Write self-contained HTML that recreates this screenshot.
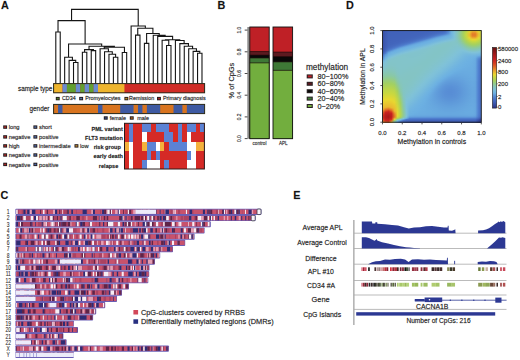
<!DOCTYPE html>
<html><head><meta charset="utf-8"><style>
html,body{margin:0;padding:0;background:#fff;width:520px;height:360px;overflow:hidden}
svg{display:block}
text{font-family:"Liberation Sans", sans-serif;stroke:#222;stroke-width:0.28px;stroke-opacity:0.55}
</style></head><body>
<svg width="520" height="360" viewBox="0 0 520 360">
<text x="0.9" y="8.9" font-size="10.8" font-weight="bold" fill="#111" >A</text>
<text x="217.4" y="9.2" font-size="10.8" font-weight="bold" fill="#111" >B</text>
<text x="346.1" y="8.9" font-size="10.8" font-weight="bold" fill="#111" >D</text>
<text x="0.4" y="199" font-size="10.8" font-weight="bold" fill="#111" >C</text>
<text x="293.2" y="199.2" font-size="10.8" font-weight="bold" fill="#111" >E</text>
<path d="M55.80 32.00L55.80 83.20M60.23 32.00L60.23 83.20M55.80 32.00L60.23 32.00M73.52 62.50L73.52 83.20M77.95 62.50L77.95 83.20M73.52 62.50L77.95 62.50M69.09 60.40L69.09 83.20M75.73 60.40L75.73 62.50M69.09 60.40L75.73 60.40M64.66 57.30L64.66 83.20M72.41 57.30L72.41 60.40M64.66 57.30L72.41 57.30M82.38 52.20L82.38 83.20M86.81 52.20L86.81 83.20M82.38 52.20L86.81 52.20M91.24 50.60L91.24 83.20M95.67 50.60L95.67 83.20M91.24 50.60L95.67 50.60M84.59 49.60L84.59 52.20M93.45 49.60L93.45 50.60M84.59 49.60L93.45 49.60M113.39 57.20L113.39 83.20M117.82 57.20L117.82 83.20M113.39 57.20L117.82 57.20M108.96 54.25L108.96 83.20M115.60 54.25L115.60 57.20M108.96 54.25L115.60 54.25M104.53 51.75L104.53 83.20M112.28 51.75L112.28 54.25M104.53 51.75L112.28 51.75M100.10 48.80L100.10 83.20M108.41 48.80L108.41 51.75M100.10 48.80L108.41 48.80M122.25 52.50L122.25 83.20M126.68 52.50L126.68 83.20M122.25 52.50L126.68 52.50M104.25 47.30L104.25 48.80M124.46 47.30L124.46 52.50M104.25 47.30L124.46 47.30M89.02 46.30L89.02 49.60M114.36 46.30L114.36 47.30M89.02 46.30L114.36 46.30M68.54 44.00L68.54 57.30M101.69 44.00L101.69 46.30M68.54 44.00L101.69 44.00M58.02 20.60L58.02 32.00M85.11 20.60L85.11 44.00M58.02 20.60L85.11 20.60M135.54 35.10L135.54 83.20M139.97 35.10L139.97 83.20M135.54 35.10L139.97 35.10M144.40 43.40L144.40 83.20M148.83 43.40L148.83 83.20M144.40 43.40L148.83 43.40M166.55 45.50L166.55 83.20M170.98 45.50L170.98 83.20M166.55 45.50L170.98 45.50M162.12 40.20L162.12 83.20M168.76 40.20L168.76 45.50M162.12 40.20L168.76 40.20M197.56 53.30L197.56 83.20M201.99 53.30L201.99 83.20M197.56 53.30L201.99 53.30M193.13 51.40L193.13 83.20M199.78 51.40L199.78 53.30M193.13 51.40L199.78 51.40M188.70 48.70L188.70 83.20M196.45 48.70L196.45 51.40M188.70 48.70L196.45 48.70M184.27 46.30L184.27 83.20M192.58 46.30L192.58 48.70M184.27 46.30L192.58 46.30M179.84 43.60L179.84 83.20M188.42 43.60L188.42 46.30M179.84 43.60L188.42 43.60M175.41 40.50L175.41 83.20M184.13 40.50L184.13 43.60M175.41 40.50L184.13 40.50M165.44 39.70L165.44 40.20M179.77 39.70L179.77 40.50M165.44 39.70L179.77 39.70M157.69 36.40L157.69 83.20M172.61 36.40L172.61 39.70M157.69 36.40L172.61 36.40M153.26 35.20L153.26 83.20M165.15 35.20L165.15 36.40M153.26 35.20L165.15 35.20M146.61 33.50L146.61 43.40M159.20 33.50L159.20 35.20M146.61 33.50L159.20 33.50M137.75 28.30L137.75 35.10M152.91 28.30L152.91 33.50M137.75 28.30L152.91 28.30M131.11 26.00L131.11 83.20M145.33 26.00L145.33 28.30M131.11 26.00L145.33 26.00M71.56 9.40L71.56 20.60M138.22 9.40L138.22 26.00M71.56 9.40L138.22 9.40" stroke="#151515" stroke-width="1.1" fill="none" stroke-linecap="square"/>
<rect x="53.6" y="83.6" width="151" height="9.2" fill="#d02c26"/>
<rect x="53.6" y="83.6" width="8.88" height="9.2" fill="#eeb52e"/>
<rect x="62.48" y="83.6" width="4.44" height="9.2" fill="#6a8cd0"/>
<rect x="66.92" y="83.6" width="8.88" height="9.2" fill="#62a030"/>
<rect x="75.81" y="83.6" width="4.44" height="9.2" fill="#6a8cd0"/>
<rect x="80.25" y="83.6" width="4.44" height="9.2" fill="#62a030"/>
<rect x="84.69" y="83.6" width="4.44" height="9.2" fill="#6a8cd0"/>
<rect x="89.13" y="83.6" width="4.44" height="9.2" fill="#62a030"/>
<rect x="93.57" y="83.6" width="4.44" height="9.2" fill="#6a8cd0"/>
<rect x="98.01" y="83.6" width="26.65" height="9.2" fill="#eeb52e"/>
<rect x="124.66" y="83.6" width="79.94" height="9.2" fill="#d02c26"/>
<rect x="53.6" y="83.6" width="151" height="9.2" fill="none" stroke="#2a2a1a" stroke-width="1"/>
<rect x="53.6" y="104.4" width="151" height="9.2" fill="#3e5aa2"/>
<rect x="53.6" y="104.4" width="4.44" height="9.2" fill="#d8741f"/>
<rect x="62.48" y="104.4" width="35.53" height="9.2" fill="#d8741f"/>
<rect x="102.45" y="104.4" width="17.76" height="9.2" fill="#d8741f"/>
<rect x="133.54" y="104.4" width="4.44" height="9.2" fill="#d8741f"/>
<rect x="142.42" y="104.4" width="4.44" height="9.2" fill="#d8741f"/>
<rect x="160.19" y="104.4" width="13.32" height="9.2" fill="#d8741f"/>
<rect x="182.39" y="104.4" width="4.44" height="9.2" fill="#d8741f"/>
<rect x="53.6" y="104.4" width="151" height="9.2" fill="none" stroke="#2a2a1a" stroke-width="1"/>
<text x="18" y="90.8" font-size="6.35" fill="#222" >sample type</text>
<text x="29.5" y="110.8" font-size="6.4" fill="#222" >gender</text>
<rect x="55.8" y="96.9" width="3.9" height="3.4" fill="#221a1c"/>
<rect x="56.7" y="97.85" width="2.1" height="1.5" fill="#52802c"/>
<text x="61.9" y="100.4" font-size="5.4" fill="#222" >CD34</text>
<rect x="79.2" y="96.9" width="3.9" height="3.4" fill="#221a1c"/>
<rect x="80.1" y="97.85" width="2.1" height="1.5" fill="#5871a4"/>
<text x="85.2" y="100.4" font-size="5.4" fill="#222" >Promyelocytes</text>
<rect x="124.4" y="96.9" width="3.9" height="3.4" fill="#221a1c"/>
<rect x="125.3" y="97.85" width="2.1" height="1.5" fill="#bb902b"/>
<text x="129.1" y="100.4" font-size="5.4" fill="#222" >Remission</text>
<rect x="157" y="96.9" width="3.9" height="3.4" fill="#221a1c"/>
<rect x="157.9" y="97.85" width="2.1" height="1.5" fill="#a42925"/>
<text x="162.9" y="100.4" font-size="5.4" fill="#222" >Primary diagnosis</text>
<rect x="103.8" y="116.3" width="3.9" height="3.4" fill="#221a1c"/>
<rect x="104.7" y="117.25" width="2.1" height="1.5" fill="#374c82"/>
<text x="109.8" y="119.9" font-size="5.4" fill="#222" >female</text>
<rect x="129.8" y="116.3" width="3.9" height="3.4" fill="#221a1c"/>
<rect x="130.7" y="117.25" width="2.1" height="1.5" fill="#aa5f1f"/>
<text x="137.3" y="119.9" font-size="5.4" fill="#222" >male</text>
<rect x="124.5" y="123.3" width="79.9" height="45.7" fill="#d52a26"/>
<rect x="128.94" y="123.3" width="4.44" height="9.14" fill="#5c82d4" shape-rendering="crispEdges"/>
<rect x="142.26" y="123.3" width="8.88" height="9.14" fill="#5c82d4" shape-rendering="crispEdges"/>
<rect x="155.57" y="123.3" width="13.32" height="9.14" fill="#5c82d4" shape-rendering="crispEdges"/>
<rect x="177.77" y="123.3" width="4.44" height="9.14" fill="#5c82d4" shape-rendering="crispEdges"/>
<rect x="186.64" y="123.3" width="8.88" height="9.14" fill="#5c82d4" shape-rendering="crispEdges"/>
<rect x="199.96" y="123.3" width="4.44" height="9.14" fill="#5c82d4" shape-rendering="crispEdges"/>
<rect x="128.94" y="132.44" width="4.44" height="9.14" fill="#5c82d4" shape-rendering="crispEdges"/>
<rect x="142.26" y="132.44" width="4.44" height="9.14" fill="#ffffff" shape-rendering="crispEdges"/>
<rect x="164.45" y="132.44" width="8.88" height="9.14" fill="#5c82d4" shape-rendering="crispEdges"/>
<rect x="177.77" y="132.44" width="4.44" height="9.14" fill="#5c82d4" shape-rendering="crispEdges"/>
<rect x="186.64" y="132.44" width="4.44" height="9.14" fill="#ffffff" shape-rendering="crispEdges"/>
<rect x="124.5" y="141.58" width="4.44" height="9.14" fill="#f4b13c" shape-rendering="crispEdges"/>
<rect x="128.94" y="141.58" width="4.44" height="9.14" fill="#ffffff" shape-rendering="crispEdges"/>
<rect x="142.26" y="141.58" width="4.44" height="9.14" fill="#f4b13c" shape-rendering="crispEdges"/>
<rect x="146.69" y="141.58" width="8.88" height="9.14" fill="#5c82d4" shape-rendering="crispEdges"/>
<rect x="155.57" y="141.58" width="4.44" height="9.14" fill="#ffffff" shape-rendering="crispEdges"/>
<rect x="160.01" y="141.58" width="4.44" height="9.14" fill="#f4b13c" shape-rendering="crispEdges"/>
<rect x="168.89" y="141.58" width="17.76" height="9.14" fill="#5c82d4" shape-rendering="crispEdges"/>
<rect x="186.64" y="141.58" width="8.88" height="9.14" fill="#ffffff" shape-rendering="crispEdges"/>
<rect x="195.52" y="141.58" width="8.88" height="9.14" fill="#f4b13c" shape-rendering="crispEdges"/>
<rect x="128.94" y="150.72" width="4.44" height="9.14" fill="#ffffff" shape-rendering="crispEdges"/>
<rect x="146.69" y="150.72" width="4.44" height="9.14" fill="#5c82d4" shape-rendering="crispEdges"/>
<rect x="155.57" y="150.72" width="4.44" height="9.14" fill="#5c82d4" shape-rendering="crispEdges"/>
<rect x="186.64" y="150.72" width="4.44" height="9.14" fill="#5c82d4" shape-rendering="crispEdges"/>
<rect x="191.08" y="150.72" width="4.44" height="9.14" fill="#ffffff" shape-rendering="crispEdges"/>
<rect x="128.94" y="159.86" width="4.44" height="9.14" fill="#ffffff" shape-rendering="crispEdges"/>
<rect x="142.26" y="159.86" width="4.44" height="9.14" fill="#5c82d4" shape-rendering="crispEdges"/>
<rect x="146.69" y="159.86" width="13.32" height="9.14" fill="#ffffff" shape-rendering="crispEdges"/>
<rect x="164.45" y="159.86" width="4.44" height="9.14" fill="#5c82d4" shape-rendering="crispEdges"/>
<rect x="186.64" y="159.86" width="8.88" height="9.14" fill="#ffffff" shape-rendering="crispEdges"/>
<rect x="124.5" y="123.3" width="79.9" height="45.7" fill="none" stroke="#2a1a1a" stroke-width="1"/>
<text x="122.8" y="130.9" font-size="5.55" text-anchor="end" font-weight="bold" fill="#222" >PML variant</text>
<text x="122.8" y="140.2" font-size="5.55" text-anchor="end" font-weight="bold" fill="#222" >FLT3 mutation</text>
<text x="120.8" y="149.3" font-size="5.55" text-anchor="end" font-weight="bold" fill="#222" >risk group</text>
<text x="122.9" y="158.4" font-size="5.55" text-anchor="end" font-weight="bold" fill="#222" >early death</text>
<text x="118.3" y="167.8" font-size="5.55" text-anchor="end" font-weight="bold" fill="#222" >relapse</text>
<rect x="3.2" y="125.4" width="3.9" height="3.4" fill="#221a1c"/>
<rect x="4.1" y="126.35" width="2.1" height="1.5" fill="#a82825"/>
<text x="8.7" y="129.2" font-size="5.75" fill="#222" >long</text>
<rect x="33.4" y="125.4" width="3.9" height="3.4" fill="#221a1c"/>
<rect x="34.3" y="126.35" width="2.1" height="1.5" fill="#4d6aa7"/>
<text x="39" y="129.2" font-size="5.75" fill="#222" >short</text>
<rect x="3.2" y="135.2" width="3.9" height="3.4" fill="#221a1c"/>
<rect x="4.1" y="136.15" width="2.1" height="1.5" fill="#a82825"/>
<text x="8.7" y="139" font-size="5.75" fill="#222" >negative</text>
<rect x="33.4" y="135.2" width="3.9" height="3.4" fill="#221a1c"/>
<rect x="34.3" y="136.15" width="2.1" height="1.5" fill="#4d6aa7"/>
<text x="39" y="139" font-size="5.75" fill="#222" >positive</text>
<rect x="3.2" y="144.2" width="3.9" height="3.4" fill="#221a1c"/>
<rect x="4.1" y="145.15" width="2.1" height="1.5" fill="#a82825"/>
<text x="8.7" y="148" font-size="5.75" fill="#222" >high</text>
<rect x="33.4" y="144.2" width="3.9" height="3.4" fill="#221a1c"/>
<rect x="34.3" y="145.15" width="2.1" height="1.5" fill="#4d6aa7"/>
<text x="39" y="148" font-size="5.75" fill="#222" >intermediate</text>
<rect x="3.2" y="153.3" width="3.9" height="3.4" fill="#221a1c"/>
<rect x="4.1" y="154.25" width="2.1" height="1.5" fill="#a82825"/>
<text x="8.7" y="157.1" font-size="5.75" fill="#222" >negative</text>
<rect x="33.4" y="153.3" width="3.9" height="3.4" fill="#221a1c"/>
<rect x="34.3" y="154.25" width="2.1" height="1.5" fill="#4d6aa7"/>
<text x="39" y="157.1" font-size="5.75" fill="#222" >positive</text>
<rect x="3.2" y="162.7" width="3.9" height="3.4" fill="#221a1c"/>
<rect x="4.1" y="163.65" width="2.1" height="1.5" fill="#a82825"/>
<text x="8.7" y="166.5" font-size="5.75" fill="#222" >negative</text>
<rect x="33.4" y="162.7" width="3.9" height="3.4" fill="#221a1c"/>
<rect x="34.3" y="163.65" width="2.1" height="1.5" fill="#4d6aa7"/>
<text x="39" y="166.5" font-size="5.75" fill="#222" >positive</text>
<rect x="74.5" y="144.2" width="3.9" height="3.4" fill="#221a1c"/>
<rect x="75.4" y="145.15" width="2.1" height="1.5" fill="#bf8d35"/>
<text x="80.1" y="148" font-size="5.75" fill="#222" >low</text>
<rect x="247.3" y="27" width="2.3" height="111.7" fill="#8c8c8c"/>
<line x1="244.7" y1="138.6" x2="247.5" y2="138.6" stroke="#333" stroke-width="0.9"/>
<text transform="translate(240.8,138.60) rotate(-90)" font-size="4.9" text-anchor="middle" fill="#444">0.0</text>
<line x1="244.7" y1="116.9" x2="247.5" y2="116.9" stroke="#333" stroke-width="0.9"/>
<text transform="translate(240.8,116.90) rotate(-90)" font-size="4.9" text-anchor="middle" fill="#444">0.2</text>
<line x1="244.7" y1="95.2" x2="247.5" y2="95.2" stroke="#333" stroke-width="0.9"/>
<text transform="translate(240.8,95.20) rotate(-90)" font-size="4.9" text-anchor="middle" fill="#444">0.4</text>
<line x1="244.7" y1="73.5" x2="247.5" y2="73.5" stroke="#333" stroke-width="0.9"/>
<text transform="translate(240.8,73.50) rotate(-90)" font-size="4.9" text-anchor="middle" fill="#444">0.6</text>
<line x1="244.7" y1="51.8" x2="247.5" y2="51.8" stroke="#333" stroke-width="0.9"/>
<text transform="translate(240.8,51.80) rotate(-90)" font-size="4.9" text-anchor="middle" fill="#444">0.8</text>
<line x1="244.7" y1="30.1" x2="247.5" y2="30.1" stroke="#333" stroke-width="0.9"/>
<text transform="translate(240.8,30.10) rotate(-90)" font-size="4.9" text-anchor="middle" fill="#444">1.0</text>
<text transform="translate(233.7,80.6) rotate(-90)" font-size="7.4" text-anchor="middle" fill="#222">% of CpGs</text>
<rect x="249.8" y="27" width="19.4" height="111.7" fill="#bf2026"/>
<rect x="249.8" y="51.57" width="19.4" height="87.13" fill="#5c1a20"/>
<rect x="249.8" y="55.15" width="19.4" height="83.55" fill="#080808"/>
<rect x="249.8" y="57.94" width="19.4" height="80.76" fill="#3e7836"/>
<rect x="249.8" y="62.86" width="19.4" height="75.84" fill="#72ae3e"/>
<line x1="249.8" y1="62.86" x2="269.2" y2="62.86" stroke="#1a0a0a" stroke-width="0.7"/>
<line x1="249.8" y1="57.94" x2="269.2" y2="57.94" stroke="#1a0a0a" stroke-width="0.7"/>
<line x1="249.8" y1="55.15" x2="269.2" y2="55.15" stroke="#1a0a0a" stroke-width="0.7"/>
<line x1="249.8" y1="51.57" x2="269.2" y2="51.57" stroke="#1a0a0a" stroke-width="0.7"/>
<rect x="249.8" y="27" width="19.4" height="111.7" fill="none" stroke="#111" stroke-width="0.9"/>
<rect x="273" y="27" width="19.6" height="111.7" fill="#bf2026"/>
<rect x="273" y="52.13" width="19.6" height="86.57" fill="#5c1a20"/>
<rect x="273" y="56.71" width="19.6" height="81.99" fill="#080808"/>
<rect x="273" y="61.85" width="19.6" height="76.85" fill="#3e7836"/>
<rect x="273" y="70.34" width="19.6" height="68.36" fill="#72ae3e"/>
<line x1="273" y1="70.34" x2="292.6" y2="70.34" stroke="#1a0a0a" stroke-width="0.7"/>
<line x1="273" y1="61.85" x2="292.6" y2="61.85" stroke="#1a0a0a" stroke-width="0.7"/>
<line x1="273" y1="56.71" x2="292.6" y2="56.71" stroke="#1a0a0a" stroke-width="0.7"/>
<line x1="273" y1="52.13" x2="292.6" y2="52.13" stroke="#1a0a0a" stroke-width="0.7"/>
<rect x="273" y="27" width="19.6" height="111.7" fill="none" stroke="#111" stroke-width="0.9"/>
<text x="259.5" y="144.6" font-size="4.7" text-anchor="middle" fill="#444" >control</text>
<text x="283.3" y="144.6" font-size="4.6" text-anchor="middle" fill="#444" >APL</text>
<text x="306" y="69.6" font-size="8.25" fill="#222" >methylation</text>
<rect x="306.7" y="74.4" width="6.1" height="4" fill="#2a2224"/>
<rect x="307.8" y="75.4" width="3.9" height="2" fill="#bf2026"/>
<text x="317.5" y="79" font-size="7.25" fill="#222" >80−100%</text>
<rect x="306.7" y="81.8" width="6.1" height="4" fill="#2a2224"/>
<rect x="307.8" y="82.8" width="3.9" height="2" fill="#5c1a20"/>
<text x="317.5" y="86.4" font-size="7.25" fill="#222" >60−80%</text>
<rect x="306.7" y="89.2" width="6.1" height="4" fill="#2a2224"/>
<rect x="307.8" y="90.2" width="3.9" height="2" fill="#080808"/>
<text x="317.5" y="93.8" font-size="7.25" fill="#222" >40−60%</text>
<rect x="306.7" y="96.6" width="6.1" height="4" fill="#2a2224"/>
<rect x="307.8" y="97.6" width="3.9" height="2" fill="#3e7836"/>
<text x="317.5" y="101.2" font-size="7.25" fill="#222" >20−40%</text>
<rect x="306.7" y="104" width="6.1" height="4" fill="#2a2224"/>
<rect x="307.8" y="105" width="3.9" height="2" fill="#72ae3e"/>
<text x="317.5" y="108.6" font-size="7.25" fill="#222" >0−20%</text>
<rect x="15.40" y="208.72" width="246.00" height="6.16" rx="0.8" fill="#6a5eb6"/>
<rect x="16.20" y="209.67" width="244.40" height="4.26" fill="#c45a78"/>
<path fill="#f6eef4" d="M16.2 209.67h1.65v4.26h-1.65zM42.7 209.67h2.05v4.26h-2.05zM62 209.67h0.85v4.26h-0.85zM107.2 209.67h1.65v4.26h-1.65zM108.8 209.67h1.05v4.26h-1.05zM110.8 209.67h1.35v4.26h-1.35zM118.6 209.67h1.65v4.26h-1.65zM127.6 209.67h1.65v4.26h-1.65zM148.5 209.67h1.05v4.26h-1.05zM164.6 209.67h0.85v4.26h-0.85zM172.7 209.67h0.85v4.26h-0.85zM175.1 209.67h0.85v4.26h-0.85zM185.7 209.67h1.35v4.26h-1.35zM218.2 209.67h1.05v4.26h-1.05zM223.9 209.67h1.35v4.26h-1.35zM234.2 209.67h0.85v4.26h-0.85zM235 209.67h1.35v4.26h-1.35zM245 209.67h1.05v4.26h-1.05z"/>
<path fill="#aa4262" d="M17.8 209.67h1.65v4.26h-1.65zM21.4 209.67h2.05v4.26h-2.05zM25.4 209.67h0.85v4.26h-0.85zM59.9 209.67h0.85v4.26h-0.85zM60.7 209.67h1.35v4.26h-1.35zM63.6 209.67h0.85v4.26h-0.85zM64.4 209.67h2.55v4.26h-2.55zM76.2 209.67h0.85v4.26h-0.85zM86.7 209.67h0.85v4.26h-0.85zM100 209.67h1.35v4.26h-1.35zM125.1 209.67h2.55v4.26h-2.55zM154.3 209.67h0.85v4.26h-0.85zM162.6 209.67h2.05v4.26h-2.05zM170.2 209.67h2.55v4.26h-2.55zM177.9 209.67h2.55v4.26h-2.55zM192 209.67h1.65v4.26h-1.65zM206.5 209.67h0.85v4.26h-0.85zM215.7 209.67h2.55v4.26h-2.55zM225.2 209.67h0.85v4.26h-0.85zM227.3 209.67h1.65v4.26h-1.65zM232.2 209.67h2.05v4.26h-2.05zM241.7 209.67h1.05v4.26h-1.05z"/>
<path fill="#c8526c" d="M19.4 209.67h2.05v4.26h-2.05zM26.2 209.67h1.05v4.26h-1.05zM35.3 209.67h2.05v4.26h-2.05zM37.3 209.67h2.05v4.26h-2.05zM39.3 209.67h0.85v4.26h-0.85zM41.1 209.67h1.65v4.26h-1.65zM44.7 209.67h2.05v4.26h-2.05zM48 209.67h2.55v4.26h-2.55zM50.5 209.67h2.55v4.26h-2.55zM57.1 209.67h2.05v4.26h-2.05zM62.8 209.67h0.85v4.26h-0.85zM68.7 209.67h1.35v4.26h-1.35zM70 209.67h1.35v4.26h-1.35zM72.9 209.67h0.85v4.26h-0.85zM73.7 209.67h2.55v4.26h-2.55zM77 209.67h1.65v4.26h-1.65zM78.6 209.67h2.05v4.26h-2.05zM80.6 209.67h2.05v4.26h-2.05zM87.5 209.67h1.05v4.26h-1.05zM88.5 209.67h2.05v4.26h-2.05zM90.5 209.67h0.85v4.26h-0.85zM94.9 209.67h0.85v4.26h-0.85zM95.7 209.67h1.05v4.26h-1.05zM96.7 209.67h1.35v4.26h-1.35zM98 209.67h2.05v4.26h-2.05zM101.3 209.67h0.85v4.26h-0.85zM112.1 209.67h2.05v4.26h-2.05zM114.1 209.67h1.05v4.26h-1.05zM120.2 209.67h2.05v4.26h-2.05zM122.2 209.67h0.85v4.26h-0.85zM123.8 209.67h1.35v4.26h-1.35zM131.2 209.67h2.05v4.26h-2.05zM135.7 209.67h1.05v4.26h-1.05zM140.7 209.67h1.35v4.26h-1.35zM143 209.67h0.85v4.26h-0.85zM143.8 209.67h1.65v4.26h-1.65zM145.4 209.67h0.85v4.26h-0.85zM147.5 209.67h1.05v4.26h-1.05zM156.4 209.67h0.85v4.26h-0.85zM157.2 209.67h2.55v4.26h-2.55zM160.5 209.67h1.35v4.26h-1.35zM161.8 209.67h0.85v4.26h-0.85zM168.9 209.67h1.35v4.26h-1.35zM175.9 209.67h2.05v4.26h-2.05zM180.4 209.67h2.05v4.26h-2.05zM182.4 209.67h0.85v4.26h-0.85zM183.2 209.67h2.55v4.26h-2.55zM187 209.67h2.55v4.26h-2.55zM193.6 209.67h2.05v4.26h-2.05zM195.6 209.67h2.05v4.26h-2.05zM197.6 209.67h2.05v4.26h-2.05zM199.6 209.67h0.85v4.26h-0.85zM200.4 209.67h2.55v4.26h-2.55zM204.9 209.67h1.65v4.26h-1.65zM212.2 209.67h1.05v4.26h-1.05zM213.2 209.67h2.55v4.26h-2.55zM219.2 209.67h1.65v4.26h-1.65zM220.8 209.67h1.35v4.26h-1.35zM239.7 209.67h2.05v4.26h-2.05zM242.7 209.67h1.05v4.26h-1.05zM243.7 209.67h1.35v4.26h-1.35zM246 209.67h2.55v4.26h-2.55zM253.1 209.67h2.55v4.26h-2.55zM255.6 209.67h1.65v4.26h-1.65zM257.2 209.67h2.55v4.26h-2.55z"/>
<path fill="#2e2c74" d="M23.4 209.67h2.05v4.26h-2.05zM27.2 209.67h2.55v4.26h-2.55zM31.7 209.67h1.65v4.26h-1.65zM33.3 209.67h2.05v4.26h-2.05zM55 209.67h0.85v4.26h-0.85zM55.8 209.67h1.35v4.26h-1.35zM67.7 209.67h1.05v4.26h-1.05zM71.3 209.67h1.65v4.26h-1.65zM82.6 209.67h2.55v4.26h-2.55zM85.1 209.67h1.65v4.26h-1.65zM92.9 209.67h2.05v4.26h-2.05zM102.1 209.67h2.05v4.26h-2.05zM117.6 209.67h1.05v4.26h-1.05zM136.7 209.67h2.05v4.26h-2.05zM142 209.67h1.05v4.26h-1.05zM149.5 209.67h1.35v4.26h-1.35zM155.1 209.67h1.35v4.26h-1.35zM159.7 209.67h0.85v4.26h-0.85zM165.4 209.67h2.55v4.26h-2.55zM167.9 209.67h1.05v4.26h-1.05zM189.5 209.67h2.55v4.26h-2.55zM202.9 209.67h2.05v4.26h-2.05zM207.3 209.67h1.05v4.26h-1.05zM209.3 209.67h1.35v4.26h-1.35zM223.1 209.67h0.85v4.26h-0.85zM230.9 209.67h1.35v4.26h-1.35zM236.3 209.67h0.85v4.26h-0.85zM238.4 209.67h1.35v4.26h-1.35zM248.5 209.67h0.85v4.26h-0.85zM249.3 209.67h2.55v4.26h-2.55z"/>
<path fill="#e4a0b4" d="M29.7 209.67h2.05v4.26h-2.05zM53 209.67h2.05v4.26h-2.05zM91.3 209.67h1.65v4.26h-1.65zM106.2 209.67h1.05v4.26h-1.05zM115.1 209.67h2.55v4.26h-2.55zM133.2 209.67h2.55v4.26h-2.55zM173.5 209.67h1.65v4.26h-1.65zM226 209.67h1.35v4.26h-1.35zM251.8 209.67h1.35v4.26h-1.35z"/>
<path fill="#5e2448" d="M40.1 209.67h1.05v4.26h-1.05zM46.7 209.67h1.35v4.26h-1.35zM59.1 209.67h0.85v4.26h-0.85zM66.9 209.67h0.85v4.26h-0.85zM104.1 209.67h0.85v4.26h-0.85zM104.9 209.67h1.35v4.26h-1.35zM109.8 209.67h1.05v4.26h-1.05zM123 209.67h0.85v4.26h-0.85zM129.2 209.67h2.05v4.26h-2.05zM138.7 209.67h2.05v4.26h-2.05zM146.2 209.67h1.35v4.26h-1.35zM150.8 209.67h2.55v4.26h-2.55zM153.3 209.67h1.05v4.26h-1.05zM208.3 209.67h1.05v4.26h-1.05zM210.6 209.67h1.65v4.26h-1.65zM222.1 209.67h1.05v4.26h-1.05zM228.9 209.67h2.05v4.26h-2.05zM237.1 209.67h1.35v4.26h-1.35zM259.7 209.67h0.95v4.26h-0.95z"/>
<rect x="135.5" y="209.67" width="20.5" height="4.26" fill="#ececfa"/>
<rect x="257.00" y="209.02" width="4.0" height="5.56" rx="1.0" fill="#f6f2fa" stroke="#3a3a4a" stroke-width="0.8"/>
<text transform="translate(8.2,214.1) scale(0.76,1)" font-size="6.5" text-anchor="middle" fill="#333" style="stroke-width:0.2px">1</text>
<rect x="15.40" y="214.94" width="240.20" height="6.16" rx="0.8" fill="#6a5eb6"/>
<rect x="16.20" y="215.89" width="238.60" height="4.26" fill="#c45a78"/>
<path fill="#c8526c" d="M16.2 215.89h0.85v4.26h-0.85zM45.1 215.89h0.85v4.26h-0.85zM48.8 215.89h1.35v4.26h-1.35zM58 215.89h0.85v4.26h-0.85zM59.6 215.89h0.85v4.26h-0.85zM70.8 215.89h2.55v4.26h-2.55zM74.3 215.89h2.05v4.26h-2.05zM79.8 215.89h2.05v4.26h-2.05zM84.3 215.89h2.05v4.26h-2.05zM87.3 215.89h2.05v4.26h-2.05zM89.3 215.89h1.65v4.26h-1.65zM90.9 215.89h2.05v4.26h-2.05zM96.9 215.89h2.05v4.26h-2.05zM102.1 215.89h1.65v4.26h-1.65zM108.2 215.89h0.85v4.26h-0.85zM109 215.89h2.05v4.26h-2.05zM111 215.89h1.35v4.26h-1.35zM112.3 215.89h0.85v4.26h-0.85zM113.1 215.89h1.05v4.26h-1.05zM114.1 215.89h2.55v4.26h-2.55zM116.6 215.89h2.55v4.26h-2.55zM123.5 215.89h2.05v4.26h-2.05zM126.5 215.89h1.65v4.26h-1.65zM132.6 215.89h2.05v4.26h-2.05zM140.1 215.89h1.05v4.26h-1.05zM146.2 215.89h1.05v4.26h-1.05zM154.7 215.89h2.55v4.26h-2.55zM158.8 215.89h0.85v4.26h-0.85zM161.6 215.89h1.35v4.26h-1.35zM169.5 215.89h0.85v4.26h-0.85zM174.3 215.89h1.05v4.26h-1.05zM175.3 215.89h1.05v4.26h-1.05zM177.3 215.89h2.55v4.26h-2.55zM179.8 215.89h0.85v4.26h-0.85zM183.1 215.89h0.85v4.26h-0.85zM191.3 215.89h1.05v4.26h-1.05zM192.3 215.89h1.65v4.26h-1.65zM197 215.89h0.85v4.26h-0.85zM208.9 215.89h1.35v4.26h-1.35zM212 215.89h1.65v4.26h-1.65zM219 215.89h1.65v4.26h-1.65zM220.6 215.89h1.05v4.26h-1.05zM221.6 215.89h1.35v4.26h-1.35zM222.9 215.89h0.85v4.26h-0.85zM225 215.89h2.05v4.26h-2.05zM228.3 215.89h2.55v4.26h-2.55zM231.8 215.89h2.05v4.26h-2.05zM236.2 215.89h2.55v4.26h-2.55zM240.3 215.89h0.85v4.26h-0.85zM243.2 215.89h2.05v4.26h-2.05zM246.2 215.89h0.85v4.26h-0.85zM247 215.89h1.35v4.26h-1.35zM254.4 215.89h0.45v4.26h-0.45z"/>
<path fill="#2e2c74" d="M17 215.89h1.35v4.26h-1.35zM18.3 215.89h2.05v4.26h-2.05zM34 215.89h2.05v4.26h-2.05zM41.8 215.89h0.85v4.26h-0.85zM60.4 215.89h1.35v4.26h-1.35zM98.9 215.89h0.85v4.26h-0.85zM121.1 215.89h1.65v4.26h-1.65zM125.5 215.89h1.05v4.26h-1.05zM149.2 215.89h1.05v4.26h-1.05zM159.6 215.89h2.05v4.26h-2.05zM162.9 215.89h2.05v4.26h-2.05zM188.8 215.89h2.55v4.26h-2.55zM210.2 215.89h0.85v4.26h-0.85zM217.4 215.89h1.65v4.26h-1.65zM230.8 215.89h1.05v4.26h-1.05zM234.6 215.89h1.65v4.26h-1.65zM241.1 215.89h0.85v4.26h-0.85zM245.2 215.89h1.05v4.26h-1.05zM253.6 215.89h0.85v4.26h-0.85z"/>
<path fill="#5e2448" d="M20.3 215.89h2.05v4.26h-2.05zM47.5 215.89h1.35v4.26h-1.35zM52.6 215.89h1.35v4.26h-1.35zM56.7 215.89h1.35v4.26h-1.35zM69.2 215.89h1.65v4.26h-1.65zM76.3 215.89h2.55v4.26h-2.55zM78.8 215.89h1.05v4.26h-1.05zM92.9 215.89h0.85v4.26h-0.85zM93.7 215.89h0.85v4.26h-0.85zM94.5 215.89h0.85v4.26h-0.85zM95.3 215.89h1.65v4.26h-1.65zM103.7 215.89h1.65v4.26h-1.65zM106.6 215.89h1.65v4.26h-1.65zM119.1 215.89h2.05v4.26h-2.05zM130.6 215.89h2.05v4.26h-2.05zM134.6 215.89h2.55v4.26h-2.55zM137.1 215.89h1.05v4.26h-1.05zM138.1 215.89h2.05v4.26h-2.05zM141.1 215.89h2.55v4.26h-2.55zM144.9 215.89h1.35v4.26h-1.35zM153.1 215.89h1.65v4.26h-1.65zM157.2 215.89h1.65v4.26h-1.65zM164.9 215.89h1.35v4.26h-1.35zM170.3 215.89h2.05v4.26h-2.05zM195.2 215.89h1.05v4.26h-1.05zM196.2 215.89h0.85v4.26h-0.85zM203.6 215.89h2.05v4.26h-2.05zM205.6 215.89h2.05v4.26h-2.05zM248.3 215.89h1.35v4.26h-1.35zM251.6 215.89h2.05v4.26h-2.05z"/>
<path fill="#aa4262" d="M22.3 215.89h1.05v4.26h-1.05zM25.8 215.89h0.85v4.26h-0.85zM26.6 215.89h2.55v4.26h-2.55zM29.1 215.89h1.65v4.26h-1.65zM33.2 215.89h0.85v4.26h-0.85zM38 215.89h1.35v4.26h-1.35zM53.9 215.89h0.85v4.26h-0.85zM54.7 215.89h2.05v4.26h-2.05zM58.8 215.89h0.85v4.26h-0.85zM61.7 215.89h1.05v4.26h-1.05zM66.7 215.89h2.55v4.26h-2.55zM73.3 215.89h1.05v4.26h-1.05zM81.8 215.89h2.55v4.26h-2.55zM100.5 215.89h1.65v4.26h-1.65zM105.3 215.89h1.35v4.26h-1.35zM128.1 215.89h2.55v4.26h-2.55zM150.2 215.89h1.35v4.26h-1.35zM168.7 215.89h0.85v4.26h-0.85zM172.3 215.89h2.05v4.26h-2.05zM180.6 215.89h2.55v4.26h-2.55zM183.9 215.89h1.65v4.26h-1.65zM185.5 215.89h1.35v4.26h-1.35zM186.8 215.89h2.05v4.26h-2.05zM193.9 215.89h1.35v4.26h-1.35zM214.9 215.89h2.55v4.26h-2.55zM233.8 215.89h0.85v4.26h-0.85zM241.9 215.89h1.35v4.26h-1.35zM249.6 215.89h2.05v4.26h-2.05z"/>
<path fill="#f6eef4" d="M23.3 215.89h2.55v4.26h-2.55zM30.7 215.89h2.55v4.26h-2.55zM36 215.89h2.05v4.26h-2.05zM50.1 215.89h2.55v4.26h-2.55zM62.7 215.89h2.05v4.26h-2.05zM64.7 215.89h2.05v4.26h-2.05zM122.7 215.89h0.85v4.26h-0.85zM143.6 215.89h1.35v4.26h-1.35zM147.2 215.89h1.05v4.26h-1.05zM148.2 215.89h1.05v4.26h-1.05zM151.5 215.89h1.65v4.26h-1.65zM166.2 215.89h2.55v4.26h-2.55zM197.8 215.89h0.85v4.26h-0.85zM198.6 215.89h2.55v4.26h-2.55zM207.6 215.89h1.35v4.26h-1.35zM211 215.89h1.05v4.26h-1.05zM213.6 215.89h1.35v4.26h-1.35z"/>
<path fill="#e4a0b4" d="M39.3 215.89h2.55v4.26h-2.55zM42.6 215.89h2.55v4.26h-2.55zM45.9 215.89h1.65v4.26h-1.65zM86.3 215.89h1.05v4.26h-1.05zM99.7 215.89h0.85v4.26h-0.85zM176.3 215.89h1.05v4.26h-1.05zM201.1 215.89h2.55v4.26h-2.55zM223.7 215.89h1.35v4.26h-1.35zM227 215.89h1.35v4.26h-1.35zM238.7 215.89h1.65v4.26h-1.65z"/>
<rect x="251.20" y="215.24" width="4.0" height="5.56" rx="1.0" fill="#f6f2fa" stroke="#3a3a4a" stroke-width="0.8"/>
<text transform="translate(8.2,220.32) scale(0.76,1)" font-size="6.5" text-anchor="middle" fill="#333" style="stroke-width:0.2px">2</text>
<rect x="15.40" y="221.16" width="195.40" height="6.16" rx="0.8" fill="#6a5eb6"/>
<rect x="16.20" y="222.11" width="193.80" height="4.26" fill="#c45a78"/>
<path fill="#2e2c74" d="M16.2 222.11h2.05v4.26h-2.05zM31.3 222.11h1.35v4.26h-1.35zM35.1 222.11h0.85v4.26h-0.85zM41.4 222.11h1.35v4.26h-1.35zM61.2 222.11h1.05v4.26h-1.05zM75.5 222.11h1.35v4.26h-1.35zM80.1 222.11h2.55v4.26h-2.55zM99.7 222.11h0.85v4.26h-0.85zM103 222.11h1.05v4.26h-1.05zM122.3 222.11h2.05v4.26h-2.05zM142.4 222.11h2.55v4.26h-2.55zM146.2 222.11h1.35v4.26h-1.35zM202.1 222.11h1.35v4.26h-1.35zM209.5 222.11h0.55v4.26h-0.55z"/>
<path fill="#aa4262" d="M18.2 222.11h0.85v4.26h-0.85zM19 222.11h1.05v4.26h-1.05zM23 222.11h0.85v4.26h-0.85zM23.8 222.11h1.65v4.26h-1.65zM25.4 222.11h2.05v4.26h-2.05zM27.4 222.11h1.35v4.26h-1.35zM28.7 222.11h1.35v4.26h-1.35zM37.9 222.11h1.05v4.26h-1.05zM38.9 222.11h2.55v4.26h-2.55zM46.8 222.11h1.05v4.26h-1.05zM56.5 222.11h1.65v4.26h-1.65zM60.4 222.11h0.85v4.26h-0.85zM66.3 222.11h1.65v4.26h-1.65zM95.4 222.11h1.35v4.26h-1.35zM104 222.11h1.35v4.26h-1.35zM113.3 222.11h1.05v4.26h-1.05zM116.8 222.11h1.05v4.26h-1.05zM124.3 222.11h1.05v4.26h-1.05zM153.6 222.11h1.35v4.26h-1.35zM154.9 222.11h1.05v4.26h-1.05zM160.7 222.11h2.55v4.26h-2.55zM199.2 222.11h1.65v4.26h-1.65z"/>
<path fill="#f6eef4" d="M20 222.11h1.05v4.26h-1.05zM46 222.11h0.85v4.26h-0.85zM51.2 222.11h2.55v4.26h-2.55zM58.1 222.11h1.05v4.26h-1.05zM76.8 222.11h2.05v4.26h-2.05zM89.6 222.11h2.55v4.26h-2.55zM107.9 222.11h1.05v4.26h-1.05zM108.9 222.11h0.85v4.26h-0.85zM109.7 222.11h1.65v4.26h-1.65zM111.3 222.11h2.05v4.26h-2.05zM117.8 222.11h2.55v4.26h-2.55zM126.6 222.11h1.65v4.26h-1.65zM130.6 222.11h1.65v4.26h-1.65zM134.6 222.11h1.05v4.26h-1.05zM144.9 222.11h1.35v4.26h-1.35zM149.5 222.11h2.55v4.26h-2.55zM155.9 222.11h2.55v4.26h-2.55zM163.2 222.11h1.65v4.26h-1.65zM171.9 222.11h1.65v4.26h-1.65zM173.5 222.11h1.35v4.26h-1.35zM179.1 222.11h2.55v4.26h-2.55zM188 222.11h0.85v4.26h-0.85zM192.1 222.11h2.55v4.26h-2.55zM200.8 222.11h1.35v4.26h-1.35zM207.5 222.11h2.05v4.26h-2.05z"/>
<path fill="#5e2448" d="M21 222.11h2.05v4.26h-2.05zM30 222.11h1.35v4.26h-1.35zM42.7 222.11h0.85v4.26h-0.85zM54.7 222.11h1.05v4.26h-1.05zM59.1 222.11h1.35v4.26h-1.35zM62.2 222.11h1.65v4.26h-1.65zM63.8 222.11h2.55v4.26h-2.55zM67.9 222.11h2.55v4.26h-2.55zM82.6 222.11h2.55v4.26h-2.55zM88.6 222.11h1.05v4.26h-1.05zM98.7 222.11h1.05v4.26h-1.05zM106.6 222.11h1.35v4.26h-1.35zM125.3 222.11h1.35v4.26h-1.35zM128.2 222.11h0.85v4.26h-0.85zM129 222.11h1.65v4.26h-1.65zM137.6 222.11h1.35v4.26h-1.35zM147.5 222.11h2.05v4.26h-2.05zM152 222.11h1.65v4.26h-1.65zM164.8 222.11h2.55v4.26h-2.55zM167.3 222.11h1.65v4.26h-1.65zM168.9 222.11h2.05v4.26h-2.05zM174.8 222.11h1.05v4.26h-1.05zM196.2 222.11h1.05v4.26h-1.05zM203.4 222.11h1.65v4.26h-1.65z"/>
<path fill="#c8526c" d="M32.6 222.11h2.55v4.26h-2.55zM35.9 222.11h2.05v4.26h-2.05zM47.8 222.11h1.65v4.26h-1.65zM49.4 222.11h1.05v4.26h-1.05zM55.7 222.11h0.85v4.26h-0.85zM71.4 222.11h2.55v4.26h-2.55zM73.9 222.11h1.65v4.26h-1.65zM78.8 222.11h1.35v4.26h-1.35zM85.1 222.11h2.55v4.26h-2.55zM87.6 222.11h1.05v4.26h-1.05zM92.1 222.11h2.55v4.26h-2.55zM94.6 222.11h0.85v4.26h-0.85zM96.7 222.11h2.05v4.26h-2.05zM100.5 222.11h2.55v4.26h-2.55zM105.3 222.11h1.35v4.26h-1.35zM114.3 222.11h2.55v4.26h-2.55zM120.3 222.11h2.05v4.26h-2.05zM132.2 222.11h1.65v4.26h-1.65zM133.8 222.11h0.85v4.26h-0.85zM135.6 222.11h2.05v4.26h-2.05zM138.9 222.11h2.55v4.26h-2.55zM141.4 222.11h1.05v4.26h-1.05zM158.4 222.11h1.05v4.26h-1.05zM159.4 222.11h1.35v4.26h-1.35zM170.9 222.11h1.05v4.26h-1.05zM175.8 222.11h2.05v4.26h-2.05zM181.6 222.11h1.65v4.26h-1.65zM183.2 222.11h2.05v4.26h-2.05zM185.2 222.11h2.05v4.26h-2.05zM187.2 222.11h0.85v4.26h-0.85zM188.8 222.11h0.85v4.26h-0.85zM189.6 222.11h2.55v4.26h-2.55zM194.6 222.11h1.65v4.26h-1.65zM197.2 222.11h2.05v4.26h-2.05zM205 222.11h2.55v4.26h-2.55z"/>
<path fill="#e4a0b4" d="M43.5 222.11h2.55v4.26h-2.55zM50.4 222.11h0.85v4.26h-0.85zM53.7 222.11h1.05v4.26h-1.05zM70.4 222.11h1.05v4.26h-1.05zM177.8 222.11h1.35v4.26h-1.35z"/>
<text transform="translate(8.2,226.54) scale(0.76,1)" font-size="6.5" text-anchor="middle" fill="#333" style="stroke-width:0.2px">3</text>
<rect x="15.40" y="227.38" width="189.20" height="6.16" rx="0.8" fill="#6a5eb6"/>
<rect x="16.20" y="228.33" width="187.60" height="4.26" fill="#c45a78"/>
<path fill="#c8526c" d="M16.2 228.33h2.55v4.26h-2.55zM26.7 228.33h1.05v4.26h-1.05zM30.3 228.33h1.35v4.26h-1.35zM35.3 228.33h2.55v4.26h-2.55zM37.8 228.33h2.55v4.26h-2.55zM41.3 228.33h1.65v4.26h-1.65zM44.5 228.33h0.85v4.26h-0.85zM45.3 228.33h1.05v4.26h-1.05zM51.3 228.33h1.65v4.26h-1.65zM76.6 228.33h1.35v4.26h-1.35zM77.9 228.33h2.05v4.26h-2.05zM83.7 228.33h0.85v4.26h-0.85zM84.5 228.33h1.05v4.26h-1.05zM86.5 228.33h0.85v4.26h-0.85zM95.1 228.33h2.05v4.26h-2.05zM98.1 228.33h2.55v4.26h-2.55zM100.6 228.33h1.65v4.26h-1.65zM104.2 228.33h1.65v4.26h-1.65zM105.8 228.33h1.35v4.26h-1.35zM107.1 228.33h1.65v4.26h-1.65zM112.5 228.33h1.35v4.26h-1.35zM113.8 228.33h1.05v4.26h-1.05zM123 228.33h1.05v4.26h-1.05zM125.6 228.33h2.55v4.26h-2.55zM128.1 228.33h2.05v4.26h-2.05zM137.9 228.33h1.35v4.26h-1.35zM140.8 228.33h1.35v4.26h-1.35zM147.5 228.33h0.85v4.26h-0.85zM148.3 228.33h2.05v4.26h-2.05zM152.8 228.33h1.05v4.26h-1.05zM153.8 228.33h1.65v4.26h-1.65zM157 228.33h0.85v4.26h-0.85zM157.8 228.33h0.85v4.26h-0.85zM159.4 228.33h0.85v4.26h-0.85zM169.5 228.33h2.55v4.26h-2.55zM175 228.33h1.35v4.26h-1.35zM176.3 228.33h1.35v4.26h-1.35zM177.6 228.33h1.65v4.26h-1.65zM179.2 228.33h1.65v4.26h-1.65zM182.9 228.33h1.05v4.26h-1.05zM185.9 228.33h2.05v4.26h-2.05zM199.2 228.33h1.05v4.26h-1.05zM202.2 228.33h1.35v4.26h-1.35zM203.5 228.33h0.35v4.26h-0.35z"/>
<path fill="#f6eef4" d="M18.7 228.33h0.85v4.26h-0.85zM19.5 228.33h0.85v4.26h-0.85zM24.3 228.33h0.85v4.26h-0.85zM40.3 228.33h1.05v4.26h-1.05zM42.9 228.33h1.65v4.26h-1.65zM58.8 228.33h1.65v4.26h-1.65zM68.9 228.33h1.05v4.26h-1.05zM69.9 228.33h1.65v4.26h-1.65zM71.5 228.33h1.65v4.26h-1.65zM85.5 228.33h1.05v4.26h-1.05zM89.3 228.33h0.85v4.26h-0.85zM119.7 228.33h0.85v4.26h-0.85zM124.8 228.33h0.85v4.26h-0.85zM145.9 228.33h1.65v4.26h-1.65zM162.8 228.33h1.05v4.26h-1.05zM183.9 228.33h2.05v4.26h-2.05zM193.9 228.33h2.55v4.26h-2.55z"/>
<path fill="#2e2c74" d="M20.3 228.33h2.05v4.26h-2.05zM28.7 228.33h1.65v4.26h-1.65zM47.3 228.33h2.05v4.26h-2.05zM60.4 228.33h1.35v4.26h-1.35zM66.1 228.33h2.05v4.26h-2.05zM68.1 228.33h0.85v4.26h-0.85zM87.3 228.33h2.05v4.26h-2.05zM110 228.33h2.55v4.26h-2.55zM114.8 228.33h1.65v4.26h-1.65zM118.9 228.33h0.85v4.26h-0.85zM120.5 228.33h2.55v4.26h-2.55zM132.6 228.33h2.05v4.26h-2.05zM134.6 228.33h1.35v4.26h-1.35zM135.9 228.33h2.05v4.26h-2.05zM139.2 228.33h1.65v4.26h-1.65zM143.4 228.33h2.55v4.26h-2.55zM150.3 228.33h2.55v4.26h-2.55zM161.8 228.33h1.05v4.26h-1.05zM172 228.33h1.05v4.26h-1.05zM180.8 228.33h1.35v4.26h-1.35zM198.2 228.33h1.05v4.26h-1.05z"/>
<path fill="#aa4262" d="M22.3 228.33h2.05v4.26h-2.05zM34.5 228.33h0.85v4.26h-0.85zM52.9 228.33h1.35v4.26h-1.35zM55.5 228.33h2.05v4.26h-2.05zM61.7 228.33h0.85v4.26h-0.85zM62.5 228.33h1.05v4.26h-1.05zM73.1 228.33h2.55v4.26h-2.55zM75.6 228.33h1.05v4.26h-1.05zM90.1 228.33h2.55v4.26h-2.55zM97.1 228.33h1.05v4.26h-1.05zM102.2 228.33h2.05v4.26h-2.05zM124 228.33h0.85v4.26h-0.85zM130.1 228.33h2.55v4.26h-2.55zM158.6 228.33h0.85v4.26h-0.85zM163.8 228.33h1.65v4.26h-1.65zM167 228.33h2.55v4.26h-2.55zM200.2 228.33h2.05v4.26h-2.05z"/>
<path fill="#e4a0b4" d="M25.1 228.33h1.65v4.26h-1.65zM27.7 228.33h1.05v4.26h-1.05zM33.2 228.33h1.35v4.26h-1.35zM63.5 228.33h1.05v4.26h-1.05zM64.5 228.33h1.65v4.26h-1.65zM79.9 228.33h2.55v4.26h-2.55zM108.7 228.33h1.35v4.26h-1.35zM116.4 228.33h2.55v4.26h-2.55zM160.2 228.33h1.65v4.26h-1.65zM190.9 228.33h1.05v4.26h-1.05zM191.9 228.33h2.05v4.26h-2.05z"/>
<path fill="#5e2448" d="M31.6 228.33h1.65v4.26h-1.65zM46.3 228.33h1.05v4.26h-1.05zM49.3 228.33h2.05v4.26h-2.05zM54.2 228.33h1.35v4.26h-1.35zM57.5 228.33h1.35v4.26h-1.35zM82.4 228.33h1.35v4.26h-1.35zM92.6 228.33h2.55v4.26h-2.55zM142.1 228.33h1.35v4.26h-1.35zM155.4 228.33h1.65v4.26h-1.65zM165.4 228.33h1.65v4.26h-1.65zM173 228.33h2.05v4.26h-2.05zM182.1 228.33h0.85v4.26h-0.85zM187.9 228.33h2.05v4.26h-2.05zM189.9 228.33h1.05v4.26h-1.05zM196.4 228.33h1.05v4.26h-1.05zM197.4 228.33h0.85v4.26h-0.85z"/>
<text transform="translate(8.2,232.76) scale(0.76,1)" font-size="6.5" text-anchor="middle" fill="#333" style="stroke-width:0.2px">4</text>
<rect x="15.40" y="233.60" width="179.20" height="6.16" rx="0.8" fill="#6a5eb6"/>
<rect x="16.20" y="234.55" width="177.60" height="4.26" fill="#c45a78"/>
<path fill="#aa4262" d="M16.2 234.55h0.85v4.26h-0.85zM31.5 234.55h2.05v4.26h-2.05zM49 234.55h1.65v4.26h-1.65zM58 234.55h1.05v4.26h-1.05zM69.1 234.55h2.55v4.26h-2.55zM76 234.55h2.05v4.26h-2.05zM81.6 234.55h2.55v4.26h-2.55zM101.2 234.55h2.55v4.26h-2.55zM103.7 234.55h2.05v4.26h-2.05zM106.7 234.55h2.55v4.26h-2.55zM117.2 234.55h0.85v4.26h-0.85zM149.6 234.55h1.65v4.26h-1.65zM159 234.55h1.35v4.26h-1.35zM169.4 234.55h0.85v4.26h-0.85zM175 234.55h1.35v4.26h-1.35zM184.5 234.55h2.05v4.26h-2.05z"/>
<path fill="#c8526c" d="M17 234.55h2.55v4.26h-2.55zM21.5 234.55h2.05v4.26h-2.05zM23.5 234.55h1.35v4.26h-1.35zM29.4 234.55h0.85v4.26h-0.85zM30.2 234.55h1.35v4.26h-1.35zM33.5 234.55h1.05v4.26h-1.05zM36.5 234.55h1.65v4.26h-1.65zM39.1 234.55h2.55v4.26h-2.55zM48.2 234.55h0.85v4.26h-0.85zM52.4 234.55h1.05v4.26h-1.05zM53.4 234.55h1.05v4.26h-1.05zM60.6 234.55h1.65v4.26h-1.65zM71.6 234.55h1.65v4.26h-1.65zM74 234.55h2.05v4.26h-2.05zM78 234.55h0.85v4.26h-0.85zM78.8 234.55h0.85v4.26h-0.85zM86.7 234.55h0.85v4.26h-0.85zM87.5 234.55h1.65v4.26h-1.65zM94.3 234.55h2.05v4.26h-2.05zM105.7 234.55h1.05v4.26h-1.05zM110.8 234.55h1.05v4.26h-1.05zM113.8 234.55h1.65v4.26h-1.65zM116.4 234.55h0.85v4.26h-0.85zM119.6 234.55h1.65v4.26h-1.65zM123.7 234.55h0.85v4.26h-0.85zM126.1 234.55h1.35v4.26h-1.35zM130 234.55h1.05v4.26h-1.05zM133.5 234.55h1.05v4.26h-1.05zM135.8 234.55h0.85v4.26h-0.85zM140.1 234.55h1.05v4.26h-1.05zM151.2 234.55h1.05v4.26h-1.05zM152.2 234.55h1.35v4.26h-1.35zM153.5 234.55h2.55v4.26h-2.55zM165.6 234.55h1.35v4.26h-1.35zM166.9 234.55h2.55v4.26h-2.55zM170.2 234.55h2.05v4.26h-2.05zM172.2 234.55h0.85v4.26h-0.85zM173 234.55h2.05v4.26h-2.05zM176.3 234.55h2.05v4.26h-2.05zM179.6 234.55h1.05v4.26h-1.05zM181.9 234.55h0.85v4.26h-0.85zM186.5 234.55h1.65v4.26h-1.65z"/>
<path fill="#5e2448" d="M19.5 234.55h2.05v4.26h-2.05zM27.3 234.55h1.35v4.26h-1.35zM44.1 234.55h1.65v4.26h-1.65zM50.6 234.55h1.05v4.26h-1.05zM51.6 234.55h0.85v4.26h-0.85zM59 234.55h1.65v4.26h-1.65zM66.2 234.55h1.35v4.26h-1.35zM110 234.55h0.85v4.26h-0.85zM111.8 234.55h2.05v4.26h-2.05zM121.2 234.55h2.55v4.26h-2.55zM139.1 234.55h1.05v4.26h-1.05zM160.3 234.55h2.55v4.26h-2.55zM162.8 234.55h0.85v4.26h-0.85zM183.7 234.55h0.85v4.26h-0.85zM188.1 234.55h0.85v4.26h-0.85zM192.7 234.55h0.85v4.26h-0.85z"/>
<path fill="#e4a0b4" d="M24.8 234.55h2.55v4.26h-2.55zM28.6 234.55h0.85v4.26h-0.85zM54.4 234.55h2.05v4.26h-2.05zM89.1 234.55h1.65v4.26h-1.65zM96.3 234.55h1.65v4.26h-1.65zM97.9 234.55h0.85v4.26h-0.85zM98.7 234.55h2.55v4.26h-2.55zM127.4 234.55h1.05v4.26h-1.05zM136.6 234.55h2.55v4.26h-2.55zM143.2 234.55h1.35v4.26h-1.35zM163.6 234.55h1.05v4.26h-1.05zM178.3 234.55h1.35v4.26h-1.35zM182.7 234.55h1.05v4.26h-1.05z"/>
<path fill="#f6eef4" d="M34.5 234.55h2.05v4.26h-2.05zM41.6 234.55h2.55v4.26h-2.55zM45.7 234.55h2.55v4.26h-2.55zM62.2 234.55h2.05v4.26h-2.05zM67.5 234.55h1.65v4.26h-1.65zM73.2 234.55h0.85v4.26h-0.85zM79.6 234.55h2.05v4.26h-2.05zM85.4 234.55h1.35v4.26h-1.35zM92.3 234.55h2.05v4.26h-2.05zM109.2 234.55h0.85v4.26h-0.85zM118 234.55h1.65v4.26h-1.65zM124.5 234.55h1.65v4.26h-1.65zM128.4 234.55h1.65v4.26h-1.65zM131 234.55h2.55v4.26h-2.55zM134.5 234.55h1.35v4.26h-1.35zM144.5 234.55h1.35v4.26h-1.35zM145.8 234.55h2.55v4.26h-2.55zM188.9 234.55h2.55v4.26h-2.55zM193.5 234.55h0.35v4.26h-0.35z"/>
<path fill="#2e2c74" d="M38.1 234.55h1.05v4.26h-1.05zM56.4 234.55h0.85v4.26h-0.85zM57.2 234.55h0.85v4.26h-0.85zM64.2 234.55h2.05v4.26h-2.05zM84.1 234.55h1.35v4.26h-1.35zM90.7 234.55h1.65v4.26h-1.65zM115.4 234.55h1.05v4.26h-1.05zM141.1 234.55h0.85v4.26h-0.85zM141.9 234.55h1.35v4.26h-1.35zM148.3 234.55h1.35v4.26h-1.35zM156 234.55h1.05v4.26h-1.05zM157 234.55h2.05v4.26h-2.05zM164.6 234.55h1.05v4.26h-1.05zM180.6 234.55h1.35v4.26h-1.35zM191.4 234.55h1.35v4.26h-1.35z"/>
<text transform="translate(8.2,238.98) scale(0.76,1)" font-size="6.5" text-anchor="middle" fill="#333" style="stroke-width:0.2px">5</text>
<rect x="15.40" y="239.82" width="169.80" height="6.16" rx="0.8" fill="#6a5eb6"/>
<rect x="16.20" y="240.77" width="168.20" height="4.26" fill="#c45a78"/>
<path fill="#2e2c74" d="M16.2 240.77h2.55v4.26h-2.55zM18.7 240.77h2.05v4.26h-2.05zM26.9 240.77h1.35v4.26h-1.35zM59 240.77h1.35v4.26h-1.35zM65.2 240.77h1.65v4.26h-1.65zM66.8 240.77h2.05v4.26h-2.05zM71.2 240.77h1.05v4.26h-1.05zM75 240.77h1.05v4.26h-1.05zM76 240.77h2.05v4.26h-2.05zM85 240.77h0.85v4.26h-0.85zM85.8 240.77h2.55v4.26h-2.55zM129.4 240.77h0.85v4.26h-0.85zM133.5 240.77h1.05v4.26h-1.05zM136.5 240.77h2.55v4.26h-2.55zM142.4 240.77h1.05v4.26h-1.05zM148.7 240.77h2.05v4.26h-2.05zM163.6 240.77h1.35v4.26h-1.35zM168.4 240.77h2.05v4.26h-2.05zM177.3 240.77h0.85v4.26h-0.85z"/>
<path fill="#c8526c" d="M20.7 240.77h2.05v4.26h-2.05zM22.7 240.77h1.05v4.26h-1.05zM23.7 240.77h1.65v4.26h-1.65zM28.2 240.77h2.55v4.26h-2.55zM34.3 240.77h1.35v4.26h-1.35zM38.4 240.77h1.05v4.26h-1.05zM39.4 240.77h2.05v4.26h-2.05zM46.3 240.77h0.85v4.26h-0.85zM50.1 240.77h2.55v4.26h-2.55zM52.6 240.77h1.05v4.26h-1.05zM53.6 240.77h1.65v4.26h-1.65zM60.3 240.77h1.65v4.26h-1.65zM61.9 240.77h2.05v4.26h-2.05zM63.9 240.77h1.35v4.26h-1.35zM68.8 240.77h0.85v4.26h-0.85zM72.2 240.77h0.85v4.26h-0.85zM78 240.77h0.85v4.26h-0.85zM80.4 240.77h1.05v4.26h-1.05zM81.4 240.77h2.05v4.26h-2.05zM90.8 240.77h1.35v4.26h-1.35zM98 240.77h2.05v4.26h-2.05zM103.5 240.77h2.55v4.26h-2.55zM114.1 240.77h0.85v4.26h-0.85zM114.9 240.77h1.35v4.26h-1.35zM118.2 240.77h1.65v4.26h-1.65zM123.7 240.77h2.55v4.26h-2.55zM126.2 240.77h1.65v4.26h-1.65zM131.5 240.77h2.05v4.26h-2.05zM139 240.77h1.35v4.26h-1.35zM140.3 240.77h0.85v4.26h-0.85zM141.1 240.77h1.35v4.26h-1.35zM143.4 240.77h0.85v4.26h-0.85zM145.5 240.77h1.65v4.26h-1.65zM147.1 240.77h1.65v4.26h-1.65zM153 240.77h1.05v4.26h-1.05zM154 240.77h2.05v4.26h-2.05zM156 240.77h1.05v4.26h-1.05zM158.6 240.77h2.55v4.26h-2.55zM170.4 240.77h1.65v4.26h-1.65zM174 240.77h1.05v4.26h-1.05zM175 240.77h1.35v4.26h-1.35zM176.3 240.77h1.05v4.26h-1.05zM179.7 240.77h2.55v4.26h-2.55zM182.2 240.77h2.25v4.26h-2.25z"/>
<path fill="#5e2448" d="M25.3 240.77h1.65v4.26h-1.65zM30.7 240.77h1.65v4.26h-1.65zM32.3 240.77h2.05v4.26h-2.05zM37.6 240.77h0.85v4.26h-0.85zM47.1 240.77h1.05v4.26h-1.05zM48.1 240.77h2.05v4.26h-2.05zM56.5 240.77h2.55v4.26h-2.55zM88.3 240.77h2.55v4.26h-2.55zM119.8 240.77h1.05v4.26h-1.05zM152 240.77h1.05v4.26h-1.05zM161.1 240.77h2.55v4.26h-2.55zM178.1 240.77h1.65v4.26h-1.65z"/>
<path fill="#e4a0b4" d="M35.6 240.77h2.05v4.26h-2.05zM73 240.77h2.05v4.26h-2.05zM83.4 240.77h1.65v4.26h-1.65zM96.7 240.77h1.35v4.26h-1.35zM101 240.77h2.55v4.26h-2.55zM108.5 240.77h2.05v4.26h-2.05zM111.5 240.77h1.65v4.26h-1.65zM122.1 240.77h1.65v4.26h-1.65zM130.2 240.77h1.35v4.26h-1.35z"/>
<path fill="#f6eef4" d="M41.4 240.77h1.65v4.26h-1.65zM45 240.77h1.35v4.26h-1.35zM55.2 240.77h1.35v4.26h-1.35zM78.8 240.77h1.65v4.26h-1.65zM92.1 240.77h2.05v4.26h-2.05zM106 240.77h2.55v4.26h-2.55zM116.2 240.77h2.05v4.26h-2.05zM144.2 240.77h1.35v4.26h-1.35zM167.4 240.77h1.05v4.26h-1.05zM172 240.77h2.05v4.26h-2.05z"/>
<path fill="#aa4262" d="M43 240.77h2.05v4.26h-2.05zM69.6 240.77h1.65v4.26h-1.65zM94.1 240.77h1.65v4.26h-1.65zM95.7 240.77h1.05v4.26h-1.05zM100 240.77h1.05v4.26h-1.05zM110.5 240.77h1.05v4.26h-1.05zM113.1 240.77h1.05v4.26h-1.05zM120.8 240.77h1.35v4.26h-1.35zM127.8 240.77h1.65v4.26h-1.65zM134.5 240.77h2.05v4.26h-2.05zM150.7 240.77h1.35v4.26h-1.35zM157 240.77h1.65v4.26h-1.65zM164.9 240.77h2.55v4.26h-2.55z"/>
<text transform="translate(8.2,245.2) scale(0.76,1)" font-size="6.5" text-anchor="middle" fill="#333" style="stroke-width:0.2px">6</text>
<rect x="15.40" y="246.04" width="157.60" height="6.16" rx="0.8" fill="#6a5eb6"/>
<rect x="16.20" y="246.99" width="156.00" height="4.26" fill="#c45a78"/>
<path fill="#5e2448" d="M16.2 246.99h1.05v4.26h-1.05zM27.1 246.99h1.35v4.26h-1.35zM37.2 246.99h1.65v4.26h-1.65zM52.6 246.99h1.35v4.26h-1.35zM56.2 246.99h1.65v4.26h-1.65zM61.6 246.99h0.85v4.26h-0.85zM62.4 246.99h2.05v4.26h-2.05zM79.2 246.99h1.05v4.26h-1.05zM100 246.99h2.55v4.26h-2.55zM118.6 246.99h1.65v4.26h-1.65zM122.7 246.99h1.05v4.26h-1.05zM126.1 246.99h1.65v4.26h-1.65zM136.3 246.99h1.05v4.26h-1.05zM138.9 246.99h1.05v4.26h-1.05z"/>
<path fill="#2e2c74" d="M17.2 246.99h1.35v4.26h-1.35zM34.8 246.99h0.85v4.26h-0.85zM41.3 246.99h1.35v4.26h-1.35zM55.2 246.99h1.05v4.26h-1.05zM72.5 246.99h1.05v4.26h-1.05zM77.9 246.99h1.35v4.26h-1.35zM94.5 246.99h1.05v4.26h-1.05zM106.1 246.99h2.55v4.26h-2.55zM113.7 246.99h2.05v4.26h-2.05zM130.2 246.99h2.55v4.26h-2.55zM132.7 246.99h1.35v4.26h-1.35zM137.3 246.99h1.65v4.26h-1.65zM142.2 246.99h2.05v4.26h-2.05zM144.2 246.99h1.05v4.26h-1.05zM150.8 246.99h2.55v4.26h-2.55zM159.2 246.99h1.35v4.26h-1.35zM167 246.99h1.65v4.26h-1.65zM168.6 246.99h1.65v4.26h-1.65z"/>
<path fill="#c8526c" d="M18.5 246.99h1.35v4.26h-1.35zM19.8 246.99h2.55v4.26h-2.55zM22.3 246.99h1.65v4.26h-1.65zM23.9 246.99h1.65v4.26h-1.65zM28.4 246.99h1.35v4.26h-1.35zM29.7 246.99h1.65v4.26h-1.65zM31.3 246.99h1.05v4.26h-1.05zM32.3 246.99h2.55v4.26h-2.55zM45 246.99h1.35v4.26h-1.35zM50.5 246.99h0.85v4.26h-0.85zM51.3 246.99h1.35v4.26h-1.35zM57.8 246.99h1.35v4.26h-1.35zM66.4 246.99h1.35v4.26h-1.35zM70.9 246.99h1.65v4.26h-1.65zM73.5 246.99h1.35v4.26h-1.35zM76.1 246.99h0.85v4.26h-0.85zM76.9 246.99h1.05v4.26h-1.05zM82.2 246.99h0.85v4.26h-0.85zM84.6 246.99h2.05v4.26h-2.05zM91.1 246.99h1.35v4.26h-1.35zM95.5 246.99h2.55v4.26h-2.55zM99 246.99h1.05v4.26h-1.05zM102.5 246.99h2.05v4.26h-2.05zM104.5 246.99h1.65v4.26h-1.65zM108.6 246.99h1.65v4.26h-1.65zM111.2 246.99h2.55v4.26h-2.55zM117.3 246.99h1.35v4.26h-1.35zM125.3 246.99h0.85v4.26h-0.85zM134 246.99h1.35v4.26h-1.35zM141.2 246.99h1.05v4.26h-1.05zM148.5 246.99h1.05v4.26h-1.05zM154.9 246.99h1.05v4.26h-1.05zM158.4 246.99h0.85v4.26h-0.85zM162.1 246.99h1.65v4.26h-1.65zM163.7 246.99h0.85v4.26h-0.85zM164.5 246.99h2.55v4.26h-2.55zM172.2 246.99h0.05v4.26h-0.05z"/>
<path fill="#e4a0b4" d="M25.5 246.99h1.65v4.26h-1.65zM59.1 246.99h2.55v4.26h-2.55zM69.3 246.99h1.65v4.26h-1.65zM80.2 246.99h2.05v4.26h-2.05zM88.6 246.99h2.55v4.26h-2.55zM115.7 246.99h0.85v4.26h-0.85zM146 246.99h2.55v4.26h-2.55zM153.3 246.99h1.65v4.26h-1.65zM155.9 246.99h2.55v4.26h-2.55z"/>
<path fill="#f6eef4" d="M35.6 246.99h1.65v4.26h-1.65zM38.8 246.99h2.55v4.26h-2.55zM42.6 246.99h0.85v4.26h-0.85zM44.2 246.99h0.85v4.26h-0.85zM46.3 246.99h1.65v4.26h-1.65zM49.2 246.99h1.35v4.26h-1.35zM53.9 246.99h1.35v4.26h-1.35zM67.7 246.99h1.65v4.26h-1.65zM83 246.99h1.65v4.26h-1.65zM86.6 246.99h2.05v4.26h-2.05zM92.4 246.99h0.85v4.26h-0.85zM93.2 246.99h1.35v4.26h-1.35zM98 246.99h1.05v4.26h-1.05zM116.5 246.99h0.85v4.26h-0.85zM123.7 246.99h1.65v4.26h-1.65zM135.3 246.99h1.05v4.26h-1.05zM139.9 246.99h1.35v4.26h-1.35zM161.3 246.99h0.85v4.26h-0.85z"/>
<path fill="#aa4262" d="M43.4 246.99h0.85v4.26h-0.85zM47.9 246.99h1.35v4.26h-1.35zM64.4 246.99h2.05v4.26h-2.05zM74.8 246.99h1.35v4.26h-1.35zM110.2 246.99h1.05v4.26h-1.05zM120.2 246.99h2.55v4.26h-2.55zM127.7 246.99h2.55v4.26h-2.55zM145.2 246.99h0.85v4.26h-0.85zM149.5 246.99h1.35v4.26h-1.35zM160.5 246.99h0.85v4.26h-0.85zM170.2 246.99h2.05v4.26h-2.05z"/>
<text transform="translate(8.2,251.42) scale(0.76,1)" font-size="6.5" text-anchor="middle" fill="#333" style="stroke-width:0.2px">7</text>
<rect x="15.40" y="252.26" width="144.80" height="6.16" rx="0.8" fill="#6a5eb6"/>
<rect x="16.20" y="253.21" width="143.20" height="4.26" fill="#c45a78"/>
<path fill="#f6eef4" d="M16.2 253.21h1.35v4.26h-1.35zM19.3 253.21h1.35v4.26h-1.35zM22.2 253.21h1.35v4.26h-1.35zM67.6 253.21h1.35v4.26h-1.35zM82.9 253.21h1.35v4.26h-1.35zM109.7 253.21h2.55v4.26h-2.55zM115.1 253.21h1.35v4.26h-1.35zM125.5 253.21h1.65v4.26h-1.65zM131.6 253.21h0.85v4.26h-0.85zM136.5 253.21h1.65v4.26h-1.65zM158.5 253.21h0.95v4.26h-0.95z"/>
<path fill="#aa4262" d="M17.5 253.21h1.05v4.26h-1.05zM28.4 253.21h1.05v4.26h-1.05zM36.4 253.21h1.65v4.26h-1.65zM39.6 253.21h2.05v4.26h-2.05zM72.2 253.21h1.65v4.26h-1.65zM73.8 253.21h2.55v4.26h-2.55zM80.3 253.21h1.35v4.26h-1.35zM98.5 253.21h1.05v4.26h-1.05zM99.5 253.21h1.05v4.26h-1.05zM100.5 253.21h0.85v4.26h-0.85zM101.3 253.21h0.85v4.26h-0.85zM107.4 253.21h1.35v4.26h-1.35zM127.1 253.21h2.55v4.26h-2.55zM143.7 253.21h1.65v4.26h-1.65zM153.9 253.21h2.05v4.26h-2.05z"/>
<path fill="#5e2448" d="M18.5 253.21h0.85v4.26h-0.85zM23.5 253.21h1.35v4.26h-1.35zM29.4 253.21h1.35v4.26h-1.35zM48.4 253.21h1.65v4.26h-1.65zM65.1 253.21h2.55v4.26h-2.55zM81.6 253.21h1.35v4.26h-1.35zM84.2 253.21h1.35v4.26h-1.35zM93.7 253.21h1.05v4.26h-1.05zM108.7 253.21h1.05v4.26h-1.05zM116.4 253.21h1.35v4.26h-1.35zM123.5 253.21h2.05v4.26h-2.05zM140.1 253.21h2.05v4.26h-2.05zM142.1 253.21h0.85v4.26h-0.85zM142.9 253.21h0.85v4.26h-0.85zM148.1 253.21h1.05v4.26h-1.05zM150.4 253.21h2.55v4.26h-2.55z"/>
<path fill="#c8526c" d="M20.6 253.21h1.65v4.26h-1.65zM24.8 253.21h1.05v4.26h-1.05zM25.8 253.21h1.65v4.26h-1.65zM27.4 253.21h1.05v4.26h-1.05zM30.7 253.21h1.05v4.26h-1.05zM33 253.21h0.85v4.26h-0.85zM33.8 253.21h1.65v4.26h-1.65zM38 253.21h1.65v4.26h-1.65zM41.6 253.21h0.85v4.26h-0.85zM44.4 253.21h2.05v4.26h-2.05zM50 253.21h2.55v4.26h-2.55zM53.3 253.21h2.05v4.26h-2.05zM55.3 253.21h0.85v4.26h-0.85zM56.9 253.21h1.35v4.26h-1.35zM58.2 253.21h1.65v4.26h-1.65zM59.8 253.21h1.05v4.26h-1.05zM60.8 253.21h1.35v4.26h-1.35zM62.1 253.21h2.05v4.26h-2.05zM76.3 253.21h2.05v4.26h-2.05zM78.3 253.21h2.05v4.26h-2.05zM85.5 253.21h1.65v4.26h-1.65zM87.1 253.21h1.35v4.26h-1.35zM88.4 253.21h2.55v4.26h-2.55zM90.9 253.21h0.85v4.26h-0.85zM92.7 253.21h1.05v4.26h-1.05zM94.7 253.21h2.55v4.26h-2.55zM97.2 253.21h1.35v4.26h-1.35zM103.4 253.21h1.05v4.26h-1.05zM104.4 253.21h1.05v4.26h-1.05zM105.4 253.21h2.05v4.26h-2.05zM112.2 253.21h1.35v4.26h-1.35zM117.7 253.21h0.85v4.26h-0.85zM121 253.21h2.55v4.26h-2.55zM138.1 253.21h2.05v4.26h-2.05zM145.3 253.21h2.05v4.26h-2.05zM156.9 253.21h1.65v4.26h-1.65z"/>
<path fill="#2e2c74" d="M31.7 253.21h1.35v4.26h-1.35zM42.4 253.21h2.05v4.26h-2.05zM56.1 253.21h0.85v4.26h-0.85zM64.1 253.21h1.05v4.26h-1.05zM68.9 253.21h2.55v4.26h-2.55zM91.7 253.21h1.05v4.26h-1.05zM118.5 253.21h2.55v4.26h-2.55zM132.4 253.21h2.55v4.26h-2.55zM134.9 253.21h1.65v4.26h-1.65zM152.9 253.21h1.05v4.26h-1.05zM155.9 253.21h1.05v4.26h-1.05z"/>
<path fill="#e4a0b4" d="M35.4 253.21h1.05v4.26h-1.05zM46.4 253.21h1.05v4.26h-1.05zM47.4 253.21h1.05v4.26h-1.05zM52.5 253.21h0.85v4.26h-0.85zM71.4 253.21h0.85v4.26h-0.85zM102.1 253.21h1.35v4.26h-1.35zM113.5 253.21h1.65v4.26h-1.65zM129.6 253.21h2.05v4.26h-2.05zM147.3 253.21h0.85v4.26h-0.85zM149.1 253.21h1.35v4.26h-1.35z"/>
<text transform="translate(8.2,257.64) scale(0.76,1)" font-size="6.5" text-anchor="middle" fill="#333" style="stroke-width:0.2px">8</text>
<rect x="15.40" y="258.48" width="139.60" height="6.16" rx="0.8" fill="#6a5eb6"/>
<rect x="16.20" y="259.43" width="138.00" height="4.26" fill="#c45a78"/>
<path fill="#2e2c74" d="M16.2 259.43h2.55v4.26h-2.55zM21.8 259.43h0.85v4.26h-0.85zM35.5 259.43h0.85v4.26h-0.85zM57.3 259.43h2.05v4.26h-2.05zM60.9 259.43h1.35v4.26h-1.35zM78.3 259.43h0.85v4.26h-0.85zM79.1 259.43h2.55v4.26h-2.55zM81.6 259.43h1.35v4.26h-1.35zM97.8 259.43h0.85v4.26h-0.85zM107.4 259.43h1.65v4.26h-1.65zM127.8 259.43h0.85v4.26h-0.85zM128.6 259.43h2.55v4.26h-2.55zM131.1 259.43h0.85v4.26h-0.85zM136.2 259.43h2.55v4.26h-2.55zM141.9 259.43h1.05v4.26h-1.05zM146.2 259.43h1.65v4.26h-1.65z"/>
<path fill="#f6eef4" d="M18.7 259.43h1.05v4.26h-1.05zM33.1 259.43h1.65v4.26h-1.65zM34.7 259.43h0.85v4.26h-0.85zM38.3 259.43h0.85v4.26h-0.85zM39.1 259.43h1.05v4.26h-1.05zM41.9 259.43h1.05v4.26h-1.05zM86.4 259.43h1.35v4.26h-1.35zM116.4 259.43h2.05v4.26h-2.05z"/>
<path fill="#5e2448" d="M19.7 259.43h0.85v4.26h-0.85zM22.6 259.43h1.35v4.26h-1.35zM45.7 259.43h2.55v4.26h-2.55zM64.7 259.43h2.55v4.26h-2.55zM75 259.43h2.05v4.26h-2.05zM89.3 259.43h1.05v4.26h-1.05zM93.6 259.43h1.65v4.26h-1.65zM152.3 259.43h1.05v4.26h-1.05zM153.3 259.43h0.95v4.26h-0.95z"/>
<path fill="#c8526c" d="M20.5 259.43h1.35v4.26h-1.35zM25.2 259.43h2.05v4.26h-2.05zM27.2 259.43h1.65v4.26h-1.65zM30.1 259.43h1.05v4.26h-1.05zM40.1 259.43h1.05v4.26h-1.05zM48.2 259.43h1.65v4.26h-1.65zM49.8 259.43h2.55v4.26h-2.55zM52.3 259.43h2.55v4.26h-2.55zM67.2 259.43h2.55v4.26h-2.55zM69.7 259.43h1.05v4.26h-1.05zM72.7 259.43h1.05v4.26h-1.05zM77 259.43h1.35v4.26h-1.35zM82.9 259.43h1.05v4.26h-1.05zM83.9 259.43h2.55v4.26h-2.55zM87.7 259.43h1.65v4.26h-1.65zM90.3 259.43h0.85v4.26h-0.85zM95.2 259.43h1.35v4.26h-1.35zM98.6 259.43h1.65v4.26h-1.65zM106.1 259.43h1.35v4.26h-1.35zM109 259.43h1.35v4.26h-1.35zM110.3 259.43h2.55v4.26h-2.55zM112.8 259.43h2.05v4.26h-2.05zM119.7 259.43h1.35v4.26h-1.35zM121 259.43h2.05v4.26h-2.05zM123 259.43h2.55v4.26h-2.55zM125.5 259.43h1.05v4.26h-1.05zM126.5 259.43h1.35v4.26h-1.35zM132.9 259.43h1.35v4.26h-1.35zM134.2 259.43h2.05v4.26h-2.05zM142.9 259.43h2.55v4.26h-2.55zM145.4 259.43h0.85v4.26h-0.85z"/>
<path fill="#aa4262" d="M23.9 259.43h1.35v4.26h-1.35zM31.1 259.43h2.05v4.26h-2.05zM42.9 259.43h0.85v4.26h-0.85zM43.7 259.43h2.05v4.26h-2.05zM59.3 259.43h1.65v4.26h-1.65zM70.7 259.43h2.05v4.26h-2.05zM91.1 259.43h2.55v4.26h-2.55zM100.2 259.43h1.65v4.26h-1.65zM101.8 259.43h2.55v4.26h-2.55zM104.3 259.43h1.05v4.26h-1.05zM105.3 259.43h0.85v4.26h-0.85zM114.8 259.43h1.65v4.26h-1.65zM118.4 259.43h1.35v4.26h-1.35zM131.9 259.43h1.05v4.26h-1.05zM140.3 259.43h1.65v4.26h-1.65z"/>
<path fill="#e4a0b4" d="M28.8 259.43h1.35v4.26h-1.35zM36.3 259.43h2.05v4.26h-2.05zM41.1 259.43h0.85v4.26h-0.85zM54.8 259.43h2.55v4.26h-2.55zM62.2 259.43h2.55v4.26h-2.55zM73.7 259.43h1.35v4.26h-1.35zM96.5 259.43h1.35v4.26h-1.35zM138.7 259.43h0.85v4.26h-0.85zM139.5 259.43h0.85v4.26h-0.85zM147.8 259.43h2.55v4.26h-2.55zM150.3 259.43h2.05v4.26h-2.05z"/>
<rect x="60" y="259.43" width="21" height="4.26" fill="#ececfa"/>
<text transform="translate(8.2,263.86) scale(0.76,1)" font-size="6.5" text-anchor="middle" fill="#333" style="stroke-width:0.2px">9</text>
<rect x="15.40" y="264.70" width="134.10" height="6.16" rx="0.8" fill="#6a5eb6"/>
<rect x="16.20" y="265.65" width="132.50" height="4.26" fill="#c45a78"/>
<path fill="#2e2c74" d="M16.2 265.65h0.85v4.26h-0.85zM17.8 265.65h2.55v4.26h-2.55zM38.9 265.65h1.05v4.26h-1.05zM60.9 265.65h0.85v4.26h-0.85zM67.9 265.65h2.05v4.26h-2.05zM77.1 265.65h1.05v4.26h-1.05zM109.4 265.65h0.85v4.26h-0.85zM119.6 265.65h2.05v4.26h-2.05zM125.7 265.65h1.65v4.26h-1.65zM134 265.65h1.35v4.26h-1.35zM140.7 265.65h2.55v4.26h-2.55z"/>
<path fill="#c8526c" d="M17 265.65h0.85v4.26h-0.85zM28.6 265.65h1.05v4.26h-1.05zM30.9 265.65h0.85v4.26h-0.85zM35.3 265.65h0.85v4.26h-0.85zM41.9 265.65h1.35v4.26h-1.35zM43.2 265.65h1.05v4.26h-1.05zM47.8 265.65h1.65v4.26h-1.65zM50.2 265.65h2.05v4.26h-2.05zM59.9 265.65h1.05v4.26h-1.05zM66.3 265.65h1.65v4.26h-1.65zM70.7 265.65h1.35v4.26h-1.35zM82.9 265.65h1.35v4.26h-1.35zM84.2 265.65h2.05v4.26h-2.05zM86.2 265.65h1.35v4.26h-1.35zM91.6 265.65h1.65v4.26h-1.65zM94.5 265.65h0.85v4.26h-0.85zM98.5 265.65h2.55v4.26h-2.55zM101 265.65h1.35v4.26h-1.35zM115.3 265.65h1.35v4.26h-1.35zM116.6 265.65h2.05v4.26h-2.05zM121.6 265.65h1.35v4.26h-1.35zM122.9 265.65h0.85v4.26h-0.85zM123.7 265.65h2.05v4.26h-2.05zM129.9 265.65h0.85v4.26h-0.85zM131.7 265.65h1.35v4.26h-1.35zM136.1 265.65h1.65v4.26h-1.65zM137.7 265.65h2.05v4.26h-2.05z"/>
<path fill="#f6eef4" d="M20.3 265.65h2.55v4.26h-2.55zM22.8 265.65h2.55v4.26h-2.55zM49.4 265.65h0.85v4.26h-0.85zM58.3 265.65h1.65v4.26h-1.65zM75.8 265.65h1.35v4.26h-1.35zM93.2 265.65h1.35v4.26h-1.35zM96.9 265.65h1.65v4.26h-1.65zM130.7 265.65h1.05v4.26h-1.05zM133 265.65h1.05v4.26h-1.05zM146.2 265.65h0.85v4.26h-0.85z"/>
<path fill="#aa4262" d="M25.3 265.65h2.55v4.26h-2.55zM27.8 265.65h0.85v4.26h-0.85zM44.2 265.65h1.65v4.26h-1.65zM61.7 265.65h2.55v4.26h-2.55zM65.5 265.65h0.85v4.26h-0.85zM69.9 265.65h0.85v4.26h-0.85zM82.1 265.65h0.85v4.26h-0.85zM87.5 265.65h1.65v4.26h-1.65zM89.1 265.65h2.55v4.26h-2.55zM102.3 265.65h1.35v4.26h-1.35zM106.6 265.65h0.85v4.26h-0.85zM112.8 265.65h2.55v4.26h-2.55zM127.3 265.65h1.35v4.26h-1.35zM147 265.65h1.65v4.26h-1.65z"/>
<path fill="#e4a0b4" d="M29.6 265.65h1.35v4.26h-1.35zM33.3 265.65h2.05v4.26h-2.05zM55.8 265.65h2.55v4.26h-2.55zM73.3 265.65h2.55v4.26h-2.55zM78.1 265.65h2.05v4.26h-2.05zM80.1 265.65h2.05v4.26h-2.05zM107.4 265.65h2.05v4.26h-2.05zM110.2 265.65h1.35v4.26h-1.35zM111.5 265.65h1.35v4.26h-1.35zM135.3 265.65h0.85v4.26h-0.85zM139.7 265.65h1.05v4.26h-1.05zM143.2 265.65h2.05v4.26h-2.05z"/>
<path fill="#5e2448" d="M31.7 265.65h1.65v4.26h-1.65zM36.1 265.65h2.05v4.26h-2.05zM38.1 265.65h0.85v4.26h-0.85zM39.9 265.65h2.05v4.26h-2.05zM45.8 265.65h1.05v4.26h-1.05zM46.8 265.65h1.05v4.26h-1.05zM52.2 265.65h2.05v4.26h-2.05zM54.2 265.65h1.65v4.26h-1.65zM64.2 265.65h1.35v4.26h-1.35zM72 265.65h1.35v4.26h-1.35zM95.3 265.65h1.65v4.26h-1.65zM103.6 265.65h1.05v4.26h-1.05zM104.6 265.65h2.05v4.26h-2.05zM118.6 265.65h1.05v4.26h-1.05zM128.6 265.65h1.35v4.26h-1.35zM145.2 265.65h1.05v4.26h-1.05zM148.6 265.65h0.15v4.26h-0.15z"/>
<text transform="translate(8.2,270.08) scale(0.76,1)" font-size="6.5" text-anchor="middle" fill="#333" style="stroke-width:0.2px">10</text>
<rect x="15.40" y="270.92" width="133.80" height="6.16" rx="0.8" fill="#6a5eb6"/>
<rect x="16.20" y="271.87" width="132.20" height="4.26" fill="#c45a78"/>
<path fill="#c8526c" d="M16.2 271.87h0.85v4.26h-0.85zM27.8 271.87h2.55v4.26h-2.55zM34.1 271.87h1.05v4.26h-1.05zM36.4 271.87h0.85v4.26h-0.85zM39.3 271.87h1.65v4.26h-1.65zM46.6 271.87h1.65v4.26h-1.65zM50.7 271.87h2.05v4.26h-2.05zM52.7 271.87h0.85v4.26h-0.85zM59.7 271.87h1.65v4.26h-1.65zM61.3 271.87h2.05v4.26h-2.05zM65.8 271.87h1.35v4.26h-1.35zM67.1 271.87h1.65v4.26h-1.65zM68.7 271.87h1.35v4.26h-1.35zM74.2 271.87h2.55v4.26h-2.55zM76.7 271.87h2.05v4.26h-2.05zM81.7 271.87h1.65v4.26h-1.65zM91.2 271.87h1.65v4.26h-1.65zM94.1 271.87h0.85v4.26h-0.85zM94.9 271.87h1.05v4.26h-1.05zM99.4 271.87h0.85v4.26h-0.85zM102.5 271.87h1.35v4.26h-1.35zM110.8 271.87h0.85v4.26h-0.85zM111.6 271.87h0.85v4.26h-0.85zM113.7 271.87h1.35v4.26h-1.35zM115 271.87h1.05v4.26h-1.05zM116 271.87h0.85v4.26h-0.85zM118.1 271.87h2.05v4.26h-2.05zM120.1 271.87h1.65v4.26h-1.65zM123.7 271.87h2.05v4.26h-2.05zM125.7 271.87h2.55v4.26h-2.55zM132.7 271.87h1.35v4.26h-1.35zM136.9 271.87h2.05v4.26h-2.05zM146.3 271.87h1.05v4.26h-1.05zM147.3 271.87h1.15v4.26h-1.15z"/>
<path fill="#aa4262" d="M17 271.87h0.85v4.26h-0.85zM17.8 271.87h1.05v4.26h-1.05zM20.4 271.87h0.85v4.26h-0.85zM37.2 271.87h1.35v4.26h-1.35zM43.4 271.87h1.65v4.26h-1.65zM72.9 271.87h1.35v4.26h-1.35zM79.7 271.87h2.05v4.26h-2.05z"/>
<path fill="#2e2c74" d="M18.8 271.87h1.65v4.26h-1.65zM21.2 271.87h2.55v4.26h-2.55zM24.5 271.87h1.35v4.26h-1.35zM25.8 271.87h2.05v4.26h-2.05zM30.3 271.87h1.35v4.26h-1.35zM53.5 271.87h1.05v4.26h-1.05zM56.1 271.87h2.05v4.26h-2.05zM83.3 271.87h1.05v4.26h-1.05zM84.3 271.87h0.85v4.26h-0.85zM101.2 271.87h1.35v4.26h-1.35zM112.4 271.87h1.35v4.26h-1.35zM116.8 271.87h1.35v4.26h-1.35zM128.2 271.87h2.55v4.26h-2.55zM130.7 271.87h2.05v4.26h-2.05zM135.6 271.87h1.35v4.26h-1.35zM138.9 271.87h1.65v4.26h-1.65zM140.5 271.87h1.35v4.26h-1.35zM144.3 271.87h2.05v4.26h-2.05z"/>
<path fill="#e4a0b4" d="M23.7 271.87h0.85v4.26h-0.85zM40.9 271.87h2.55v4.26h-2.55zM63.3 271.87h2.55v4.26h-2.55zM71.6 271.87h1.35v4.26h-1.35zM78.7 271.87h1.05v4.26h-1.05zM87.1 271.87h0.85v4.26h-0.85zM108.3 271.87h2.55v4.26h-2.55zM134 271.87h1.65v4.26h-1.65z"/>
<path fill="#5e2448" d="M31.6 271.87h2.55v4.26h-2.55zM35.1 271.87h1.35v4.26h-1.35zM45 271.87h1.65v4.26h-1.65zM54.5 271.87h1.65v4.26h-1.65zM58.1 271.87h1.65v4.26h-1.65zM70 271.87h1.65v4.26h-1.65zM87.9 271.87h1.35v4.26h-1.35zM89.2 271.87h2.05v4.26h-2.05zM96.9 271.87h2.55v4.26h-2.55zM100.2 271.87h1.05v4.26h-1.05zM141.8 271.87h2.55v4.26h-2.55z"/>
<path fill="#f6eef4" d="M38.5 271.87h0.85v4.26h-0.85zM48.2 271.87h2.55v4.26h-2.55zM85.1 271.87h2.05v4.26h-2.05zM92.8 271.87h1.35v4.26h-1.35zM95.9 271.87h1.05v4.26h-1.05zM103.8 271.87h2.55v4.26h-2.55zM106.3 271.87h2.05v4.26h-2.05zM121.7 271.87h2.05v4.26h-2.05z"/>
<text transform="translate(8.2,276.3) scale(0.76,1)" font-size="6.5" text-anchor="middle" fill="#333" style="stroke-width:0.2px">11</text>
<rect x="15.40" y="277.14" width="132.90" height="6.16" rx="0.8" fill="#6a5eb6"/>
<rect x="16.20" y="278.09" width="131.30" height="4.26" fill="#c45a78"/>
<path fill="#2e2c74" d="M16.2 278.09h2.55v4.26h-2.55zM23.9 278.09h2.55v4.26h-2.55zM44.1 278.09h0.85v4.26h-0.85zM49 278.09h1.05v4.26h-1.05zM68.2 278.09h2.05v4.26h-2.05zM94.4 278.09h2.55v4.26h-2.55zM106.5 278.09h0.85v4.26h-0.85zM109.3 278.09h2.55v4.26h-2.55zM118.3 278.09h1.65v4.26h-1.65zM137.3 278.09h1.05v4.26h-1.05zM144.3 278.09h1.35v4.26h-1.35z"/>
<path fill="#f6eef4" d="M18.7 278.09h1.35v4.26h-1.35zM51 278.09h1.05v4.26h-1.05zM62.6 278.09h1.35v4.26h-1.35zM64.7 278.09h1.05v4.26h-1.05zM70.2 278.09h2.55v4.26h-2.55zM138.3 278.09h1.05v4.26h-1.05zM139.3 278.09h2.55v4.26h-2.55z"/>
<path fill="#e4a0b4" d="M20 278.09h0.85v4.26h-0.85zM29.4 278.09h2.55v4.26h-2.55zM39 278.09h1.65v4.26h-1.65zM50 278.09h1.05v4.26h-1.05zM52.8 278.09h2.05v4.26h-2.05zM73.5 278.09h1.05v4.26h-1.05zM115.9 278.09h0.85v4.26h-0.85zM116.7 278.09h1.65v4.26h-1.65zM130.1 278.09h1.65v4.26h-1.65zM146.9 278.09h0.65v4.26h-0.65z"/>
<path fill="#c8526c" d="M20.8 278.09h0.85v4.26h-0.85zM21.6 278.09h1.35v4.26h-1.35zM22.9 278.09h1.05v4.26h-1.05zM26.4 278.09h1.05v4.26h-1.05zM27.4 278.09h2.05v4.26h-2.05zM35.5 278.09h1.05v4.26h-1.05zM36.5 278.09h2.55v4.26h-2.55zM40.6 278.09h2.55v4.26h-2.55zM45.7 278.09h2.05v4.26h-2.05zM47.7 278.09h1.35v4.26h-1.35zM56.8 278.09h2.05v4.26h-2.05zM58.8 278.09h1.05v4.26h-1.05zM59.8 278.09h2.05v4.26h-2.05zM61.8 278.09h0.85v4.26h-0.85zM75.5 278.09h1.35v4.26h-1.35zM76.8 278.09h1.65v4.26h-1.65zM78.4 278.09h1.05v4.26h-1.05zM81.4 278.09h2.55v4.26h-2.55zM83.9 278.09h2.55v4.26h-2.55zM86.4 278.09h2.55v4.26h-2.55zM88.9 278.09h1.65v4.26h-1.65zM90.5 278.09h1.05v4.26h-1.05zM93.1 278.09h1.35v4.26h-1.35zM98.2 278.09h2.05v4.26h-2.05zM100.2 278.09h0.85v4.26h-0.85zM101 278.09h1.05v4.26h-1.05zM102 278.09h2.05v4.26h-2.05zM104 278.09h2.55v4.26h-2.55zM107.3 278.09h2.05v4.26h-2.05zM114.6 278.09h1.35v4.26h-1.35zM119.9 278.09h1.05v4.26h-1.05zM123.2 278.09h2.55v4.26h-2.55zM125.7 278.09h0.85v4.26h-0.85zM128.1 278.09h1.05v4.26h-1.05zM129.1 278.09h1.05v4.26h-1.05zM131.7 278.09h1.35v4.26h-1.35zM133 278.09h1.05v4.26h-1.05zM134 278.09h2.55v4.26h-2.55zM136.5 278.09h0.85v4.26h-0.85zM145.6 278.09h1.35v4.26h-1.35z"/>
<path fill="#5e2448" d="M31.9 278.09h2.05v4.26h-2.05zM33.9 278.09h1.65v4.26h-1.65zM43.1 278.09h1.05v4.26h-1.05zM44.9 278.09h0.85v4.26h-0.85zM52 278.09h0.85v4.26h-0.85zM54.8 278.09h2.05v4.26h-2.05zM65.7 278.09h2.55v4.26h-2.55zM96.9 278.09h1.35v4.26h-1.35zM121.9 278.09h1.35v4.26h-1.35z"/>
<path fill="#aa4262" d="M63.9 278.09h0.85v4.26h-0.85zM72.7 278.09h0.85v4.26h-0.85zM74.5 278.09h1.05v4.26h-1.05zM79.4 278.09h2.05v4.26h-2.05zM91.5 278.09h1.65v4.26h-1.65zM111.8 278.09h1.05v4.26h-1.05zM112.8 278.09h0.85v4.26h-0.85zM113.6 278.09h1.05v4.26h-1.05zM120.9 278.09h1.05v4.26h-1.05zM126.5 278.09h0.85v4.26h-0.85zM127.3 278.09h0.85v4.26h-0.85zM141.8 278.09h2.55v4.26h-2.55z"/>
<text transform="translate(8.2,282.52) scale(0.76,1)" font-size="6.5" text-anchor="middle" fill="#333" style="stroke-width:0.2px">12</text>
<rect x="15.40" y="283.36" width="113.60" height="6.16" rx="0.8" fill="#6a5eb6"/>
<rect x="16.20" y="284.31" width="112.00" height="4.26" fill="#c45a78"/>
<path fill="#c8526c" d="M16.2 284.31h2.55v4.26h-2.55zM18.7 284.31h0.85v4.26h-0.85zM19.5 284.31h1.35v4.26h-1.35zM20.8 284.31h0.85v4.26h-0.85zM25.6 284.31h2.05v4.26h-2.05zM27.6 284.31h0.85v4.26h-0.85zM28.4 284.31h1.05v4.26h-1.05zM43.6 284.31h1.05v4.26h-1.05zM49 284.31h0.85v4.26h-0.85zM49.8 284.31h0.85v4.26h-0.85zM53.1 284.31h0.85v4.26h-0.85zM57.9 284.31h1.05v4.26h-1.05zM58.9 284.31h1.05v4.26h-1.05zM59.9 284.31h0.85v4.26h-0.85zM67.2 284.31h1.05v4.26h-1.05zM75.1 284.31h1.65v4.26h-1.65zM78.7 284.31h2.55v4.26h-2.55zM84.5 284.31h2.55v4.26h-2.55zM90 284.31h1.35v4.26h-1.35zM92.1 284.31h0.85v4.26h-0.85zM92.9 284.31h2.05v4.26h-2.05zM99.4 284.31h2.55v4.26h-2.55zM107.6 284.31h0.85v4.26h-0.85zM110.8 284.31h0.85v4.26h-0.85zM111.6 284.31h1.65v4.26h-1.65zM117.1 284.31h1.35v4.26h-1.35zM120.9 284.31h1.65v4.26h-1.65zM124.9 284.31h1.05v4.26h-1.05z"/>
<path fill="#5e2448" d="M21.6 284.31h2.05v4.26h-2.05zM30.7 284.31h2.55v4.26h-2.55zM34.2 284.31h2.55v4.26h-2.55zM55.5 284.31h1.65v4.26h-1.65zM60.7 284.31h2.05v4.26h-2.05zM68.2 284.31h2.05v4.26h-2.05zM81.2 284.31h2.05v4.26h-2.05zM87 284.31h2.05v4.26h-2.05zM103.5 284.31h1.65v4.26h-1.65zM105.1 284.31h2.55v4.26h-2.55zM114.5 284.31h1.05v4.26h-1.05zM118.4 284.31h2.55v4.26h-2.55zM125.9 284.31h2.35v4.26h-2.35z"/>
<path fill="#aa4262" d="M23.6 284.31h2.05v4.26h-2.05zM36.7 284.31h1.35v4.26h-1.35zM38 284.31h2.05v4.26h-2.05zM42 284.31h1.65v4.26h-1.65zM46.2 284.31h0.85v4.26h-0.85zM47 284.31h2.05v4.26h-2.05zM57.1 284.31h0.85v4.26h-0.85zM62.7 284.31h2.55v4.26h-2.55zM70.2 284.31h1.65v4.26h-1.65zM71.8 284.31h2.05v4.26h-2.05zM101.9 284.31h1.65v4.26h-1.65z"/>
<path fill="#e4a0b4" d="M29.4 284.31h1.35v4.26h-1.35zM33.2 284.31h1.05v4.26h-1.05zM40 284.31h2.05v4.26h-2.05zM44.6 284.31h1.65v4.26h-1.65zM73.8 284.31h1.35v4.26h-1.35zM94.9 284.31h2.55v4.26h-2.55zM122.5 284.31h0.85v4.26h-0.85z"/>
<path fill="#f6eef4" d="M50.6 284.31h2.55v4.26h-2.55zM53.9 284.31h1.65v4.26h-1.65zM76.7 284.31h2.05v4.26h-2.05zM113.2 284.31h1.35v4.26h-1.35zM115.5 284.31h1.65v4.26h-1.65zM123.3 284.31h1.65v4.26h-1.65z"/>
<path fill="#2e2c74" d="M65.2 284.31h2.05v4.26h-2.05zM83.2 284.31h1.35v4.26h-1.35zM89 284.31h1.05v4.26h-1.05zM91.3 284.31h0.85v4.26h-0.85zM97.4 284.31h2.05v4.26h-2.05zM108.4 284.31h1.65v4.26h-1.65zM110 284.31h0.85v4.26h-0.85z"/>
<rect x="15.6" y="284.31" width="19.4" height="4.26" fill="#ececfa"/>
<text transform="translate(8.2,288.74) scale(0.76,1)" font-size="6.5" text-anchor="middle" fill="#333" style="stroke-width:0.2px">13</text>
<rect x="15.40" y="289.58" width="106.60" height="6.16" rx="0.8" fill="#6a5eb6"/>
<rect x="16.20" y="290.53" width="105.00" height="4.26" fill="#c45a78"/>
<path fill="#e4a0b4" d="M16.2 290.53h1.35v4.26h-1.35zM34 290.53h0.85v4.26h-0.85zM39.8 290.53h1.65v4.26h-1.65zM46.4 290.53h1.35v4.26h-1.35zM50.3 290.53h1.35v4.26h-1.35zM115.6 290.53h1.65v4.26h-1.65z"/>
<path fill="#c8526c" d="M17.5 290.53h2.55v4.26h-2.55zM24.1 290.53h2.55v4.26h-2.55zM30.4 290.53h1.05v4.26h-1.05zM31.4 290.53h1.65v4.26h-1.65zM33 290.53h1.05v4.26h-1.05zM34.8 290.53h2.55v4.26h-2.55zM43.9 290.53h2.55v4.26h-2.55zM47.7 290.53h1.65v4.26h-1.65zM60.9 290.53h1.65v4.26h-1.65zM62.5 290.53h2.55v4.26h-2.55zM67.4 290.53h1.05v4.26h-1.05zM70.4 290.53h2.55v4.26h-2.55zM72.9 290.53h1.65v4.26h-1.65zM79.1 290.53h0.85v4.26h-0.85zM85.6 290.53h1.35v4.26h-1.35zM87.9 290.53h1.65v4.26h-1.65zM90.3 290.53h2.05v4.26h-2.05zM94.8 290.53h1.35v4.26h-1.35zM98.1 290.53h1.65v4.26h-1.65zM99.7 290.53h0.85v4.26h-0.85zM100.5 290.53h1.35v4.26h-1.35zM106.3 290.53h0.85v4.26h-0.85zM117.2 290.53h2.05v4.26h-2.05z"/>
<path fill="#f6eef4" d="M20 290.53h1.65v4.26h-1.65zM21.6 290.53h2.55v4.26h-2.55zM29.1 290.53h1.35v4.26h-1.35zM41.4 290.53h2.55v4.26h-2.55zM65 290.53h0.85v4.26h-0.85zM65.8 290.53h1.65v4.26h-1.65zM79.9 290.53h0.85v4.26h-0.85zM89.5 290.53h0.85v4.26h-0.85zM110.3 290.53h2.05v4.26h-2.05zM112.3 290.53h2.05v4.26h-2.05z"/>
<path fill="#2e2c74" d="M26.6 290.53h2.55v4.26h-2.55zM51.6 290.53h2.05v4.26h-2.05zM53.6 290.53h2.55v4.26h-2.55zM56.9 290.53h1.65v4.26h-1.65zM59.3 290.53h1.65v4.26h-1.65zM68.4 290.53h2.05v4.26h-2.05zM74.5 290.53h1.35v4.26h-1.35zM75.8 290.53h0.85v4.26h-0.85zM76.6 290.53h2.55v4.26h-2.55zM84 290.53h1.65v4.26h-1.65zM105.3 290.53h1.05v4.26h-1.05zM108.7 290.53h1.65v4.26h-1.65zM119.2 290.53h1.05v4.26h-1.05z"/>
<path fill="#5e2448" d="M37.3 290.53h2.55v4.26h-2.55zM49.3 290.53h1.05v4.26h-1.05zM58.5 290.53h0.85v4.26h-0.85zM80.7 290.53h1.35v4.26h-1.35zM82 290.53h2.05v4.26h-2.05zM86.9 290.53h1.05v4.26h-1.05zM92.3 290.53h2.55v4.26h-2.55zM101.8 290.53h2.55v4.26h-2.55zM114.3 290.53h1.35v4.26h-1.35zM120.2 290.53h0.85v4.26h-0.85zM121 290.53h0.25v4.26h-0.25z"/>
<path fill="#aa4262" d="M56.1 290.53h0.85v4.26h-0.85zM96.1 290.53h2.05v4.26h-2.05zM104.3 290.53h1.05v4.26h-1.05zM107.1 290.53h1.65v4.26h-1.65z"/>
<rect x="15.6" y="290.53" width="19.4" height="4.26" fill="#ececfa"/>
<text transform="translate(8.2,294.96) scale(0.76,1)" font-size="6.5" text-anchor="middle" fill="#333" style="stroke-width:0.2px">14</text>
<rect x="15.40" y="295.80" width="101.60" height="6.16" rx="0.8" fill="#6a5eb6"/>
<rect x="16.20" y="296.75" width="100.00" height="4.26" fill="#c45a78"/>
<path fill="#2e2c74" d="M16.2 296.75h1.35v4.26h-1.35zM17.5 296.75h2.05v4.26h-2.05zM42.3 296.75h0.85v4.26h-0.85zM62.8 296.75h1.65v4.26h-1.65zM65.4 296.75h0.85v4.26h-0.85zM74.5 296.75h2.05v4.26h-2.05zM76.5 296.75h1.65v4.26h-1.65zM80.6 296.75h1.65v4.26h-1.65zM86.3 296.75h0.85v4.26h-0.85zM97 296.75h2.05v4.26h-2.05zM112.8 296.75h1.05v4.26h-1.05z"/>
<path fill="#c8526c" d="M19.5 296.75h1.35v4.26h-1.35zM20.8 296.75h2.55v4.26h-2.55zM25.7 296.75h1.65v4.26h-1.65zM29.4 296.75h0.85v4.26h-0.85zM35.3 296.75h2.55v4.26h-2.55zM37.8 296.75h2.55v4.26h-2.55zM43.1 296.75h1.05v4.26h-1.05zM56.5 296.75h2.55v4.26h-2.55zM59 296.75h1.35v4.26h-1.35zM64.4 296.75h1.05v4.26h-1.05zM66.2 296.75h1.65v4.26h-1.65zM87.1 296.75h1.35v4.26h-1.35zM94.5 296.75h2.55v4.26h-2.55zM101 296.75h2.55v4.26h-2.55zM106 296.75h1.65v4.26h-1.65zM107.6 296.75h1.65v4.26h-1.65zM111.2 296.75h1.65v4.26h-1.65zM113.8 296.75h1.65v4.26h-1.65zM115.4 296.75h0.85v4.26h-0.85z"/>
<path fill="#aa4262" d="M23.3 296.75h0.85v4.26h-0.85zM40.3 296.75h2.05v4.26h-2.05zM44.1 296.75h2.05v4.26h-2.05zM46.1 296.75h0.85v4.26h-0.85zM46.9 296.75h2.55v4.26h-2.55zM67.8 296.75h2.55v4.26h-2.55zM70.3 296.75h1.65v4.26h-1.65zM92.9 296.75h1.65v4.26h-1.65zM103.5 296.75h2.55v4.26h-2.55zM109.2 296.75h2.05v4.26h-2.05z"/>
<path fill="#e4a0b4" d="M24.1 296.75h1.65v4.26h-1.65zM32.7 296.75h1.05v4.26h-1.05zM51 296.75h1.05v4.26h-1.05zM88.4 296.75h2.05v4.26h-2.05zM90.4 296.75h2.55v4.26h-2.55z"/>
<path fill="#f6eef4" d="M27.3 296.75h1.35v4.26h-1.35zM54.5 296.75h2.05v4.26h-2.05zM72.9 296.75h1.65v4.26h-1.65zM78.1 296.75h2.55v4.26h-2.55zM82.2 296.75h2.55v4.26h-2.55zM84.7 296.75h1.65v4.26h-1.65z"/>
<path fill="#5e2448" d="M28.6 296.75h0.85v4.26h-0.85zM30.2 296.75h2.55v4.26h-2.55zM33.7 296.75h1.65v4.26h-1.65zM49.4 296.75h1.65v4.26h-1.65zM52 296.75h2.55v4.26h-2.55zM60.3 296.75h2.55v4.26h-2.55zM71.9 296.75h1.05v4.26h-1.05zM99 296.75h2.05v4.26h-2.05z"/>
<rect x="15.6" y="296.75" width="20" height="4.26" fill="#ececfa"/>
<text transform="translate(8.2,301.18) scale(0.76,1)" font-size="6.5" text-anchor="middle" fill="#333" style="stroke-width:0.2px">15</text>
<rect x="15.40" y="302.02" width="89.80" height="6.16" rx="0.8" fill="#6a5eb6"/>
<rect x="16.20" y="302.97" width="88.20" height="4.26" fill="#c45a78"/>
<path fill="#f6eef4" d="M16.2 302.97h1.05v4.26h-1.05zM42.9 302.97h1.35v4.26h-1.35zM64.3 302.97h2.55v4.26h-2.55zM74.3 302.97h1.35v4.26h-1.35zM77.9 302.97h1.35v4.26h-1.35zM79.2 302.97h1.05v4.26h-1.05zM82.7 302.97h1.65v4.26h-1.65zM95.2 302.97h1.05v4.26h-1.05zM102.8 302.97h1.35v4.26h-1.35z"/>
<path fill="#c8526c" d="M17.2 302.97h1.65v4.26h-1.65zM29.9 302.97h2.05v4.26h-2.05zM34.4 302.97h0.85v4.26h-0.85zM35.2 302.97h2.05v4.26h-2.05zM37.2 302.97h1.65v4.26h-1.65zM50.2 302.97h2.05v4.26h-2.05zM52.2 302.97h1.35v4.26h-1.35zM53.5 302.97h0.85v4.26h-0.85zM57.6 302.97h1.35v4.26h-1.35zM66.8 302.97h2.05v4.26h-2.05zM68.8 302.97h1.05v4.26h-1.05zM71.4 302.97h1.35v4.26h-1.35zM80.2 302.97h2.55v4.26h-2.55zM84.3 302.97h2.05v4.26h-2.05zM93.6 302.97h1.65v4.26h-1.65zM98.7 302.97h1.65v4.26h-1.65zM100.3 302.97h2.55v4.26h-2.55z"/>
<path fill="#2e2c74" d="M18.8 302.97h2.55v4.26h-2.55zM21.3 302.97h1.35v4.26h-1.35zM24.6 302.97h1.35v4.26h-1.35zM28.9 302.97h1.05v4.26h-1.05zM38.8 302.97h2.55v4.26h-2.55zM41.3 302.97h1.65v4.26h-1.65zM44.2 302.97h1.65v4.26h-1.65zM55.6 302.97h1.05v4.26h-1.05zM61.7 302.97h1.65v4.26h-1.65zM63.3 302.97h1.05v4.26h-1.05zM69.8 302.97h0.85v4.26h-0.85zM70.6 302.97h0.85v4.26h-0.85zM72.7 302.97h0.85v4.26h-0.85zM73.5 302.97h0.85v4.26h-0.85zM76.6 302.97h1.35v4.26h-1.35zM91.3 302.97h1.05v4.26h-1.05zM92.3 302.97h1.35v4.26h-1.35zM96.2 302.97h2.55v4.26h-2.55z"/>
<path fill="#aa4262" d="M22.6 302.97h2.05v4.26h-2.05zM25.9 302.97h2.05v4.26h-2.05zM46.6 302.97h1.65v4.26h-1.65zM56.6 302.97h1.05v4.26h-1.05zM104.1 302.97h0.35v4.26h-0.35z"/>
<path fill="#e4a0b4" d="M27.9 302.97h1.05v4.26h-1.05zM48.2 302.97h2.05v4.26h-2.05zM86.3 302.97h2.05v4.26h-2.05z"/>
<path fill="#5e2448" d="M31.9 302.97h2.55v4.26h-2.55zM45.8 302.97h0.85v4.26h-0.85zM54.3 302.97h1.35v4.26h-1.35zM58.9 302.97h2.05v4.26h-2.05zM60.9 302.97h0.85v4.26h-0.85zM75.6 302.97h1.05v4.26h-1.05zM88.3 302.97h1.05v4.26h-1.05zM89.3 302.97h2.05v4.26h-2.05z"/>
<rect x="49.6" y="302.97" width="6.8" height="4.26" fill="#ececfa"/>
<text transform="translate(8.2,307.4) scale(0.76,1)" font-size="6.5" text-anchor="middle" fill="#333" style="stroke-width:0.2px">16</text>
<rect x="15.40" y="308.24" width="80.80" height="6.16" rx="0.8" fill="#6a5eb6"/>
<rect x="16.20" y="309.19" width="79.20" height="4.26" fill="#c45a78"/>
<path fill="#c8526c" d="M16.2 309.19h0.85v4.26h-0.85zM24.5 309.19h2.05v4.26h-2.05zM26.5 309.19h1.35v4.26h-1.35zM30.7 309.19h1.65v4.26h-1.65zM35.6 309.19h2.05v4.26h-2.05zM37.6 309.19h2.55v4.26h-2.55zM40.1 309.19h2.55v4.26h-2.55zM45.2 309.19h1.35v4.26h-1.35zM46.5 309.19h0.85v4.26h-0.85zM47.3 309.19h1.35v4.26h-1.35zM48.6 309.19h0.85v4.26h-0.85zM50.7 309.19h1.05v4.26h-1.05zM51.7 309.19h0.85v4.26h-0.85zM53.3 309.19h2.05v4.26h-2.05zM60.9 309.19h2.05v4.26h-2.05zM67.8 309.19h1.05v4.26h-1.05zM68.8 309.19h1.35v4.26h-1.35zM78.8 309.19h1.65v4.26h-1.65zM84.4 309.19h1.05v4.26h-1.05zM90.5 309.19h2.05v4.26h-2.05zM93.3 309.19h0.85v4.26h-0.85z"/>
<path fill="#2e2c74" d="M17 309.19h2.55v4.26h-2.55zM19.5 309.19h2.55v4.26h-2.55zM27.8 309.19h1.35v4.26h-1.35zM42.6 309.19h1.65v4.26h-1.65zM59.3 309.19h1.65v4.26h-1.65zM70.1 309.19h0.85v4.26h-0.85zM74.3 309.19h2.05v4.26h-2.05zM95.1 309.19h0.35v4.26h-0.35z"/>
<path fill="#5e2448" d="M22 309.19h2.55v4.26h-2.55zM29.1 309.19h1.65v4.26h-1.65zM33.1 309.19h2.55v4.26h-2.55zM44.2 309.19h1.05v4.26h-1.05zM65.8 309.19h2.05v4.26h-2.05zM70.9 309.19h0.85v4.26h-0.85zM71.7 309.19h1.35v4.26h-1.35zM80.4 309.19h2.05v4.26h-2.05zM85.4 309.19h1.05v4.26h-1.05zM86.4 309.19h1.35v4.26h-1.35zM87.7 309.19h2.05v4.26h-2.05zM92.5 309.19h0.85v4.26h-0.85z"/>
<path fill="#aa4262" d="M32.3 309.19h0.85v4.26h-0.85zM49.4 309.19h1.35v4.26h-1.35zM52.5 309.19h0.85v4.26h-0.85zM62.9 309.19h1.65v4.26h-1.65zM64.5 309.19h1.35v4.26h-1.35zM76.3 309.19h2.55v4.26h-2.55z"/>
<path fill="#f6eef4" d="M55.3 309.19h2.05v4.26h-2.05zM57.3 309.19h2.05v4.26h-2.05zM73 309.19h1.35v4.26h-1.35zM89.7 309.19h0.85v4.26h-0.85zM94.1 309.19h1.05v4.26h-1.05z"/>
<path fill="#e4a0b4" d="M82.4 309.19h2.05v4.26h-2.05z"/>
<text transform="translate(8.2,313.62) scale(0.76,1)" font-size="6.5" text-anchor="middle" fill="#333" style="stroke-width:0.2px">17</text>
<rect x="15.40" y="314.46" width="77.70" height="6.16" rx="0.8" fill="#6a5eb6"/>
<rect x="16.20" y="315.41" width="76.10" height="4.26" fill="#c45a78"/>
<path fill="#aa4262" d="M16.2 315.41h0.85v4.26h-0.85zM22.6 315.41h0.85v4.26h-0.85zM63.6 315.41h1.35v4.26h-1.35z"/>
<path fill="#5e2448" d="M17 315.41h1.65v4.26h-1.65zM18.6 315.41h2.05v4.26h-2.05zM25.4 315.41h2.55v4.26h-2.55zM29.2 315.41h2.55v4.26h-2.55zM38.3 315.41h2.05v4.26h-2.05zM69.9 315.41h1.65v4.26h-1.65zM90 315.41h1.65v4.26h-1.65zM91.6 315.41h0.75v4.26h-0.75z"/>
<path fill="#2e2c74" d="M20.6 315.41h2.05v4.26h-2.05zM23.4 315.41h1.05v4.26h-1.05zM47.3 315.41h0.85v4.26h-0.85zM50.6 315.41h1.05v4.26h-1.05zM54.1 315.41h1.65v4.26h-1.65zM67.4 315.41h2.55v4.26h-2.55zM73.6 315.41h1.05v4.26h-1.05zM79.2 315.41h2.55v4.26h-2.55zM81.7 315.41h2.55v4.26h-2.55zM84.2 315.41h2.55v4.26h-2.55z"/>
<path fill="#e4a0b4" d="M24.4 315.41h1.05v4.26h-1.05zM27.9 315.41h1.35v4.26h-1.35zM32.5 315.41h2.55v4.26h-2.55zM62 315.41h0.85v4.26h-0.85zM77.9 315.41h1.35v4.26h-1.35z"/>
<path fill="#c8526c" d="M31.7 315.41h0.85v4.26h-0.85zM35 315.41h2.05v4.26h-2.05zM37 315.41h1.35v4.26h-1.35zM40.3 315.41h2.55v4.26h-2.55zM43.8 315.41h2.55v4.26h-2.55zM46.3 315.41h1.05v4.26h-1.05zM48.1 315.41h2.55v4.26h-2.55zM51.6 315.41h2.55v4.26h-2.55zM57 315.41h2.55v4.26h-2.55zM59.5 315.41h2.55v4.26h-2.55zM64.9 315.41h2.55v4.26h-2.55zM71.5 315.41h0.85v4.26h-0.85zM72.3 315.41h1.35v4.26h-1.35zM74.6 315.41h0.85v4.26h-0.85zM75.4 315.41h2.55v4.26h-2.55zM86.7 315.41h2.55v4.26h-2.55zM89.2 315.41h0.85v4.26h-0.85z"/>
<path fill="#f6eef4" d="M42.8 315.41h1.05v4.26h-1.05zM55.7 315.41h1.35v4.26h-1.35zM62.8 315.41h0.85v4.26h-0.85z"/>
<text transform="translate(8.2,319.84) scale(0.76,1)" font-size="6.5" text-anchor="middle" fill="#333" style="stroke-width:0.2px">18</text>
<rect x="15.40" y="320.68" width="58.60" height="6.16" rx="0.8" fill="#6a5eb6"/>
<rect x="16.20" y="321.63" width="57.00" height="4.26" fill="#c45a78"/>
<path fill="#c8526c" d="M16.2 321.63h0.85v4.26h-0.85zM19.6 321.63h1.65v4.26h-1.65zM23.2 321.63h2.05v4.26h-2.05zM25.2 321.63h2.05v4.26h-2.05zM31.7 321.63h1.65v4.26h-1.65zM33.3 321.63h2.55v4.26h-2.55zM37.8 321.63h0.85v4.26h-0.85zM41.8 321.63h2.55v4.26h-2.55zM45.6 321.63h0.85v4.26h-0.85zM46.4 321.63h0.85v4.26h-0.85zM48.2 321.63h0.85v4.26h-0.85zM56.1 321.63h1.05v4.26h-1.05zM58.1 321.63h1.65v4.26h-1.65zM62.2 321.63h0.85v4.26h-0.85zM65 321.63h1.65v4.26h-1.65zM69.4 321.63h1.65v4.26h-1.65zM71 321.63h2.05v4.26h-2.05z"/>
<path fill="#e4a0b4" d="M17 321.63h1.35v4.26h-1.35zM53.3 321.63h2.05v4.26h-2.05zM73 321.63h0.25v4.26h-0.25z"/>
<path fill="#5e2448" d="M18.3 321.63h1.35v4.26h-1.35zM29.7 321.63h2.05v4.26h-2.05zM40.2 321.63h1.65v4.26h-1.65zM47.2 321.63h1.05v4.26h-1.05zM55.3 321.63h0.85v4.26h-0.85zM59.7 321.63h2.55v4.26h-2.55z"/>
<path fill="#2e2c74" d="M21.2 321.63h2.05v4.26h-2.05zM27.2 321.63h2.55v4.26h-2.55zM44.3 321.63h1.35v4.26h-1.35zM51.5 321.63h0.85v4.26h-0.85zM63 321.63h2.05v4.26h-2.05zM66.6 321.63h2.05v4.26h-2.05z"/>
<path fill="#f6eef4" d="M35.8 321.63h2.05v4.26h-2.05zM52.3 321.63h1.05v4.26h-1.05z"/>
<path fill="#aa4262" d="M38.6 321.63h1.65v4.26h-1.65zM49 321.63h2.55v4.26h-2.55zM57.1 321.63h1.05v4.26h-1.05zM68.6 321.63h0.85v4.26h-0.85z"/>
<text transform="translate(8.2,326.06) scale(0.76,1)" font-size="6.5" text-anchor="middle" fill="#333" style="stroke-width:0.2px">19</text>
<rect x="15.40" y="326.90" width="62.60" height="6.16" rx="0.8" fill="#6a5eb6"/>
<rect x="16.20" y="327.85" width="61.00" height="4.26" fill="#c45a78"/>
<path fill="#f6eef4" d="M16.2 327.85h1.65v4.26h-1.65zM17.8 327.85h2.05v4.26h-2.05zM23.6 327.85h1.65v4.26h-1.65zM26.5 327.85h0.85v4.26h-0.85zM32.7 327.85h1.65v4.26h-1.65zM41.7 327.85h2.05v4.26h-2.05zM43.7 327.85h2.05v4.26h-2.05z"/>
<path fill="#5e2448" d="M19.8 327.85h1.35v4.26h-1.35zM35.6 327.85h0.85v4.26h-0.85zM50.6 327.85h1.65v4.26h-1.65zM55.5 327.85h2.55v4.26h-2.55zM63.1 327.85h1.35v4.26h-1.35zM67.7 327.85h2.05v4.26h-2.05z"/>
<path fill="#c8526c" d="M21.1 327.85h2.55v4.26h-2.55zM27.3 327.85h0.85v4.26h-0.85zM28.1 327.85h1.35v4.26h-1.35zM30.2 327.85h2.55v4.26h-2.55zM48.6 327.85h2.05v4.26h-2.05zM52.2 327.85h0.85v4.26h-0.85zM53 327.85h2.55v4.26h-2.55zM58 327.85h1.05v4.26h-1.05zM62.3 327.85h0.85v4.26h-0.85zM64.4 327.85h2.05v4.26h-2.05zM66.4 327.85h1.35v4.26h-1.35zM69.7 327.85h2.55v4.26h-2.55zM73 327.85h2.55v4.26h-2.55z"/>
<path fill="#e4a0b4" d="M25.2 327.85h1.35v4.26h-1.35zM45.7 327.85h1.35v4.26h-1.35z"/>
<path fill="#2e2c74" d="M29.4 327.85h0.85v4.26h-0.85zM34.3 327.85h1.35v4.26h-1.35zM36.4 327.85h0.85v4.26h-0.85zM39.7 327.85h2.05v4.26h-2.05zM47 327.85h1.65v4.26h-1.65zM72.2 327.85h0.85v4.26h-0.85zM76.8 327.85h0.45v4.26h-0.45z"/>
<path fill="#aa4262" d="M37.2 327.85h2.55v4.26h-2.55zM59 327.85h2.05v4.26h-2.05zM61 327.85h1.35v4.26h-1.35zM75.5 327.85h1.35v4.26h-1.35z"/>
<text transform="translate(8.2,332.28) scale(0.76,1)" font-size="6.5" text-anchor="middle" fill="#333" style="stroke-width:0.2px">20</text>
<rect x="15.40" y="333.12" width="48.00" height="6.16" rx="0.8" fill="#6a5eb6"/>
<rect x="16.20" y="334.07" width="46.40" height="4.26" fill="#c45a78"/>
<path fill="#aa4262" d="M16.2 334.07h0.85v4.26h-0.85zM22.2 334.07h2.05v4.26h-2.05zM34.6 334.07h0.85v4.26h-0.85zM43.2 334.07h1.05v4.26h-1.05zM45.5 334.07h2.05v4.26h-2.05zM49.6 334.07h0.85v4.26h-0.85zM59.3 334.07h2.55v4.26h-2.55z"/>
<path fill="#f6eef4" d="M17 334.07h1.05v4.26h-1.05zM51.2 334.07h1.05v4.26h-1.05zM54.2 334.07h2.55v4.26h-2.55z"/>
<path fill="#2e2c74" d="M18 334.07h1.05v4.26h-1.05zM24.2 334.07h1.35v4.26h-1.35zM44.2 334.07h1.35v4.26h-1.35zM48.8 334.07h0.85v4.26h-0.85zM58 334.07h1.35v4.26h-1.35z"/>
<path fill="#e4a0b4" d="M19 334.07h1.65v4.26h-1.65zM29.1 334.07h2.55v4.26h-2.55zM42.4 334.07h0.85v4.26h-0.85zM47.5 334.07h1.35v4.26h-1.35zM56.7 334.07h1.35v4.26h-1.35z"/>
<path fill="#c8526c" d="M20.6 334.07h1.65v4.26h-1.65zM27.1 334.07h2.05v4.26h-2.05zM31.6 334.07h1.05v4.26h-1.05zM32.6 334.07h2.05v4.26h-2.05zM37.4 334.07h2.55v4.26h-2.55zM39.9 334.07h2.55v4.26h-2.55zM50.4 334.07h0.85v4.26h-0.85zM53.2 334.07h1.05v4.26h-1.05z"/>
<path fill="#5e2448" d="M25.5 334.07h1.65v4.26h-1.65zM35.4 334.07h1.05v4.26h-1.05zM36.4 334.07h1.05v4.26h-1.05zM52.2 334.07h1.05v4.26h-1.05zM61.8 334.07h0.85v4.26h-0.85z"/>
<rect x="15.6" y="334.07" width="9.7" height="4.26" fill="#ececfa"/>
<text transform="translate(8.2,338.5) scale(0.76,1)" font-size="6.5" text-anchor="middle" fill="#333" style="stroke-width:0.2px">21</text>
<rect x="15.40" y="339.34" width="51.20" height="6.16" rx="0.8" fill="#6a5eb6"/>
<rect x="16.20" y="340.29" width="49.60" height="4.26" fill="#c45a78"/>
<path fill="#c8526c" d="M16.2 340.29h2.05v4.26h-2.05zM19 340.29h1.35v4.26h-1.35zM21.6 340.29h1.65v4.26h-1.65zM26.1 340.29h2.05v4.26h-2.05zM28.1 340.29h1.35v4.26h-1.35zM29.4 340.29h1.05v4.26h-1.05zM31.7 340.29h2.55v4.26h-2.55zM43.1 340.29h1.35v4.26h-1.35zM44.4 340.29h0.85v4.26h-0.85zM49.3 340.29h1.65v4.26h-1.65zM50.9 340.29h1.65v4.26h-1.65zM58.2 340.29h1.65v4.26h-1.65zM59.8 340.29h1.05v4.26h-1.05zM65.3 340.29h0.55v4.26h-0.55z"/>
<path fill="#2e2c74" d="M18.2 340.29h0.85v4.26h-0.85zM20.3 340.29h1.35v4.26h-1.35zM30.4 340.29h1.35v4.26h-1.35zM41.5 340.29h1.65v4.26h-1.65zM52.5 340.29h1.05v4.26h-1.05zM53.5 340.29h1.65v4.26h-1.65zM56.4 340.29h1.05v4.26h-1.05zM60.8 340.29h2.55v4.26h-2.55zM63.3 340.29h2.05v4.26h-2.05z"/>
<path fill="#aa4262" d="M23.2 340.29h1.65v4.26h-1.65zM24.8 340.29h1.35v4.26h-1.35zM39 340.29h2.55v4.26h-2.55zM55.1 340.29h1.35v4.26h-1.35z"/>
<path fill="#5e2448" d="M34.2 340.29h1.65v4.26h-1.65zM45.2 340.29h1.65v4.26h-1.65z"/>
<path fill="#f6eef4" d="M35.8 340.29h1.65v4.26h-1.65zM57.4 340.29h0.85v4.26h-0.85z"/>
<path fill="#e4a0b4" d="M37.4 340.29h1.65v4.26h-1.65zM46.8 340.29h2.55v4.26h-2.55z"/>
<rect x="15.6" y="340.29" width="15.4" height="4.26" fill="#ececfa"/>
<text transform="translate(8.2,344.72) scale(0.76,1)" font-size="6.5" text-anchor="middle" fill="#333" style="stroke-width:0.2px">22</text>
<rect x="15.40" y="345.56" width="153.50" height="6.16" rx="0.8" fill="#6a5eb6"/>
<rect x="16.20" y="346.51" width="151.90" height="4.26" fill="#c45a78"/>
<path fill="#5e2448" d="M16.2 346.51h1.05v4.26h-1.05zM33 346.51h1.65v4.26h-1.65zM39.3 346.51h2.05v4.26h-2.05zM46.3 346.51h1.05v4.26h-1.05zM53.4 346.51h0.85v4.26h-0.85zM55.2 346.51h1.65v4.26h-1.65zM56.8 346.51h2.55v4.26h-2.55zM61.3 346.51h2.05v4.26h-2.05zM64.3 346.51h2.05v4.26h-2.05zM89.8 346.51h1.35v4.26h-1.35zM96.6 346.51h0.85v4.26h-0.85zM105.6 346.51h2.55v4.26h-2.55zM108.1 346.51h1.35v4.26h-1.35zM111 346.51h2.55v4.26h-2.55zM114.3 346.51h1.65v4.26h-1.65zM121.5 346.51h2.55v4.26h-2.55zM131.5 346.51h1.65v4.26h-1.65zM142.2 346.51h1.05v4.26h-1.05zM147.3 346.51h2.55v4.26h-2.55zM155.7 346.51h2.05v4.26h-2.05zM162.8 346.51h0.85v4.26h-0.85zM167.5 346.51h0.65v4.26h-0.65z"/>
<path fill="#c8526c" d="M17.2 346.51h0.85v4.26h-0.85zM18 346.51h0.85v4.26h-0.85zM19.8 346.51h0.85v4.26h-0.85zM23.7 346.51h2.05v4.26h-2.05zM25.7 346.51h1.65v4.26h-1.65zM27.3 346.51h1.65v4.26h-1.65zM34.6 346.51h1.35v4.26h-1.35zM38.3 346.51h1.05v4.26h-1.05zM43.3 346.51h1.05v4.26h-1.05zM44.3 346.51h2.05v4.26h-2.05zM54.2 346.51h1.05v4.26h-1.05zM60.3 346.51h1.05v4.26h-1.05zM63.3 346.51h1.05v4.26h-1.05zM83.9 346.51h2.55v4.26h-2.55zM86.4 346.51h1.65v4.26h-1.65zM91.1 346.51h2.55v4.26h-2.55zM97.4 346.51h1.65v4.26h-1.65zM99 346.51h0.85v4.26h-0.85zM102.7 346.51h1.35v4.26h-1.35zM104 346.51h1.65v4.26h-1.65zM109.4 346.51h0.85v4.26h-0.85zM110.2 346.51h0.85v4.26h-0.85zM113.5 346.51h0.85v4.26h-0.85zM115.9 346.51h1.35v4.26h-1.35zM119.2 346.51h1.35v4.26h-1.35zM120.5 346.51h1.05v4.26h-1.05zM124 346.51h1.05v4.26h-1.05zM125 346.51h2.55v4.26h-2.55zM129.5 346.51h2.05v4.26h-2.05zM134.4 346.51h2.05v4.26h-2.05zM139.3 346.51h1.65v4.26h-1.65zM149.8 346.51h1.65v4.26h-1.65zM153.4 346.51h1.35v4.26h-1.35zM160.2 346.51h1.35v4.26h-1.35zM163.6 346.51h1.65v4.26h-1.65zM165.2 346.51h1.05v4.26h-1.05z"/>
<path fill="#aa4262" d="M18.8 346.51h1.05v4.26h-1.05zM21.4 346.51h1.35v4.26h-1.35zM52.4 346.51h1.05v4.26h-1.05zM59.3 346.51h1.05v4.26h-1.05zM70.3 346.51h1.65v4.26h-1.65zM76.8 346.51h1.35v4.26h-1.35zM82.6 346.51h1.35v4.26h-1.35zM117.2 346.51h2.05v4.26h-2.05zM154.7 346.51h1.05v4.26h-1.05z"/>
<path fill="#e4a0b4" d="M20.6 346.51h0.85v4.26h-0.85zM28.9 346.51h2.55v4.26h-2.55zM31.4 346.51h1.65v4.26h-1.65zM49.9 346.51h2.55v4.26h-2.55zM66.3 346.51h2.05v4.26h-2.05zM71.9 346.51h2.55v4.26h-2.55zM88 346.51h0.85v4.26h-0.85zM88.8 346.51h1.05v4.26h-1.05zM93.6 346.51h1.05v4.26h-1.05zM99.8 346.51h1.65v4.26h-1.65zM101.4 346.51h1.35v4.26h-1.35zM133.1 346.51h1.35v4.26h-1.35zM136.4 346.51h1.35v4.26h-1.35zM152.4 346.51h1.05v4.26h-1.05z"/>
<path fill="#f6eef4" d="M22.7 346.51h1.05v4.26h-1.05zM35.9 346.51h1.65v4.26h-1.65zM37.5 346.51h0.85v4.26h-0.85zM41.3 346.51h2.05v4.26h-2.05zM78.1 346.51h2.05v4.26h-2.05zM94.6 346.51h2.05v4.26h-2.05zM143.2 346.51h1.65v4.26h-1.65zM161.5 346.51h1.35v4.26h-1.35z"/>
<path fill="#2e2c74" d="M47.3 346.51h1.35v4.26h-1.35zM48.6 346.51h1.35v4.26h-1.35zM68.3 346.51h2.05v4.26h-2.05zM74.4 346.51h1.65v4.26h-1.65zM76 346.51h0.85v4.26h-0.85zM80.1 346.51h2.55v4.26h-2.55zM127.5 346.51h2.05v4.26h-2.05zM137.7 346.51h1.65v4.26h-1.65zM140.9 346.51h1.35v4.26h-1.35zM144.8 346.51h2.55v4.26h-2.55zM151.4 346.51h1.05v4.26h-1.05zM157.7 346.51h2.55v4.26h-2.55zM166.2 346.51h1.35v4.26h-1.35z"/>
<text transform="translate(8.2,350.94) scale(0.76,1)" font-size="6.5" text-anchor="middle" fill="#333" style="stroke-width:0.2px">X</text>
<rect x="15.40" y="351.78" width="58.40" height="6.16" rx="0.8" fill="#6a5eb6"/>
<rect x="16.20" y="352.73" width="56.80" height="4.26" fill="#c45a78"/>
<path fill="#c8526c" d="M16.2 352.73h2.55v4.26h-2.55zM21 352.73h0.85v4.26h-0.85zM24.3 352.73h2.05v4.26h-2.05zM34.3 352.73h1.65v4.26h-1.65zM38.5 352.73h1.35v4.26h-1.35zM43.2 352.73h1.35v4.26h-1.35zM49.6 352.73h1.65v4.26h-1.65zM59 352.73h1.05v4.26h-1.05zM65 352.73h0.85v4.26h-0.85zM70.9 352.73h1.05v4.26h-1.05zM71.9 352.73h1.15v4.26h-1.15z"/>
<path fill="#5e2448" d="M18.7 352.73h1.35v4.26h-1.35zM26.3 352.73h1.05v4.26h-1.05zM27.3 352.73h2.05v4.26h-2.05zM31.1 352.73h1.65v4.26h-1.65zM45.8 352.73h2.55v4.26h-2.55zM60 352.73h1.65v4.26h-1.65zM61.6 352.73h0.85v4.26h-0.85zM68.1 352.73h0.85v4.26h-0.85z"/>
<path fill="#aa4262" d="M20 352.73h1.05v4.26h-1.05zM21.8 352.73h2.55v4.26h-2.55zM48.3 352.73h1.35v4.26h-1.35zM65.8 352.73h1.05v4.26h-1.05zM68.9 352.73h2.05v4.26h-2.05z"/>
<path fill="#e4a0b4" d="M29.3 352.73h0.85v4.26h-0.85zM35.9 352.73h1.65v4.26h-1.65z"/>
<path fill="#f6eef4" d="M30.1 352.73h1.05v4.26h-1.05zM32.7 352.73h1.65v4.26h-1.65zM39.8 352.73h1.05v4.26h-1.05zM40.8 352.73h0.85v4.26h-0.85zM41.6 352.73h1.65v4.26h-1.65zM51.2 352.73h1.35v4.26h-1.35zM54.5 352.73h2.55v4.26h-2.55zM64 352.73h1.05v4.26h-1.05z"/>
<path fill="#2e2c74" d="M37.5 352.73h1.05v4.26h-1.05zM44.5 352.73h1.35v4.26h-1.35zM52.5 352.73h2.05v4.26h-2.05zM57 352.73h2.05v4.26h-2.05zM62.4 352.73h1.65v4.26h-1.65zM66.8 352.73h1.35v4.26h-1.35z"/>
<rect x="15.6" y="352.73" width="58.2" height="4.26" fill="#ececfa"/>
<rect x="19" y="352.73" width="0.8" height="4.26" fill="#9a9ad8"/>
<rect x="23.5" y="352.73" width="0.8" height="4.26" fill="#9a9ad8"/>
<rect x="26" y="352.73" width="0.8" height="4.26" fill="#9a9ad8"/>
<rect x="29.5" y="352.73" width="0.8" height="4.26" fill="#9a9ad8"/>
<rect x="33" y="352.73" width="0.8" height="4.26" fill="#9a9ad8"/>
<rect x="36.2" y="352.73" width="0.8" height="4.26" fill="#9a9ad8"/>
<text transform="translate(8.2,357.16) scale(0.76,1)" font-size="6.5" text-anchor="middle" fill="#333" style="stroke-width:0.2px">Y</text>
<rect x="133.4" y="310" width="4.7" height="4.5" fill="#d2485a"/>
<rect x="133.4" y="319.3" width="4.7" height="4.5" fill="#283080"/>
<text x="140.9" y="315.2" font-size="7.42" fill="#222" >CpG-clusters covered by RRBS</text>
<text x="140.9" y="324.3" font-size="7.42" fill="#222" >Differentially methylated regions (DMRs)</text>
<defs>
<linearGradient id="d0"><stop offset="0.0%" stop-color="#384ea5"/><stop offset="3.0%" stop-color="#3d5ab2"/><stop offset="6.1%" stop-color="#4162b9"/><stop offset="9.1%" stop-color="#4162ba"/><stop offset="12.1%" stop-color="#4162ba"/><stop offset="15.2%" stop-color="#4162ba"/><stop offset="18.2%" stop-color="#4162ba"/><stop offset="21.2%" stop-color="#4162ba"/><stop offset="24.2%" stop-color="#4162ba"/><stop offset="27.3%" stop-color="#4163ba"/><stop offset="30.3%" stop-color="#4163ba"/><stop offset="33.3%" stop-color="#4163ba"/><stop offset="36.4%" stop-color="#4163ba"/><stop offset="39.4%" stop-color="#4263ba"/><stop offset="42.4%" stop-color="#4263bb"/><stop offset="45.5%" stop-color="#4264bb"/><stop offset="48.5%" stop-color="#4264bb"/><stop offset="51.5%" stop-color="#4265bc"/><stop offset="54.5%" stop-color="#4366bc"/><stop offset="57.6%" stop-color="#4367bd"/><stop offset="60.6%" stop-color="#4468be"/><stop offset="63.6%" stop-color="#476fc3"/><stop offset="66.7%" stop-color="#5385d2"/><stop offset="69.7%" stop-color="#6cb0e2"/><stop offset="72.7%" stop-color="#7cbeda"/><stop offset="75.8%" stop-color="#85c5c0"/><stop offset="78.8%" stop-color="#8ec99a"/><stop offset="81.8%" stop-color="#a0cf68"/><stop offset="84.8%" stop-color="#b9d54d"/><stop offset="87.9%" stop-color="#d9d838"/><stop offset="90.9%" stop-color="#e9c430"/><stop offset="93.9%" stop-color="#e9c330"/><stop offset="97.0%" stop-color="#dbd837"/><stop offset="100.0%" stop-color="#bad54c"/></linearGradient>
<linearGradient id="d1"><stop offset="0.0%" stop-color="#384ea5"/><stop offset="3.0%" stop-color="#3d5ab2"/><stop offset="6.1%" stop-color="#4162b9"/><stop offset="9.1%" stop-color="#4162ba"/><stop offset="12.1%" stop-color="#4162ba"/><stop offset="15.2%" stop-color="#4162ba"/><stop offset="18.2%" stop-color="#4162ba"/><stop offset="21.2%" stop-color="#4162ba"/><stop offset="24.2%" stop-color="#4163ba"/><stop offset="27.3%" stop-color="#4163ba"/><stop offset="30.3%" stop-color="#4163ba"/><stop offset="33.3%" stop-color="#4163ba"/><stop offset="36.4%" stop-color="#4263ba"/><stop offset="39.4%" stop-color="#4263bb"/><stop offset="42.4%" stop-color="#4264bb"/><stop offset="45.5%" stop-color="#4264bb"/><stop offset="48.5%" stop-color="#4265bc"/><stop offset="51.5%" stop-color="#4366bc"/><stop offset="54.5%" stop-color="#4367bd"/><stop offset="57.6%" stop-color="#4468be"/><stop offset="60.6%" stop-color="#456ac0"/><stop offset="63.6%" stop-color="#4871c5"/><stop offset="66.7%" stop-color="#5588d3"/><stop offset="69.7%" stop-color="#6db1e1"/><stop offset="72.7%" stop-color="#7dbfda"/><stop offset="75.8%" stop-color="#85c5bd"/><stop offset="78.8%" stop-color="#8fca95"/><stop offset="81.8%" stop-color="#a2d062"/><stop offset="84.8%" stop-color="#bed649"/><stop offset="87.9%" stop-color="#e4d832"/><stop offset="90.9%" stop-color="#eaaf30"/><stop offset="93.9%" stop-color="#eaad30"/><stop offset="97.0%" stop-color="#e7d830"/><stop offset="100.0%" stop-color="#bfd648"/></linearGradient>
<linearGradient id="d2"><stop offset="0.0%" stop-color="#384ea5"/><stop offset="3.0%" stop-color="#3d5ab2"/><stop offset="6.1%" stop-color="#4162b9"/><stop offset="9.1%" stop-color="#4162ba"/><stop offset="12.1%" stop-color="#4162ba"/><stop offset="15.2%" stop-color="#4162ba"/><stop offset="18.2%" stop-color="#4162ba"/><stop offset="21.2%" stop-color="#4163ba"/><stop offset="24.2%" stop-color="#4163ba"/><stop offset="27.3%" stop-color="#4163ba"/><stop offset="30.3%" stop-color="#4163ba"/><stop offset="33.3%" stop-color="#4263ba"/><stop offset="36.4%" stop-color="#4263bb"/><stop offset="39.4%" stop-color="#4264bb"/><stop offset="42.4%" stop-color="#4264bb"/><stop offset="45.5%" stop-color="#4265bc"/><stop offset="48.5%" stop-color="#4366bc"/><stop offset="51.5%" stop-color="#4467bd"/><stop offset="54.5%" stop-color="#4469bf"/><stop offset="57.6%" stop-color="#466bc0"/><stop offset="60.6%" stop-color="#476ec3"/><stop offset="63.6%" stop-color="#4a75c8"/><stop offset="66.7%" stop-color="#578cd4"/><stop offset="69.7%" stop-color="#6eb2e1"/><stop offset="72.7%" stop-color="#7ec0d9"/><stop offset="75.8%" stop-color="#86c5bb"/><stop offset="78.8%" stop-color="#91ca91"/><stop offset="81.8%" stop-color="#a5d160"/><stop offset="84.8%" stop-color="#c2d745"/><stop offset="87.9%" stop-color="#e8ce30"/><stop offset="90.9%" stop-color="#e6952c"/><stop offset="93.9%" stop-color="#e6932c"/><stop offset="97.0%" stop-color="#e9cb30"/><stop offset="100.0%" stop-color="#c4d744"/></linearGradient>
<linearGradient id="d3"><stop offset="0.0%" stop-color="#384ea5"/><stop offset="3.0%" stop-color="#3d5ab2"/><stop offset="6.1%" stop-color="#4162b9"/><stop offset="9.1%" stop-color="#4162ba"/><stop offset="12.1%" stop-color="#4162ba"/><stop offset="15.2%" stop-color="#4162ba"/><stop offset="18.2%" stop-color="#4163ba"/><stop offset="21.2%" stop-color="#4163ba"/><stop offset="24.2%" stop-color="#4163ba"/><stop offset="27.3%" stop-color="#4263ba"/><stop offset="30.3%" stop-color="#4263ba"/><stop offset="33.3%" stop-color="#4264bb"/><stop offset="36.4%" stop-color="#4264bb"/><stop offset="39.4%" stop-color="#4264bb"/><stop offset="42.4%" stop-color="#4365bc"/><stop offset="45.5%" stop-color="#4366bc"/><stop offset="48.5%" stop-color="#4467bd"/><stop offset="51.5%" stop-color="#4569bf"/><stop offset="54.5%" stop-color="#466cc1"/><stop offset="57.6%" stop-color="#4870c4"/><stop offset="60.6%" stop-color="#4a75c8"/><stop offset="63.6%" stop-color="#4e7ccd"/><stop offset="66.7%" stop-color="#5a92d7"/><stop offset="69.7%" stop-color="#6fb3e1"/><stop offset="72.7%" stop-color="#7ec0d9"/><stop offset="75.8%" stop-color="#86c6b9"/><stop offset="78.8%" stop-color="#92cb8e"/><stop offset="81.8%" stop-color="#a6d15e"/><stop offset="84.8%" stop-color="#c5d743"/><stop offset="87.9%" stop-color="#e9c530"/><stop offset="90.9%" stop-color="#e4842a"/><stop offset="93.9%" stop-color="#e4832a"/><stop offset="97.0%" stop-color="#e9c130"/><stop offset="100.0%" stop-color="#c7d841"/></linearGradient>
<linearGradient id="d4"><stop offset="0.0%" stop-color="#384ea5"/><stop offset="3.0%" stop-color="#3d5ab2"/><stop offset="6.1%" stop-color="#4162b9"/><stop offset="9.1%" stop-color="#4162ba"/><stop offset="12.1%" stop-color="#4162ba"/><stop offset="15.2%" stop-color="#4163ba"/><stop offset="18.2%" stop-color="#4163ba"/><stop offset="21.2%" stop-color="#4163ba"/><stop offset="24.2%" stop-color="#4263ba"/><stop offset="27.3%" stop-color="#4263ba"/><stop offset="30.3%" stop-color="#4264bb"/><stop offset="33.3%" stop-color="#4264bb"/><stop offset="36.4%" stop-color="#4264bb"/><stop offset="39.4%" stop-color="#4365bc"/><stop offset="42.4%" stop-color="#4366bd"/><stop offset="45.5%" stop-color="#4468be"/><stop offset="48.5%" stop-color="#456abf"/><stop offset="51.5%" stop-color="#476dc2"/><stop offset="54.5%" stop-color="#4972c5"/><stop offset="57.6%" stop-color="#4c78ca"/><stop offset="60.6%" stop-color="#4f7ecf"/><stop offset="63.6%" stop-color="#578bd4"/><stop offset="66.7%" stop-color="#629fdb"/><stop offset="69.7%" stop-color="#70b4e0"/><stop offset="72.7%" stop-color="#7ec1d9"/><stop offset="75.8%" stop-color="#86c6b9"/><stop offset="78.8%" stop-color="#92cb8d"/><stop offset="81.8%" stop-color="#a7d15e"/><stop offset="84.8%" stop-color="#c6d842"/><stop offset="87.9%" stop-color="#e9c130"/><stop offset="90.9%" stop-color="#e37d29"/><stop offset="93.9%" stop-color="#e27b28"/><stop offset="97.0%" stop-color="#e9bd30"/><stop offset="100.0%" stop-color="#c8d840"/></linearGradient>
<linearGradient id="d5"><stop offset="0.0%" stop-color="#384ea5"/><stop offset="3.0%" stop-color="#3d5ab2"/><stop offset="6.1%" stop-color="#4162b9"/><stop offset="9.1%" stop-color="#4162ba"/><stop offset="12.1%" stop-color="#4163ba"/><stop offset="15.2%" stop-color="#4163ba"/><stop offset="18.2%" stop-color="#4163ba"/><stop offset="21.2%" stop-color="#4263ba"/><stop offset="24.2%" stop-color="#4263ba"/><stop offset="27.3%" stop-color="#4264bb"/><stop offset="30.3%" stop-color="#4264bb"/><stop offset="33.3%" stop-color="#4265bb"/><stop offset="36.4%" stop-color="#4365bc"/><stop offset="39.4%" stop-color="#4366bd"/><stop offset="42.4%" stop-color="#4468be"/><stop offset="45.5%" stop-color="#456ac0"/><stop offset="48.5%" stop-color="#476ec2"/><stop offset="51.5%" stop-color="#4973c6"/><stop offset="54.5%" stop-color="#4d7acc"/><stop offset="57.6%" stop-color="#5284d1"/><stop offset="60.6%" stop-color="#5b92d7"/><stop offset="63.6%" stop-color="#62a0dc"/><stop offset="66.7%" stop-color="#69abe0"/><stop offset="69.7%" stop-color="#71b5df"/><stop offset="72.7%" stop-color="#7ec1d9"/><stop offset="75.8%" stop-color="#86c6b9"/><stop offset="78.8%" stop-color="#92cb8e"/><stop offset="81.8%" stop-color="#a7d15e"/><stop offset="84.8%" stop-color="#c6d842"/><stop offset="87.9%" stop-color="#e9c230"/><stop offset="90.9%" stop-color="#e38029"/><stop offset="93.9%" stop-color="#e37e29"/><stop offset="97.0%" stop-color="#e9bf30"/><stop offset="100.0%" stop-color="#c7d840"/></linearGradient>
<linearGradient id="d6"><stop offset="0.0%" stop-color="#384ea5"/><stop offset="3.0%" stop-color="#3d5ab2"/><stop offset="6.1%" stop-color="#4162b9"/><stop offset="9.1%" stop-color="#4163ba"/><stop offset="12.1%" stop-color="#4163ba"/><stop offset="15.2%" stop-color="#4163ba"/><stop offset="18.2%" stop-color="#4263ba"/><stop offset="21.2%" stop-color="#4263bb"/><stop offset="24.2%" stop-color="#4264bb"/><stop offset="27.3%" stop-color="#4264bb"/><stop offset="30.3%" stop-color="#4265bc"/><stop offset="33.3%" stop-color="#4365bc"/><stop offset="36.4%" stop-color="#4367bd"/><stop offset="39.4%" stop-color="#4468be"/><stop offset="42.4%" stop-color="#456bc0"/><stop offset="45.5%" stop-color="#476ec3"/><stop offset="48.5%" stop-color="#4a74c7"/><stop offset="51.5%" stop-color="#4e7ccd"/><stop offset="54.5%" stop-color="#5589d3"/><stop offset="57.6%" stop-color="#5f99d9"/><stop offset="60.6%" stop-color="#65a4de"/><stop offset="63.6%" stop-color="#6aade1"/><stop offset="66.7%" stop-color="#6db1e1"/><stop offset="69.7%" stop-color="#73b6df"/><stop offset="72.7%" stop-color="#7ec1d9"/><stop offset="75.8%" stop-color="#86c5ba"/><stop offset="78.8%" stop-color="#91ca90"/><stop offset="81.8%" stop-color="#a5d15f"/><stop offset="84.8%" stop-color="#c4d744"/><stop offset="87.9%" stop-color="#e9c930"/><stop offset="90.9%" stop-color="#e58b2b"/><stop offset="93.9%" stop-color="#e4892a"/><stop offset="97.0%" stop-color="#e9c630"/><stop offset="100.0%" stop-color="#c5d742"/></linearGradient>
<linearGradient id="d7"><stop offset="0.0%" stop-color="#384fa5"/><stop offset="3.0%" stop-color="#3e5bb2"/><stop offset="6.1%" stop-color="#4162b9"/><stop offset="9.1%" stop-color="#4163ba"/><stop offset="12.1%" stop-color="#4163ba"/><stop offset="15.2%" stop-color="#4263ba"/><stop offset="18.2%" stop-color="#4263bb"/><stop offset="21.2%" stop-color="#4264bb"/><stop offset="24.2%" stop-color="#4264bb"/><stop offset="27.3%" stop-color="#4265bc"/><stop offset="30.3%" stop-color="#4366bc"/><stop offset="33.3%" stop-color="#4367bd"/><stop offset="36.4%" stop-color="#4469be"/><stop offset="39.4%" stop-color="#466bc0"/><stop offset="42.4%" stop-color="#486fc3"/><stop offset="45.5%" stop-color="#4b75c8"/><stop offset="48.5%" stop-color="#4e7dce"/><stop offset="51.5%" stop-color="#578cd5"/><stop offset="54.5%" stop-color="#619ddb"/><stop offset="57.6%" stop-color="#67a8df"/><stop offset="60.6%" stop-color="#6bafe2"/><stop offset="63.6%" stop-color="#6eb2e1"/><stop offset="66.7%" stop-color="#70b4e0"/><stop offset="69.7%" stop-color="#74b8de"/><stop offset="72.7%" stop-color="#7ec1d9"/><stop offset="75.8%" stop-color="#86c5bb"/><stop offset="78.8%" stop-color="#90ca93"/><stop offset="81.8%" stop-color="#a3d061"/><stop offset="84.8%" stop-color="#c0d647"/><stop offset="87.9%" stop-color="#e8d530"/><stop offset="90.9%" stop-color="#e8a32e"/><stop offset="93.9%" stop-color="#e8a22e"/><stop offset="97.0%" stop-color="#e8d230"/><stop offset="100.0%" stop-color="#c2d746"/></linearGradient>
<linearGradient id="d8"><stop offset="0.0%" stop-color="#384fa5"/><stop offset="3.0%" stop-color="#3e5bb2"/><stop offset="6.1%" stop-color="#4162ba"/><stop offset="9.1%" stop-color="#4163ba"/><stop offset="12.1%" stop-color="#4263ba"/><stop offset="15.2%" stop-color="#4263bb"/><stop offset="18.2%" stop-color="#4264bb"/><stop offset="21.2%" stop-color="#4264bb"/><stop offset="24.2%" stop-color="#4265bc"/><stop offset="27.3%" stop-color="#4366bc"/><stop offset="30.3%" stop-color="#4467bd"/><stop offset="33.3%" stop-color="#4469bf"/><stop offset="36.4%" stop-color="#466cc1"/><stop offset="39.4%" stop-color="#4870c4"/><stop offset="42.4%" stop-color="#4b76c9"/><stop offset="45.5%" stop-color="#4f7ecf"/><stop offset="48.5%" stop-color="#598fd6"/><stop offset="51.5%" stop-color="#629fdc"/><stop offset="54.5%" stop-color="#68aae0"/><stop offset="57.6%" stop-color="#6cb0e2"/><stop offset="60.6%" stop-color="#6eb2e1"/><stop offset="63.6%" stop-color="#71b4e0"/><stop offset="66.7%" stop-color="#74b7de"/><stop offset="69.7%" stop-color="#78bbdc"/><stop offset="72.7%" stop-color="#7fc2d8"/><stop offset="75.8%" stop-color="#85c5bd"/><stop offset="78.8%" stop-color="#8ec998"/><stop offset="81.8%" stop-color="#a1d065"/><stop offset="84.8%" stop-color="#bbd54c"/><stop offset="87.9%" stop-color="#ddd836"/><stop offset="90.9%" stop-color="#e9bc30"/><stop offset="93.9%" stop-color="#e9bb30"/><stop offset="97.0%" stop-color="#dfd835"/><stop offset="100.0%" stop-color="#bcd64a"/></linearGradient>
<linearGradient id="d9"><stop offset="0.0%" stop-color="#384fa5"/><stop offset="3.0%" stop-color="#3e5bb2"/><stop offset="6.1%" stop-color="#4162ba"/><stop offset="9.1%" stop-color="#4263ba"/><stop offset="12.1%" stop-color="#4263bb"/><stop offset="15.2%" stop-color="#4264bb"/><stop offset="18.2%" stop-color="#4264bb"/><stop offset="21.2%" stop-color="#4365bc"/><stop offset="24.2%" stop-color="#4366bc"/><stop offset="27.3%" stop-color="#4467be"/><stop offset="30.3%" stop-color="#4569bf"/><stop offset="33.3%" stop-color="#466dc1"/><stop offset="36.4%" stop-color="#4971c5"/><stop offset="39.4%" stop-color="#4c78ca"/><stop offset="42.4%" stop-color="#5080d0"/><stop offset="45.5%" stop-color="#5b92d7"/><stop offset="48.5%" stop-color="#63a1dc"/><stop offset="51.5%" stop-color="#69abe0"/><stop offset="54.5%" stop-color="#6db1e2"/><stop offset="57.6%" stop-color="#6fb3e0"/><stop offset="60.6%" stop-color="#72b5df"/><stop offset="63.6%" stop-color="#75b8dd"/><stop offset="66.7%" stop-color="#79bcdb"/><stop offset="69.7%" stop-color="#7dbfd9"/><stop offset="72.7%" stop-color="#81c3d4"/><stop offset="75.8%" stop-color="#85c5be"/><stop offset="78.8%" stop-color="#8cc99d"/><stop offset="81.8%" stop-color="#9ecf6d"/><stop offset="84.8%" stop-color="#b5d451"/><stop offset="87.9%" stop-color="#d0d83c"/><stop offset="90.9%" stop-color="#e8d430"/><stop offset="93.9%" stop-color="#e8d330"/><stop offset="97.0%" stop-color="#d2d83b"/><stop offset="100.0%" stop-color="#b6d450"/></linearGradient>
<linearGradient id="d10"><stop offset="0.0%" stop-color="#384fa5"/><stop offset="3.0%" stop-color="#3e5bb2"/><stop offset="6.1%" stop-color="#4162ba"/><stop offset="9.1%" stop-color="#4263ba"/><stop offset="12.1%" stop-color="#4264bb"/><stop offset="15.2%" stop-color="#4264bb"/><stop offset="18.2%" stop-color="#4365bc"/><stop offset="21.2%" stop-color="#4366bd"/><stop offset="24.2%" stop-color="#4468be"/><stop offset="27.3%" stop-color="#456abf"/><stop offset="30.3%" stop-color="#476dc2"/><stop offset="33.3%" stop-color="#4972c6"/><stop offset="36.4%" stop-color="#4d79cb"/><stop offset="39.4%" stop-color="#5283d1"/><stop offset="42.4%" stop-color="#5c95d8"/><stop offset="45.5%" stop-color="#64a3dd"/><stop offset="48.5%" stop-color="#69ace0"/><stop offset="51.5%" stop-color="#6db1e2"/><stop offset="54.5%" stop-color="#70b3e0"/><stop offset="57.6%" stop-color="#73b6de"/><stop offset="60.6%" stop-color="#77badd"/><stop offset="63.6%" stop-color="#7bbddb"/><stop offset="66.7%" stop-color="#7ec1d9"/><stop offset="69.7%" stop-color="#81c2d5"/><stop offset="72.7%" stop-color="#82c3ce"/><stop offset="75.8%" stop-color="#85c5bf"/><stop offset="78.8%" stop-color="#8ac8a4"/><stop offset="81.8%" stop-color="#9bce76"/><stop offset="84.8%" stop-color="#aed257"/><stop offset="87.9%" stop-color="#c5d743"/><stop offset="90.9%" stop-color="#d8d838"/><stop offset="93.9%" stop-color="#d8d838"/><stop offset="97.0%" stop-color="#c5d742"/><stop offset="100.0%" stop-color="#afd356"/></linearGradient>
<linearGradient id="d11"><stop offset="0.0%" stop-color="#384fa5"/><stop offset="3.0%" stop-color="#3e5bb3"/><stop offset="6.1%" stop-color="#4163ba"/><stop offset="9.1%" stop-color="#4264bb"/><stop offset="12.1%" stop-color="#4264bb"/><stop offset="15.2%" stop-color="#4365bc"/><stop offset="18.2%" stop-color="#4366bd"/><stop offset="21.2%" stop-color="#4468be"/><stop offset="24.2%" stop-color="#456ac0"/><stop offset="27.3%" stop-color="#476ec2"/><stop offset="30.3%" stop-color="#4a73c6"/><stop offset="33.3%" stop-color="#4d7acc"/><stop offset="36.4%" stop-color="#5486d2"/><stop offset="39.4%" stop-color="#5e98d9"/><stop offset="42.4%" stop-color="#65a5de"/><stop offset="45.5%" stop-color="#6aade1"/><stop offset="48.5%" stop-color="#6db1e2"/><stop offset="51.5%" stop-color="#70b3e0"/><stop offset="54.5%" stop-color="#74b7de"/><stop offset="57.6%" stop-color="#78bbdc"/><stop offset="60.6%" stop-color="#7cbfda"/><stop offset="63.6%" stop-color="#80c2d8"/><stop offset="66.7%" stop-color="#81c3d2"/><stop offset="69.7%" stop-color="#82c3cd"/><stop offset="72.7%" stop-color="#83c4ca"/><stop offset="75.8%" stop-color="#84c5c1"/><stop offset="78.8%" stop-color="#89c7a9"/><stop offset="81.8%" stop-color="#97cc80"/><stop offset="84.8%" stop-color="#a7d15d"/><stop offset="87.9%" stop-color="#bbd54c"/><stop offset="90.9%" stop-color="#c7d841"/><stop offset="93.9%" stop-color="#c8d840"/><stop offset="97.0%" stop-color="#bcd54b"/><stop offset="100.0%" stop-color="#a8d15c"/></linearGradient>
<linearGradient id="d12"><stop offset="0.0%" stop-color="#384fa5"/><stop offset="3.0%" stop-color="#3e5bb3"/><stop offset="6.1%" stop-color="#4263ba"/><stop offset="9.1%" stop-color="#4264bb"/><stop offset="12.1%" stop-color="#4365bc"/><stop offset="15.2%" stop-color="#4366bd"/><stop offset="18.2%" stop-color="#4468be"/><stop offset="21.2%" stop-color="#456bc0"/><stop offset="24.2%" stop-color="#476fc3"/><stop offset="27.3%" stop-color="#4a74c7"/><stop offset="30.3%" stop-color="#4e7ccd"/><stop offset="33.3%" stop-color="#568ad4"/><stop offset="36.4%" stop-color="#609bda"/><stop offset="39.4%" stop-color="#66a7de"/><stop offset="42.4%" stop-color="#6baee1"/><stop offset="45.5%" stop-color="#6db1e1"/><stop offset="48.5%" stop-color="#70b4e0"/><stop offset="51.5%" stop-color="#74b8de"/><stop offset="54.5%" stop-color="#79bcdb"/><stop offset="57.6%" stop-color="#7ec0d9"/><stop offset="60.6%" stop-color="#80c2d5"/><stop offset="63.6%" stop-color="#82c3cf"/><stop offset="66.7%" stop-color="#82c3cb"/><stop offset="69.7%" stop-color="#83c4c9"/><stop offset="72.7%" stop-color="#83c4c9"/><stop offset="75.8%" stop-color="#84c4c3"/><stop offset="78.8%" stop-color="#88c7af"/><stop offset="81.8%" stop-color="#93cb8c"/><stop offset="84.8%" stop-color="#a1d065"/><stop offset="87.9%" stop-color="#b0d355"/><stop offset="90.9%" stop-color="#bcd54b"/><stop offset="93.9%" stop-color="#bcd54b"/><stop offset="97.0%" stop-color="#b1d354"/><stop offset="100.0%" stop-color="#a1d063"/></linearGradient>
<linearGradient id="d13"><stop offset="0.0%" stop-color="#384fa5"/><stop offset="3.0%" stop-color="#3e5bb3"/><stop offset="6.1%" stop-color="#4264bb"/><stop offset="9.1%" stop-color="#4265bc"/><stop offset="12.1%" stop-color="#4366bd"/><stop offset="15.2%" stop-color="#4468be"/><stop offset="18.2%" stop-color="#466bc1"/><stop offset="21.2%" stop-color="#4870c4"/><stop offset="24.2%" stop-color="#4b76c8"/><stop offset="27.3%" stop-color="#4f7ece"/><stop offset="30.3%" stop-color="#588dd5"/><stop offset="33.3%" stop-color="#619edb"/><stop offset="36.4%" stop-color="#68a8df"/><stop offset="39.4%" stop-color="#6bafe2"/><stop offset="42.4%" stop-color="#6eb1e1"/><stop offset="45.5%" stop-color="#71b4e0"/><stop offset="48.5%" stop-color="#75b8de"/><stop offset="51.5%" stop-color="#7abddb"/><stop offset="54.5%" stop-color="#7fc1d9"/><stop offset="57.6%" stop-color="#81c3d3"/><stop offset="60.6%" stop-color="#82c3ce"/><stop offset="63.6%" stop-color="#83c4ca"/><stop offset="66.7%" stop-color="#83c4c8"/><stop offset="69.7%" stop-color="#83c4c8"/><stop offset="72.7%" stop-color="#83c4c9"/><stop offset="75.8%" stop-color="#83c4c6"/><stop offset="78.8%" stop-color="#87c6b5"/><stop offset="81.8%" stop-color="#8ec998"/><stop offset="84.8%" stop-color="#9cce74"/><stop offset="87.9%" stop-color="#a7d15d"/><stop offset="90.9%" stop-color="#b0d356"/><stop offset="93.9%" stop-color="#b0d355"/><stop offset="97.0%" stop-color="#a8d15d"/><stop offset="100.0%" stop-color="#9cce72"/></linearGradient>
<linearGradient id="d14"><stop offset="0.0%" stop-color="#384fa6"/><stop offset="3.0%" stop-color="#3e5cb3"/><stop offset="6.1%" stop-color="#4264bb"/><stop offset="9.1%" stop-color="#4366bc"/><stop offset="12.1%" stop-color="#4468be"/><stop offset="15.2%" stop-color="#466bc1"/><stop offset="18.2%" stop-color="#4871c4"/><stop offset="21.2%" stop-color="#4b77c9"/><stop offset="24.2%" stop-color="#507fcf"/><stop offset="27.3%" stop-color="#5a91d6"/><stop offset="30.3%" stop-color="#63a0dc"/><stop offset="33.3%" stop-color="#69aae0"/><stop offset="36.4%" stop-color="#6cb0e2"/><stop offset="39.4%" stop-color="#6eb2e1"/><stop offset="42.4%" stop-color="#71b5df"/><stop offset="45.5%" stop-color="#76b9dd"/><stop offset="48.5%" stop-color="#7abddb"/><stop offset="51.5%" stop-color="#7fc1d9"/><stop offset="54.5%" stop-color="#81c3d2"/><stop offset="57.6%" stop-color="#82c3cd"/><stop offset="60.6%" stop-color="#83c4c9"/><stop offset="63.6%" stop-color="#83c4c8"/><stop offset="66.7%" stop-color="#83c4c7"/><stop offset="69.7%" stop-color="#83c4c8"/><stop offset="72.7%" stop-color="#83c4c9"/><stop offset="75.8%" stop-color="#83c4c8"/><stop offset="78.8%" stop-color="#85c5bc"/><stop offset="81.8%" stop-color="#8ac8a5"/><stop offset="84.8%" stop-color="#96cc83"/><stop offset="87.9%" stop-color="#a0cf69"/><stop offset="90.9%" stop-color="#a6d15e"/><stop offset="93.9%" stop-color="#a6d15e"/><stop offset="97.0%" stop-color="#a0cf68"/><stop offset="100.0%" stop-color="#97cc82"/></linearGradient>
<linearGradient id="d15"><stop offset="0.0%" stop-color="#384fa6"/><stop offset="3.0%" stop-color="#3e5cb4"/><stop offset="6.1%" stop-color="#4365bc"/><stop offset="9.1%" stop-color="#4468be"/><stop offset="12.1%" stop-color="#456bc0"/><stop offset="15.2%" stop-color="#4870c4"/><stop offset="18.2%" stop-color="#4c78ca"/><stop offset="21.2%" stop-color="#5182d1"/><stop offset="24.2%" stop-color="#5c94d8"/><stop offset="27.3%" stop-color="#64a3dd"/><stop offset="30.3%" stop-color="#6aace0"/><stop offset="33.3%" stop-color="#6db0e2"/><stop offset="36.4%" stop-color="#6fb2e1"/><stop offset="39.4%" stop-color="#72b5df"/><stop offset="42.4%" stop-color="#76b9dd"/><stop offset="45.5%" stop-color="#7bbddb"/><stop offset="48.5%" stop-color="#7fc1d8"/><stop offset="51.5%" stop-color="#81c3d2"/><stop offset="54.5%" stop-color="#82c3cd"/><stop offset="57.6%" stop-color="#83c4c9"/><stop offset="60.6%" stop-color="#83c4c8"/><stop offset="63.6%" stop-color="#83c4c7"/><stop offset="66.7%" stop-color="#83c4c7"/><stop offset="69.7%" stop-color="#83c4c8"/><stop offset="72.7%" stop-color="#83c4ca"/><stop offset="75.8%" stop-color="#83c4cb"/><stop offset="78.8%" stop-color="#84c5c2"/><stop offset="81.8%" stop-color="#88c7ae"/><stop offset="84.8%" stop-color="#90ca93"/><stop offset="87.9%" stop-color="#99cd7a"/><stop offset="90.9%" stop-color="#9ecf6d"/><stop offset="93.9%" stop-color="#9ecf6d"/><stop offset="97.0%" stop-color="#99cd7a"/><stop offset="100.0%" stop-color="#91ca92"/></linearGradient>
<linearGradient id="d16"><stop offset="0.0%" stop-color="#3950a6"/><stop offset="3.0%" stop-color="#3f5db5"/><stop offset="6.1%" stop-color="#4367bd"/><stop offset="9.1%" stop-color="#456ac0"/><stop offset="12.1%" stop-color="#486fc4"/><stop offset="15.2%" stop-color="#4c78ca"/><stop offset="18.2%" stop-color="#5385d2"/><stop offset="21.2%" stop-color="#5e97d9"/><stop offset="24.2%" stop-color="#66a5de"/><stop offset="27.3%" stop-color="#6baee1"/><stop offset="30.3%" stop-color="#6db1e1"/><stop offset="33.3%" stop-color="#6fb3e0"/><stop offset="36.4%" stop-color="#73b6df"/><stop offset="39.4%" stop-color="#77badc"/><stop offset="42.4%" stop-color="#7cbeda"/><stop offset="45.5%" stop-color="#7fc1d8"/><stop offset="48.5%" stop-color="#81c3d2"/><stop offset="51.5%" stop-color="#82c3cd"/><stop offset="54.5%" stop-color="#83c4ca"/><stop offset="57.6%" stop-color="#83c4c8"/><stop offset="60.6%" stop-color="#83c4c7"/><stop offset="63.6%" stop-color="#83c4c7"/><stop offset="66.7%" stop-color="#83c4c7"/><stop offset="69.7%" stop-color="#83c4c9"/><stop offset="72.7%" stop-color="#82c3cb"/><stop offset="75.8%" stop-color="#82c3cd"/><stop offset="78.8%" stop-color="#83c4c7"/><stop offset="81.8%" stop-color="#86c6b7"/><stop offset="84.8%" stop-color="#8ac8a3"/><stop offset="87.9%" stop-color="#93cb8c"/><stop offset="90.9%" stop-color="#97cc80"/><stop offset="93.9%" stop-color="#97cc80"/><stop offset="97.0%" stop-color="#93cb8c"/><stop offset="100.0%" stop-color="#8bc8a2"/></linearGradient>
<linearGradient id="d17"><stop offset="0.0%" stop-color="#3950a7"/><stop offset="3.0%" stop-color="#3f5eb6"/><stop offset="6.1%" stop-color="#4569bf"/><stop offset="9.1%" stop-color="#476ec3"/><stop offset="12.1%" stop-color="#4b77c9"/><stop offset="15.2%" stop-color="#5384d2"/><stop offset="18.2%" stop-color="#609bda"/><stop offset="21.2%" stop-color="#67a8df"/><stop offset="24.2%" stop-color="#6cafe2"/><stop offset="27.3%" stop-color="#6eb2e1"/><stop offset="30.3%" stop-color="#70b4e0"/><stop offset="33.3%" stop-color="#74b7de"/><stop offset="36.4%" stop-color="#78bbdc"/><stop offset="39.4%" stop-color="#7cbfda"/><stop offset="42.4%" stop-color="#80c2d8"/><stop offset="45.5%" stop-color="#81c3d2"/><stop offset="48.5%" stop-color="#82c3ce"/><stop offset="51.5%" stop-color="#83c4cb"/><stop offset="54.5%" stop-color="#83c4c8"/><stop offset="57.6%" stop-color="#83c4c7"/><stop offset="60.6%" stop-color="#83c4c6"/><stop offset="63.6%" stop-color="#83c4c7"/><stop offset="66.7%" stop-color="#83c4c8"/><stop offset="69.7%" stop-color="#83c4ca"/><stop offset="72.7%" stop-color="#82c3cc"/><stop offset="75.8%" stop-color="#82c3cf"/><stop offset="78.8%" stop-color="#82c3cc"/><stop offset="81.8%" stop-color="#85c5c0"/><stop offset="84.8%" stop-color="#88c7ae"/><stop offset="87.9%" stop-color="#8cc99e"/><stop offset="90.9%" stop-color="#90ca93"/><stop offset="93.9%" stop-color="#90ca93"/><stop offset="97.0%" stop-color="#8cc99e"/><stop offset="100.0%" stop-color="#88c7ae"/></linearGradient>
<linearGradient id="d18"><stop offset="0.0%" stop-color="#3951a7"/><stop offset="3.0%" stop-color="#4060b8"/><stop offset="6.1%" stop-color="#476dc2"/><stop offset="9.1%" stop-color="#4b75c8"/><stop offset="12.1%" stop-color="#5181d0"/><stop offset="15.2%" stop-color="#5f9ada"/><stop offset="18.2%" stop-color="#68aae0"/><stop offset="21.2%" stop-color="#6cb0e2"/><stop offset="24.2%" stop-color="#6eb2e1"/><stop offset="27.3%" stop-color="#71b4e0"/><stop offset="30.3%" stop-color="#75b8de"/><stop offset="33.3%" stop-color="#79bcdc"/><stop offset="36.4%" stop-color="#7dbfda"/><stop offset="39.4%" stop-color="#80c2d8"/><stop offset="42.4%" stop-color="#81c3d2"/><stop offset="45.5%" stop-color="#82c3ce"/><stop offset="48.5%" stop-color="#82c3cb"/><stop offset="51.5%" stop-color="#83c4c9"/><stop offset="54.5%" stop-color="#83c4c8"/><stop offset="57.6%" stop-color="#83c4c7"/><stop offset="60.6%" stop-color="#83c4c6"/><stop offset="63.6%" stop-color="#83c4c7"/><stop offset="66.7%" stop-color="#83c4c9"/><stop offset="69.7%" stop-color="#83c4cb"/><stop offset="72.7%" stop-color="#82c3cd"/><stop offset="75.8%" stop-color="#81c3d0"/><stop offset="78.8%" stop-color="#81c3d1"/><stop offset="81.8%" stop-color="#83c4c8"/><stop offset="84.8%" stop-color="#86c6b9"/><stop offset="87.9%" stop-color="#88c7ad"/><stop offset="90.9%" stop-color="#8ac8a5"/><stop offset="93.9%" stop-color="#8ac8a5"/><stop offset="97.0%" stop-color="#88c7ac"/><stop offset="100.0%" stop-color="#86c6b9"/></linearGradient>
<linearGradient id="d19"><stop offset="0.0%" stop-color="#3952a8"/><stop offset="3.0%" stop-color="#4162ba"/><stop offset="6.1%" stop-color="#4a73c7"/><stop offset="9.1%" stop-color="#4f7fcf"/><stop offset="12.1%" stop-color="#5d97d9"/><stop offset="15.2%" stop-color="#68a9e0"/><stop offset="18.2%" stop-color="#6db1e2"/><stop offset="21.2%" stop-color="#6fb3e1"/><stop offset="24.2%" stop-color="#72b5df"/><stop offset="27.3%" stop-color="#76b9dd"/><stop offset="30.3%" stop-color="#7abcdb"/><stop offset="33.3%" stop-color="#7ec0d9"/><stop offset="36.4%" stop-color="#80c2d6"/><stop offset="39.4%" stop-color="#81c3d1"/><stop offset="42.4%" stop-color="#82c3ce"/><stop offset="45.5%" stop-color="#82c3cc"/><stop offset="48.5%" stop-color="#83c4ca"/><stop offset="51.5%" stop-color="#83c4c9"/><stop offset="54.5%" stop-color="#83c4c7"/><stop offset="57.6%" stop-color="#83c4c6"/><stop offset="60.6%" stop-color="#83c4c7"/><stop offset="63.6%" stop-color="#83c4c8"/><stop offset="66.7%" stop-color="#83c4c9"/><stop offset="69.7%" stop-color="#82c3cc"/><stop offset="72.7%" stop-color="#82c3cf"/><stop offset="75.8%" stop-color="#81c3d2"/><stop offset="78.8%" stop-color="#81c2d5"/><stop offset="81.8%" stop-color="#81c3d0"/><stop offset="84.8%" stop-color="#84c4c4"/><stop offset="87.9%" stop-color="#86c6b9"/><stop offset="90.9%" stop-color="#87c6b2"/><stop offset="93.9%" stop-color="#87c6b2"/><stop offset="97.0%" stop-color="#86c6b9"/><stop offset="100.0%" stop-color="#84c4c5"/></linearGradient>
<linearGradient id="d20"><stop offset="0.0%" stop-color="#3a53aa"/><stop offset="3.0%" stop-color="#4366bd"/><stop offset="6.1%" stop-color="#4e7dcd"/><stop offset="9.1%" stop-color="#5b93d7"/><stop offset="12.1%" stop-color="#67a8df"/><stop offset="15.2%" stop-color="#6db1e2"/><stop offset="18.2%" stop-color="#70b3e0"/><stop offset="21.2%" stop-color="#73b6df"/><stop offset="24.2%" stop-color="#77badd"/><stop offset="27.3%" stop-color="#7bbddb"/><stop offset="30.3%" stop-color="#7fc1d9"/><stop offset="33.3%" stop-color="#81c2d5"/><stop offset="36.4%" stop-color="#81c3d1"/><stop offset="39.4%" stop-color="#82c3ce"/><stop offset="42.4%" stop-color="#82c3cc"/><stop offset="45.5%" stop-color="#83c4cb"/><stop offset="48.5%" stop-color="#83c4c9"/><stop offset="51.5%" stop-color="#83c4c8"/><stop offset="54.5%" stop-color="#83c4c7"/><stop offset="57.6%" stop-color="#83c4c6"/><stop offset="60.6%" stop-color="#83c4c7"/><stop offset="63.6%" stop-color="#83c4c8"/><stop offset="66.7%" stop-color="#83c4ca"/><stop offset="69.7%" stop-color="#82c3cd"/><stop offset="72.7%" stop-color="#82c3d0"/><stop offset="75.8%" stop-color="#81c2d4"/><stop offset="78.8%" stop-color="#80c2d8"/><stop offset="81.8%" stop-color="#80c2d8"/><stop offset="84.8%" stop-color="#82c3cf"/><stop offset="87.9%" stop-color="#84c4c5"/><stop offset="90.9%" stop-color="#85c5bf"/><stop offset="93.9%" stop-color="#85c5bf"/><stop offset="97.0%" stop-color="#84c4c5"/><stop offset="100.0%" stop-color="#81c3d1"/></linearGradient>
<linearGradient id="d21"><stop offset="0.0%" stop-color="#3b55ac"/><stop offset="3.0%" stop-color="#466cc1"/><stop offset="6.1%" stop-color="#598fd6"/><stop offset="9.1%" stop-color="#66a5de"/><stop offset="12.1%" stop-color="#6cb0e2"/><stop offset="15.2%" stop-color="#70b3e0"/><stop offset="18.2%" stop-color="#73b7de"/><stop offset="21.2%" stop-color="#78badc"/><stop offset="24.2%" stop-color="#7cbeda"/><stop offset="27.3%" stop-color="#7fc1d8"/><stop offset="30.3%" stop-color="#81c3d3"/><stop offset="33.3%" stop-color="#82c3d0"/><stop offset="36.4%" stop-color="#82c3ce"/><stop offset="39.4%" stop-color="#82c3cd"/><stop offset="42.4%" stop-color="#82c3cc"/><stop offset="45.5%" stop-color="#83c4ca"/><stop offset="48.5%" stop-color="#83c4c9"/><stop offset="51.5%" stop-color="#83c4c7"/><stop offset="54.5%" stop-color="#83c4c7"/><stop offset="57.6%" stop-color="#83c4c6"/><stop offset="60.6%" stop-color="#83c4c7"/><stop offset="63.6%" stop-color="#83c4c9"/><stop offset="66.7%" stop-color="#83c4cb"/><stop offset="69.7%" stop-color="#82c3ce"/><stop offset="72.7%" stop-color="#81c3d1"/><stop offset="75.8%" stop-color="#80c2d6"/><stop offset="78.8%" stop-color="#7fc1d9"/><stop offset="81.8%" stop-color="#7dc0d9"/><stop offset="84.8%" stop-color="#7fc2d8"/><stop offset="87.9%" stop-color="#81c3d1"/><stop offset="90.9%" stop-color="#82c3cc"/><stop offset="93.9%" stop-color="#82c3cc"/><stop offset="97.0%" stop-color="#81c3d2"/><stop offset="100.0%" stop-color="#7ec0d9"/></linearGradient>
<linearGradient id="d22"><stop offset="0.0%" stop-color="#3d58b0"/><stop offset="3.0%" stop-color="#4b75c8"/><stop offset="6.1%" stop-color="#64a2dd"/><stop offset="9.1%" stop-color="#6cb0e2"/><stop offset="12.1%" stop-color="#6fb3e0"/><stop offset="15.2%" stop-color="#73b7de"/><stop offset="18.2%" stop-color="#79bbdc"/><stop offset="21.2%" stop-color="#7dbfda"/><stop offset="24.2%" stop-color="#80c2d8"/><stop offset="27.3%" stop-color="#81c3d2"/><stop offset="30.3%" stop-color="#82c3cf"/><stop offset="33.3%" stop-color="#82c3cd"/><stop offset="36.4%" stop-color="#82c3cd"/><stop offset="39.4%" stop-color="#82c3cc"/><stop offset="42.4%" stop-color="#83c4cb"/><stop offset="45.5%" stop-color="#83c4ca"/><stop offset="48.5%" stop-color="#83c4c8"/><stop offset="51.5%" stop-color="#83c4c7"/><stop offset="54.5%" stop-color="#83c4c6"/><stop offset="57.6%" stop-color="#83c4c7"/><stop offset="60.6%" stop-color="#83c4c8"/><stop offset="63.6%" stop-color="#83c4c9"/><stop offset="66.7%" stop-color="#82c3cc"/><stop offset="69.7%" stop-color="#82c3cf"/><stop offset="72.7%" stop-color="#81c3d3"/><stop offset="75.8%" stop-color="#80c2d8"/><stop offset="78.8%" stop-color="#7ec0d9"/><stop offset="81.8%" stop-color="#7bbeda"/><stop offset="84.8%" stop-color="#7cbeda"/><stop offset="87.9%" stop-color="#7ec0d9"/><stop offset="90.9%" stop-color="#80c2d8"/><stop offset="93.9%" stop-color="#80c2d8"/><stop offset="97.0%" stop-color="#7ec0d9"/><stop offset="100.0%" stop-color="#79bcdc"/></linearGradient>
<linearGradient id="d23"><stop offset="0.0%" stop-color="#3f5eb6"/><stop offset="3.0%" stop-color="#5080d0"/><stop offset="6.1%" stop-color="#6aade1"/><stop offset="9.1%" stop-color="#6fb2e1"/><stop offset="12.1%" stop-color="#73b6df"/><stop offset="15.2%" stop-color="#79bbdc"/><stop offset="18.2%" stop-color="#7ec0d9"/><stop offset="21.2%" stop-color="#80c2d6"/><stop offset="24.2%" stop-color="#81c3d1"/><stop offset="27.3%" stop-color="#82c3ce"/><stop offset="30.3%" stop-color="#82c3cd"/><stop offset="33.3%" stop-color="#82c3cc"/><stop offset="36.4%" stop-color="#82c3cc"/><stop offset="39.4%" stop-color="#82c3cb"/><stop offset="42.4%" stop-color="#83c4ca"/><stop offset="45.5%" stop-color="#83c4c9"/><stop offset="48.5%" stop-color="#83c4c8"/><stop offset="51.5%" stop-color="#83c4c7"/><stop offset="54.5%" stop-color="#83c4c6"/><stop offset="57.6%" stop-color="#83c4c7"/><stop offset="60.6%" stop-color="#83c4c8"/><stop offset="63.6%" stop-color="#83c4ca"/><stop offset="66.7%" stop-color="#82c3cd"/><stop offset="69.7%" stop-color="#81c3d0"/><stop offset="72.7%" stop-color="#81c2d5"/><stop offset="75.8%" stop-color="#7fc1d8"/><stop offset="78.8%" stop-color="#7cbfda"/><stop offset="81.8%" stop-color="#79bcdb"/><stop offset="84.8%" stop-color="#78bbdc"/><stop offset="87.9%" stop-color="#79bcdb"/><stop offset="90.9%" stop-color="#7bbddb"/><stop offset="93.9%" stop-color="#7bbddb"/><stop offset="97.0%" stop-color="#78bbdc"/><stop offset="100.0%" stop-color="#74b7de"/></linearGradient>
<linearGradient id="d24"><stop offset="0.0%" stop-color="#4366bc"/><stop offset="3.0%" stop-color="#5b94d7"/><stop offset="6.1%" stop-color="#6eb2e1"/><stop offset="9.1%" stop-color="#72b5df"/><stop offset="12.1%" stop-color="#78bbdc"/><stop offset="15.2%" stop-color="#7ec0d9"/><stop offset="18.2%" stop-color="#81c2d4"/><stop offset="21.2%" stop-color="#82c3cf"/><stop offset="24.2%" stop-color="#82c3cd"/><stop offset="27.3%" stop-color="#82c3cc"/><stop offset="30.3%" stop-color="#82c3cc"/><stop offset="33.3%" stop-color="#82c3cc"/><stop offset="36.4%" stop-color="#82c3cc"/><stop offset="39.4%" stop-color="#83c4cb"/><stop offset="42.4%" stop-color="#83c4ca"/><stop offset="45.5%" stop-color="#83c4c8"/><stop offset="48.5%" stop-color="#83c4c7"/><stop offset="51.5%" stop-color="#83c4c6"/><stop offset="54.5%" stop-color="#83c4c6"/><stop offset="57.6%" stop-color="#83c4c7"/><stop offset="60.6%" stop-color="#83c4c9"/><stop offset="63.6%" stop-color="#82c3cb"/><stop offset="66.7%" stop-color="#82c3ce"/><stop offset="69.7%" stop-color="#81c3d2"/><stop offset="72.7%" stop-color="#80c2d6"/><stop offset="75.8%" stop-color="#7ec0d9"/><stop offset="78.8%" stop-color="#7bbeda"/><stop offset="81.8%" stop-color="#78badc"/><stop offset="84.8%" stop-color="#75b8dd"/><stop offset="87.9%" stop-color="#75b8dd"/><stop offset="90.9%" stop-color="#76b9dd"/><stop offset="93.9%" stop-color="#76b9dd"/><stop offset="97.0%" stop-color="#73b6df"/><stop offset="100.0%" stop-color="#6eb2e1"/></linearGradient>
<linearGradient id="d25"><stop offset="0.0%" stop-color="#4870c4"/><stop offset="3.0%" stop-color="#629fdc"/><stop offset="6.1%" stop-color="#71b4e0"/><stop offset="9.1%" stop-color="#77badd"/><stop offset="12.1%" stop-color="#7dbfda"/><stop offset="15.2%" stop-color="#81c2d4"/><stop offset="18.2%" stop-color="#82c3ce"/><stop offset="21.2%" stop-color="#82c3cc"/><stop offset="24.2%" stop-color="#82c3cb"/><stop offset="27.3%" stop-color="#82c3cb"/><stop offset="30.3%" stop-color="#82c3cc"/><stop offset="33.3%" stop-color="#82c3cc"/><stop offset="36.4%" stop-color="#82c3cb"/><stop offset="39.4%" stop-color="#83c4ca"/><stop offset="42.4%" stop-color="#83c4c9"/><stop offset="45.5%" stop-color="#83c4c8"/><stop offset="48.5%" stop-color="#83c4c7"/><stop offset="51.5%" stop-color="#83c4c6"/><stop offset="54.5%" stop-color="#83c4c7"/><stop offset="57.6%" stop-color="#83c4c8"/><stop offset="60.6%" stop-color="#83c4ca"/><stop offset="63.6%" stop-color="#82c3cc"/><stop offset="66.7%" stop-color="#82c3cf"/><stop offset="69.7%" stop-color="#81c3d3"/><stop offset="72.7%" stop-color="#80c2d8"/><stop offset="75.8%" stop-color="#7dbfd9"/><stop offset="78.8%" stop-color="#7abcdb"/><stop offset="81.8%" stop-color="#76b9dd"/><stop offset="84.8%" stop-color="#73b7de"/><stop offset="87.9%" stop-color="#72b6df"/><stop offset="90.9%" stop-color="#72b6df"/><stop offset="93.9%" stop-color="#71b5df"/><stop offset="97.0%" stop-color="#6db1e1"/><stop offset="100.0%" stop-color="#67a7df"/></linearGradient>
<linearGradient id="d26"><stop offset="0.0%" stop-color="#4d7bcc"/><stop offset="3.0%" stop-color="#66a7de"/><stop offset="6.1%" stop-color="#76b9dd"/><stop offset="9.1%" stop-color="#7cbfda"/><stop offset="12.1%" stop-color="#81c2d5"/><stop offset="15.2%" stop-color="#82c3ce"/><stop offset="18.2%" stop-color="#82c3cb"/><stop offset="21.2%" stop-color="#83c4cb"/><stop offset="24.2%" stop-color="#83c4cb"/><stop offset="27.3%" stop-color="#82c3cb"/><stop offset="30.3%" stop-color="#82c3cb"/><stop offset="33.3%" stop-color="#82c3cb"/><stop offset="36.4%" stop-color="#83c4cb"/><stop offset="39.4%" stop-color="#83c4ca"/><stop offset="42.4%" stop-color="#83c4c9"/><stop offset="45.5%" stop-color="#83c4c7"/><stop offset="48.5%" stop-color="#83c4c6"/><stop offset="51.5%" stop-color="#83c4c6"/><stop offset="54.5%" stop-color="#83c4c7"/><stop offset="57.6%" stop-color="#83c4c8"/><stop offset="60.6%" stop-color="#83c4cb"/><stop offset="63.6%" stop-color="#82c3cd"/><stop offset="66.7%" stop-color="#81c3d1"/><stop offset="69.7%" stop-color="#81c2d5"/><stop offset="72.7%" stop-color="#7fc1d9"/><stop offset="75.8%" stop-color="#7cbeda"/><stop offset="78.8%" stop-color="#78bbdc"/><stop offset="81.8%" stop-color="#75b8de"/><stop offset="84.8%" stop-color="#72b5df"/><stop offset="87.9%" stop-color="#70b4e0"/><stop offset="90.9%" stop-color="#6fb3e0"/><stop offset="93.9%" stop-color="#6eb2e1"/><stop offset="97.0%" stop-color="#65a5de"/><stop offset="100.0%" stop-color="#5e98d9"/></linearGradient>
<linearGradient id="d27"><stop offset="0.0%" stop-color="#5385d2"/><stop offset="3.0%" stop-color="#6cafe2"/><stop offset="6.1%" stop-color="#7bbddb"/><stop offset="9.1%" stop-color="#80c2d7"/><stop offset="12.1%" stop-color="#82c3ce"/><stop offset="15.2%" stop-color="#83c4cb"/><stop offset="18.2%" stop-color="#83c4ca"/><stop offset="21.2%" stop-color="#83c4ca"/><stop offset="24.2%" stop-color="#83c4cb"/><stop offset="27.3%" stop-color="#82c3cb"/><stop offset="30.3%" stop-color="#82c3cb"/><stop offset="33.3%" stop-color="#83c4cb"/><stop offset="36.4%" stop-color="#83c4ca"/><stop offset="39.4%" stop-color="#83c4c9"/><stop offset="42.4%" stop-color="#83c4c8"/><stop offset="45.5%" stop-color="#83c4c7"/><stop offset="48.5%" stop-color="#83c4c6"/><stop offset="51.5%" stop-color="#83c4c6"/><stop offset="54.5%" stop-color="#83c4c7"/><stop offset="57.6%" stop-color="#83c4c9"/><stop offset="60.6%" stop-color="#82c3cc"/><stop offset="63.6%" stop-color="#82c3ce"/><stop offset="66.7%" stop-color="#81c3d2"/><stop offset="69.7%" stop-color="#80c2d7"/><stop offset="72.7%" stop-color="#7ec0d9"/><stop offset="75.8%" stop-color="#7bbddb"/><stop offset="78.8%" stop-color="#77badd"/><stop offset="81.8%" stop-color="#73b7de"/><stop offset="84.8%" stop-color="#71b4e0"/><stop offset="87.9%" stop-color="#6fb2e1"/><stop offset="90.9%" stop-color="#6eb2e1"/><stop offset="93.9%" stop-color="#6cb0e2"/><stop offset="97.0%" stop-color="#5e98d9"/><stop offset="100.0%" stop-color="#5589d3"/></linearGradient>
<linearGradient id="d28"><stop offset="0.0%" stop-color="#598fd6"/><stop offset="3.0%" stop-color="#70b4e0"/><stop offset="6.1%" stop-color="#7fc1d8"/><stop offset="9.1%" stop-color="#82c3cf"/><stop offset="12.1%" stop-color="#82c3cb"/><stop offset="15.2%" stop-color="#83c4ca"/><stop offset="18.2%" stop-color="#83c4ca"/><stop offset="21.2%" stop-color="#83c4ca"/><stop offset="24.2%" stop-color="#83c4ca"/><stop offset="27.3%" stop-color="#83c4cb"/><stop offset="30.3%" stop-color="#83c4cb"/><stop offset="33.3%" stop-color="#83c4cb"/><stop offset="36.4%" stop-color="#83c4ca"/><stop offset="39.4%" stop-color="#83c4c9"/><stop offset="42.4%" stop-color="#83c4c8"/><stop offset="45.5%" stop-color="#83c4c7"/><stop offset="48.5%" stop-color="#83c4c6"/><stop offset="51.5%" stop-color="#83c4c7"/><stop offset="54.5%" stop-color="#83c4c8"/><stop offset="57.6%" stop-color="#83c4ca"/><stop offset="60.6%" stop-color="#82c3cd"/><stop offset="63.6%" stop-color="#82c3d0"/><stop offset="66.7%" stop-color="#81c2d4"/><stop offset="69.7%" stop-color="#80c2d8"/><stop offset="72.7%" stop-color="#7dbfda"/><stop offset="75.8%" stop-color="#79bcdb"/><stop offset="78.8%" stop-color="#76b9dd"/><stop offset="81.8%" stop-color="#72b6df"/><stop offset="84.8%" stop-color="#70b3e0"/><stop offset="87.9%" stop-color="#6eb2e1"/><stop offset="90.9%" stop-color="#6db1e2"/><stop offset="93.9%" stop-color="#6aade1"/><stop offset="97.0%" stop-color="#588ed5"/><stop offset="100.0%" stop-color="#4e7ccd"/></linearGradient>
<linearGradient id="d29"><stop offset="0.0%" stop-color="#5f9ada"/><stop offset="3.0%" stop-color="#76b9dd"/><stop offset="6.1%" stop-color="#81c3d2"/><stop offset="9.1%" stop-color="#82c3cc"/><stop offset="12.1%" stop-color="#83c4ca"/><stop offset="15.2%" stop-color="#83c4c9"/><stop offset="18.2%" stop-color="#83c4ca"/><stop offset="21.2%" stop-color="#83c4ca"/><stop offset="24.2%" stop-color="#83c4ca"/><stop offset="27.3%" stop-color="#83c4cb"/><stop offset="30.3%" stop-color="#83c4cb"/><stop offset="33.3%" stop-color="#83c4ca"/><stop offset="36.4%" stop-color="#83c4c9"/><stop offset="39.4%" stop-color="#83c4c8"/><stop offset="42.4%" stop-color="#83c4c7"/><stop offset="45.5%" stop-color="#83c4c6"/><stop offset="48.5%" stop-color="#83c4c6"/><stop offset="51.5%" stop-color="#83c4c7"/><stop offset="54.5%" stop-color="#83c4c9"/><stop offset="57.6%" stop-color="#83c4cb"/><stop offset="60.6%" stop-color="#82c3ce"/><stop offset="63.6%" stop-color="#81c3d1"/><stop offset="66.7%" stop-color="#80c2d6"/><stop offset="69.7%" stop-color="#7fc1d9"/><stop offset="72.7%" stop-color="#7cbeda"/><stop offset="75.8%" stop-color="#78bbdc"/><stop offset="78.8%" stop-color="#74b7de"/><stop offset="81.8%" stop-color="#71b5df"/><stop offset="84.8%" stop-color="#6fb2e1"/><stop offset="87.9%" stop-color="#6db1e1"/><stop offset="90.9%" stop-color="#6cb0e2"/><stop offset="93.9%" stop-color="#6aace0"/><stop offset="97.0%" stop-color="#5488d3"/><stop offset="100.0%" stop-color="#4a75c8"/></linearGradient>
<linearGradient id="d30"><stop offset="0.0%" stop-color="#68a9df"/><stop offset="3.0%" stop-color="#7bbddb"/><stop offset="6.1%" stop-color="#82c3cd"/><stop offset="9.1%" stop-color="#83c4ca"/><stop offset="12.1%" stop-color="#83c4c9"/><stop offset="15.2%" stop-color="#83c4c9"/><stop offset="18.2%" stop-color="#83c4ca"/><stop offset="21.2%" stop-color="#83c4ca"/><stop offset="24.2%" stop-color="#83c4ca"/><stop offset="27.3%" stop-color="#83c4ca"/><stop offset="30.3%" stop-color="#83c4ca"/><stop offset="33.3%" stop-color="#83c4ca"/><stop offset="36.4%" stop-color="#83c4c9"/><stop offset="39.4%" stop-color="#83c4c8"/><stop offset="42.4%" stop-color="#83c4c7"/><stop offset="45.5%" stop-color="#83c4c6"/><stop offset="48.5%" stop-color="#83c4c6"/><stop offset="51.5%" stop-color="#83c4c7"/><stop offset="54.5%" stop-color="#83c4c9"/><stop offset="57.6%" stop-color="#82c3cc"/><stop offset="60.6%" stop-color="#82c3cf"/><stop offset="63.6%" stop-color="#81c3d3"/><stop offset="66.7%" stop-color="#80c2d8"/><stop offset="69.7%" stop-color="#7ec0d9"/><stop offset="72.7%" stop-color="#7abddb"/><stop offset="75.8%" stop-color="#77b9dd"/><stop offset="78.8%" stop-color="#73b6df"/><stop offset="81.8%" stop-color="#70b4e0"/><stop offset="84.8%" stop-color="#6eb2e1"/><stop offset="87.9%" stop-color="#6db1e2"/><stop offset="90.9%" stop-color="#6cb0e2"/><stop offset="93.9%" stop-color="#69abe0"/><stop offset="97.0%" stop-color="#5385d2"/><stop offset="100.0%" stop-color="#486fc3"/></linearGradient>
<linearGradient id="d31"><stop offset="0.0%" stop-color="#70b4e0"/><stop offset="3.0%" stop-color="#7ec0d9"/><stop offset="6.1%" stop-color="#83c4cb"/><stop offset="9.1%" stop-color="#83c4c9"/><stop offset="12.1%" stop-color="#83c4c9"/><stop offset="15.2%" stop-color="#83c4c9"/><stop offset="18.2%" stop-color="#83c4c9"/><stop offset="21.2%" stop-color="#83c4ca"/><stop offset="24.2%" stop-color="#83c4ca"/><stop offset="27.3%" stop-color="#83c4ca"/><stop offset="30.3%" stop-color="#83c4ca"/><stop offset="33.3%" stop-color="#83c4c9"/><stop offset="36.4%" stop-color="#83c4c8"/><stop offset="39.4%" stop-color="#83c4c7"/><stop offset="42.4%" stop-color="#83c4c6"/><stop offset="45.5%" stop-color="#83c4c6"/><stop offset="48.5%" stop-color="#83c4c7"/><stop offset="51.5%" stop-color="#83c4c8"/><stop offset="54.5%" stop-color="#83c4ca"/><stop offset="57.6%" stop-color="#82c3cd"/><stop offset="60.6%" stop-color="#81c3d0"/><stop offset="63.6%" stop-color="#81c2d5"/><stop offset="66.7%" stop-color="#7fc1d8"/><stop offset="69.7%" stop-color="#7cbfda"/><stop offset="72.7%" stop-color="#79bcdc"/><stop offset="75.8%" stop-color="#75b8dd"/><stop offset="78.8%" stop-color="#72b5df"/><stop offset="81.8%" stop-color="#6fb3e0"/><stop offset="84.8%" stop-color="#6db1e1"/><stop offset="87.9%" stop-color="#6cb0e2"/><stop offset="90.9%" stop-color="#6bafe2"/><stop offset="93.9%" stop-color="#69abe0"/><stop offset="97.0%" stop-color="#5283d1"/><stop offset="100.0%" stop-color="#466cc1"/></linearGradient>
<linearGradient id="d32"><stop offset="0.0%" stop-color="#77badd"/><stop offset="3.0%" stop-color="#80c2d7"/><stop offset="6.1%" stop-color="#83c4c9"/><stop offset="9.1%" stop-color="#83c4c8"/><stop offset="12.1%" stop-color="#83c4c9"/><stop offset="15.2%" stop-color="#83c4c9"/><stop offset="18.2%" stop-color="#83c4c9"/><stop offset="21.2%" stop-color="#83c4ca"/><stop offset="24.2%" stop-color="#83c4ca"/><stop offset="27.3%" stop-color="#83c4ca"/><stop offset="30.3%" stop-color="#83c4c9"/><stop offset="33.3%" stop-color="#83c4c9"/><stop offset="36.4%" stop-color="#83c4c8"/><stop offset="39.4%" stop-color="#83c4c7"/><stop offset="42.4%" stop-color="#83c4c6"/><stop offset="45.5%" stop-color="#83c4c6"/><stop offset="48.5%" stop-color="#83c4c7"/><stop offset="51.5%" stop-color="#83c4c9"/><stop offset="54.5%" stop-color="#82c3cb"/><stop offset="57.6%" stop-color="#82c3ce"/><stop offset="60.6%" stop-color="#81c3d2"/><stop offset="63.6%" stop-color="#80c2d6"/><stop offset="66.7%" stop-color="#7ec0d9"/><stop offset="69.7%" stop-color="#7bbeda"/><stop offset="72.7%" stop-color="#77badc"/><stop offset="75.8%" stop-color="#74b7de"/><stop offset="78.8%" stop-color="#71b4e0"/><stop offset="81.8%" stop-color="#6eb2e1"/><stop offset="84.8%" stop-color="#6db1e2"/><stop offset="87.9%" stop-color="#6cb0e2"/><stop offset="90.9%" stop-color="#6baee1"/><stop offset="93.9%" stop-color="#69aae0"/><stop offset="97.0%" stop-color="#5283d1"/><stop offset="100.0%" stop-color="#456ac0"/></linearGradient>
<linearGradient id="d33"><stop offset="0.0%" stop-color="#7bbddb"/><stop offset="3.0%" stop-color="#81c2d4"/><stop offset="6.1%" stop-color="#83c4c8"/><stop offset="9.1%" stop-color="#83c4c8"/><stop offset="12.1%" stop-color="#83c4c8"/><stop offset="15.2%" stop-color="#83c4c9"/><stop offset="18.2%" stop-color="#83c4c9"/><stop offset="21.2%" stop-color="#83c4ca"/><stop offset="24.2%" stop-color="#83c4ca"/><stop offset="27.3%" stop-color="#83c4c9"/><stop offset="30.3%" stop-color="#83c4c9"/><stop offset="33.3%" stop-color="#83c4c8"/><stop offset="36.4%" stop-color="#83c4c7"/><stop offset="39.4%" stop-color="#83c4c6"/><stop offset="42.4%" stop-color="#83c4c6"/><stop offset="45.5%" stop-color="#83c4c6"/><stop offset="48.5%" stop-color="#83c4c8"/><stop offset="51.5%" stop-color="#83c4ca"/><stop offset="54.5%" stop-color="#82c3cc"/><stop offset="57.6%" stop-color="#82c3d0"/><stop offset="60.6%" stop-color="#81c3d4"/><stop offset="63.6%" stop-color="#80c2d8"/><stop offset="66.7%" stop-color="#7dbfd9"/><stop offset="69.7%" stop-color="#7abcdb"/><stop offset="72.7%" stop-color="#76b9dd"/><stop offset="75.8%" stop-color="#73b6df"/><stop offset="78.8%" stop-color="#70b3e0"/><stop offset="81.8%" stop-color="#6eb2e1"/><stop offset="84.8%" stop-color="#6cb0e2"/><stop offset="87.9%" stop-color="#6cafe2"/><stop offset="90.9%" stop-color="#6baee1"/><stop offset="93.9%" stop-color="#68aae0"/><stop offset="97.0%" stop-color="#5283d1"/><stop offset="100.0%" stop-color="#456abf"/></linearGradient>
<linearGradient id="d34"><stop offset="0.0%" stop-color="#7dbfda"/><stop offset="3.0%" stop-color="#81c3d2"/><stop offset="6.1%" stop-color="#83c4c8"/><stop offset="9.1%" stop-color="#83c4c7"/><stop offset="12.1%" stop-color="#83c4c7"/><stop offset="15.2%" stop-color="#83c4c9"/><stop offset="18.2%" stop-color="#83c4c9"/><stop offset="21.2%" stop-color="#83c4c9"/><stop offset="24.2%" stop-color="#83c4c9"/><stop offset="27.3%" stop-color="#83c4c9"/><stop offset="30.3%" stop-color="#83c4c8"/><stop offset="33.3%" stop-color="#83c4c7"/><stop offset="36.4%" stop-color="#83c4c6"/><stop offset="39.4%" stop-color="#83c4c6"/><stop offset="42.4%" stop-color="#83c4c6"/><stop offset="45.5%" stop-color="#83c4c7"/><stop offset="48.5%" stop-color="#83c4c8"/><stop offset="51.5%" stop-color="#83c4cb"/><stop offset="54.5%" stop-color="#82c3cd"/><stop offset="57.6%" stop-color="#81c3d1"/><stop offset="60.6%" stop-color="#81c2d5"/><stop offset="63.6%" stop-color="#7fc1d9"/><stop offset="66.7%" stop-color="#7cbeda"/><stop offset="69.7%" stop-color="#78bbdc"/><stop offset="72.7%" stop-color="#75b8de"/><stop offset="75.8%" stop-color="#71b5df"/><stop offset="78.8%" stop-color="#6fb2e1"/><stop offset="81.8%" stop-color="#6db1e1"/><stop offset="84.8%" stop-color="#6cb0e2"/><stop offset="87.9%" stop-color="#6bafe1"/><stop offset="90.9%" stop-color="#6baee1"/><stop offset="93.9%" stop-color="#68aae0"/><stop offset="97.0%" stop-color="#5283d1"/><stop offset="100.0%" stop-color="#4569bf"/></linearGradient>
<linearGradient id="d35"><stop offset="0.0%" stop-color="#7fc1d9"/><stop offset="3.0%" stop-color="#82c3cf"/><stop offset="6.1%" stop-color="#83c4c6"/><stop offset="9.1%" stop-color="#84c4c6"/><stop offset="12.1%" stop-color="#83c4c7"/><stop offset="15.2%" stop-color="#83c4c9"/><stop offset="18.2%" stop-color="#83c4c9"/><stop offset="21.2%" stop-color="#83c4c9"/><stop offset="24.2%" stop-color="#83c4c9"/><stop offset="27.3%" stop-color="#83c4c9"/><stop offset="30.3%" stop-color="#83c4c8"/><stop offset="33.3%" stop-color="#83c4c7"/><stop offset="36.4%" stop-color="#83c4c6"/><stop offset="39.4%" stop-color="#84c4c6"/><stop offset="42.4%" stop-color="#83c4c6"/><stop offset="45.5%" stop-color="#83c4c7"/><stop offset="48.5%" stop-color="#83c4c9"/><stop offset="51.5%" stop-color="#82c3cc"/><stop offset="54.5%" stop-color="#82c3cf"/><stop offset="57.6%" stop-color="#81c3d3"/><stop offset="60.6%" stop-color="#80c2d8"/><stop offset="63.6%" stop-color="#7ec0d9"/><stop offset="66.7%" stop-color="#7bbddb"/><stop offset="69.7%" stop-color="#77badd"/><stop offset="72.7%" stop-color="#73b6de"/><stop offset="75.8%" stop-color="#70b4e0"/><stop offset="78.8%" stop-color="#6eb2e1"/><stop offset="81.8%" stop-color="#6db1e2"/><stop offset="84.8%" stop-color="#6cafe2"/><stop offset="87.9%" stop-color="#6baee1"/><stop offset="90.9%" stop-color="#6aade1"/><stop offset="93.9%" stop-color="#68aae0"/><stop offset="97.0%" stop-color="#5182d1"/><stop offset="100.0%" stop-color="#4569bf"/></linearGradient>
<linearGradient id="d36"><stop offset="0.0%" stop-color="#80c2d7"/><stop offset="3.0%" stop-color="#82c3cd"/><stop offset="6.1%" stop-color="#84c4c5"/><stop offset="9.1%" stop-color="#84c4c4"/><stop offset="12.1%" stop-color="#84c4c6"/><stop offset="15.2%" stop-color="#83c4c9"/><stop offset="18.2%" stop-color="#83c4c9"/><stop offset="21.2%" stop-color="#83c4c9"/><stop offset="24.2%" stop-color="#83c4c9"/><stop offset="27.3%" stop-color="#83c4c8"/><stop offset="30.3%" stop-color="#83c4c7"/><stop offset="33.3%" stop-color="#83c4c6"/><stop offset="36.4%" stop-color="#84c4c6"/><stop offset="39.4%" stop-color="#84c4c6"/><stop offset="42.4%" stop-color="#83c4c6"/><stop offset="45.5%" stop-color="#83c4c8"/><stop offset="48.5%" stop-color="#83c4ca"/><stop offset="51.5%" stop-color="#82c3cd"/><stop offset="54.5%" stop-color="#82c3d0"/><stop offset="57.6%" stop-color="#81c2d4"/><stop offset="60.6%" stop-color="#7fc1d8"/><stop offset="63.6%" stop-color="#7dbfda"/><stop offset="66.7%" stop-color="#79bcdb"/><stop offset="69.7%" stop-color="#75b8dd"/><stop offset="72.7%" stop-color="#72b5df"/><stop offset="75.8%" stop-color="#6fb3e0"/><stop offset="78.8%" stop-color="#6db1e1"/><stop offset="81.8%" stop-color="#6cb0e2"/><stop offset="84.8%" stop-color="#6bafe1"/><stop offset="87.9%" stop-color="#6baee1"/><stop offset="90.9%" stop-color="#6aade1"/><stop offset="93.9%" stop-color="#68a9e0"/><stop offset="97.0%" stop-color="#5182d1"/><stop offset="100.0%" stop-color="#4569bf"/></linearGradient>
<linearGradient id="d37"><stop offset="0.0%" stop-color="#81c3d3"/><stop offset="3.0%" stop-color="#83c4ca"/><stop offset="6.1%" stop-color="#84c4c3"/><stop offset="9.1%" stop-color="#84c4c3"/><stop offset="12.1%" stop-color="#84c4c4"/><stop offset="15.2%" stop-color="#83c4c8"/><stop offset="18.2%" stop-color="#83c4c9"/><stop offset="21.2%" stop-color="#83c4c9"/><stop offset="24.2%" stop-color="#83c4c8"/><stop offset="27.3%" stop-color="#83c4c7"/><stop offset="30.3%" stop-color="#83c4c7"/><stop offset="33.3%" stop-color="#84c4c6"/><stop offset="36.4%" stop-color="#84c4c5"/><stop offset="39.4%" stop-color="#84c4c6"/><stop offset="42.4%" stop-color="#83c4c7"/><stop offset="45.5%" stop-color="#83c4c8"/><stop offset="48.5%" stop-color="#83c4cb"/><stop offset="51.5%" stop-color="#82c3ce"/><stop offset="54.5%" stop-color="#81c3d2"/><stop offset="57.6%" stop-color="#80c2d6"/><stop offset="60.6%" stop-color="#7ec0d9"/><stop offset="63.6%" stop-color="#7bbeda"/><stop offset="66.7%" stop-color="#78badc"/><stop offset="69.7%" stop-color="#74b7de"/><stop offset="72.7%" stop-color="#71b4e0"/><stop offset="75.8%" stop-color="#6eb2e1"/><stop offset="78.8%" stop-color="#6db1e2"/><stop offset="81.8%" stop-color="#6cafe2"/><stop offset="84.8%" stop-color="#6baee1"/><stop offset="87.9%" stop-color="#6aade1"/><stop offset="90.9%" stop-color="#6aade1"/><stop offset="93.9%" stop-color="#68a9df"/><stop offset="97.0%" stop-color="#5182d1"/><stop offset="100.0%" stop-color="#4569bf"/></linearGradient>
<linearGradient id="d38"><stop offset="0.0%" stop-color="#82c3ce"/><stop offset="3.0%" stop-color="#83c4c6"/><stop offset="6.1%" stop-color="#85c5c0"/><stop offset="9.1%" stop-color="#84c5c1"/><stop offset="12.1%" stop-color="#84c4c3"/><stop offset="15.2%" stop-color="#83c4c7"/><stop offset="18.2%" stop-color="#83c4c9"/><stop offset="21.2%" stop-color="#83c4c8"/><stop offset="24.2%" stop-color="#83c4c8"/><stop offset="27.3%" stop-color="#83c4c7"/><stop offset="30.3%" stop-color="#83c4c6"/><stop offset="33.3%" stop-color="#84c4c5"/><stop offset="36.4%" stop-color="#84c4c5"/><stop offset="39.4%" stop-color="#84c4c6"/><stop offset="42.4%" stop-color="#83c4c7"/><stop offset="45.5%" stop-color="#83c4c9"/><stop offset="48.5%" stop-color="#82c3cc"/><stop offset="51.5%" stop-color="#82c3cf"/><stop offset="54.5%" stop-color="#81c3d3"/><stop offset="57.6%" stop-color="#80c2d8"/><stop offset="60.6%" stop-color="#7dbfd9"/><stop offset="63.6%" stop-color="#7abcdb"/><stop offset="66.7%" stop-color="#76b9dd"/><stop offset="69.7%" stop-color="#72b6df"/><stop offset="72.7%" stop-color="#6fb3e0"/><stop offset="75.8%" stop-color="#6db1e1"/><stop offset="78.8%" stop-color="#6cb0e2"/><stop offset="81.8%" stop-color="#6baee1"/><stop offset="84.8%" stop-color="#6aade1"/><stop offset="87.9%" stop-color="#6aade1"/><stop offset="90.9%" stop-color="#6aace1"/><stop offset="93.9%" stop-color="#68a9df"/><stop offset="97.0%" stop-color="#5182d1"/><stop offset="100.0%" stop-color="#4569bf"/></linearGradient>
<linearGradient id="d39"><stop offset="0.0%" stop-color="#83c4c9"/><stop offset="3.0%" stop-color="#84c5c2"/><stop offset="6.1%" stop-color="#85c5bd"/><stop offset="9.1%" stop-color="#85c5be"/><stop offset="12.1%" stop-color="#84c5c1"/><stop offset="15.2%" stop-color="#83c4c7"/><stop offset="18.2%" stop-color="#83c4c8"/><stop offset="21.2%" stop-color="#83c4c8"/><stop offset="24.2%" stop-color="#83c4c7"/><stop offset="27.3%" stop-color="#83c4c6"/><stop offset="30.3%" stop-color="#84c4c6"/><stop offset="33.3%" stop-color="#84c4c5"/><stop offset="36.4%" stop-color="#84c4c5"/><stop offset="39.4%" stop-color="#83c4c6"/><stop offset="42.4%" stop-color="#83c4c8"/><stop offset="45.5%" stop-color="#83c4ca"/><stop offset="48.5%" stop-color="#82c3cd"/><stop offset="51.5%" stop-color="#81c3d1"/><stop offset="54.5%" stop-color="#80c2d5"/><stop offset="57.6%" stop-color="#7fc1d9"/><stop offset="60.6%" stop-color="#7cbeda"/><stop offset="63.6%" stop-color="#78bbdc"/><stop offset="66.7%" stop-color="#74b8de"/><stop offset="69.7%" stop-color="#71b4e0"/><stop offset="72.7%" stop-color="#6eb2e1"/><stop offset="75.8%" stop-color="#6cb0e2"/><stop offset="78.8%" stop-color="#6bafe1"/><stop offset="81.8%" stop-color="#6aade1"/><stop offset="84.8%" stop-color="#6aade1"/><stop offset="87.9%" stop-color="#6aace1"/><stop offset="90.9%" stop-color="#6aace1"/><stop offset="93.9%" stop-color="#68a9df"/><stop offset="97.0%" stop-color="#5182d1"/><stop offset="100.0%" stop-color="#4569bf"/></linearGradient>
<linearGradient id="d40"><stop offset="0.0%" stop-color="#84c4c4"/><stop offset="3.0%" stop-color="#85c5be"/><stop offset="6.1%" stop-color="#86c5ba"/><stop offset="9.1%" stop-color="#86c5bb"/><stop offset="12.1%" stop-color="#85c5be"/><stop offset="15.2%" stop-color="#84c4c6"/><stop offset="18.2%" stop-color="#83c4c8"/><stop offset="21.2%" stop-color="#83c4c7"/><stop offset="24.2%" stop-color="#83c4c7"/><stop offset="27.3%" stop-color="#84c4c6"/><stop offset="30.3%" stop-color="#84c4c5"/><stop offset="33.3%" stop-color="#84c4c5"/><stop offset="36.4%" stop-color="#84c4c5"/><stop offset="39.4%" stop-color="#83c4c6"/><stop offset="42.4%" stop-color="#83c4c8"/><stop offset="45.5%" stop-color="#82c3cb"/><stop offset="48.5%" stop-color="#82c3ce"/><stop offset="51.5%" stop-color="#81c3d3"/><stop offset="54.5%" stop-color="#80c2d8"/><stop offset="57.6%" stop-color="#7ec0d9"/><stop offset="60.6%" stop-color="#7abddb"/><stop offset="63.6%" stop-color="#77badd"/><stop offset="66.7%" stop-color="#73b6df"/><stop offset="69.7%" stop-color="#70b3e0"/><stop offset="72.7%" stop-color="#6db1e1"/><stop offset="75.8%" stop-color="#6cafe2"/><stop offset="78.8%" stop-color="#6aade1"/><stop offset="81.8%" stop-color="#6aace1"/><stop offset="84.8%" stop-color="#6aace0"/><stop offset="87.9%" stop-color="#6aace0"/><stop offset="90.9%" stop-color="#6aace0"/><stop offset="93.9%" stop-color="#68a9df"/><stop offset="97.0%" stop-color="#5182d1"/><stop offset="100.0%" stop-color="#4569bf"/></linearGradient>
<linearGradient id="d41"><stop offset="0.0%" stop-color="#85c5bf"/><stop offset="3.0%" stop-color="#86c6b9"/><stop offset="6.1%" stop-color="#87c6b6"/><stop offset="9.1%" stop-color="#86c6b7"/><stop offset="12.1%" stop-color="#86c5bb"/><stop offset="15.2%" stop-color="#84c4c5"/><stop offset="18.2%" stop-color="#83c4c8"/><stop offset="21.2%" stop-color="#83c4c7"/><stop offset="24.2%" stop-color="#83c4c6"/><stop offset="27.3%" stop-color="#84c4c5"/><stop offset="30.3%" stop-color="#84c4c5"/><stop offset="33.3%" stop-color="#84c4c5"/><stop offset="36.4%" stop-color="#84c4c5"/><stop offset="39.4%" stop-color="#83c4c7"/><stop offset="42.4%" stop-color="#83c4c9"/><stop offset="45.5%" stop-color="#82c3cc"/><stop offset="48.5%" stop-color="#82c3d0"/><stop offset="51.5%" stop-color="#81c2d4"/><stop offset="54.5%" stop-color="#7fc1d8"/><stop offset="57.6%" stop-color="#7cbfda"/><stop offset="60.6%" stop-color="#79bcdc"/><stop offset="63.6%" stop-color="#75b8de"/><stop offset="66.7%" stop-color="#71b5df"/><stop offset="69.7%" stop-color="#6eb2e1"/><stop offset="72.7%" stop-color="#6cb0e2"/><stop offset="75.8%" stop-color="#6aade1"/><stop offset="78.8%" stop-color="#6aace0"/><stop offset="81.8%" stop-color="#69abe0"/><stop offset="84.8%" stop-color="#69abe0"/><stop offset="87.9%" stop-color="#69ace0"/><stop offset="90.9%" stop-color="#69ace0"/><stop offset="93.9%" stop-color="#68a9df"/><stop offset="97.0%" stop-color="#5182d1"/><stop offset="100.0%" stop-color="#4569bf"/></linearGradient>
<linearGradient id="d42"><stop offset="0.0%" stop-color="#86c5ba"/><stop offset="3.0%" stop-color="#87c6b5"/><stop offset="6.1%" stop-color="#87c6b2"/><stop offset="9.1%" stop-color="#87c6b3"/><stop offset="12.1%" stop-color="#86c6b8"/><stop offset="15.2%" stop-color="#84c4c3"/><stop offset="18.2%" stop-color="#83c4c7"/><stop offset="21.2%" stop-color="#83c4c6"/><stop offset="24.2%" stop-color="#84c4c5"/><stop offset="27.3%" stop-color="#84c4c5"/><stop offset="30.3%" stop-color="#84c4c4"/><stop offset="33.3%" stop-color="#84c4c4"/><stop offset="36.4%" stop-color="#84c4c5"/><stop offset="39.4%" stop-color="#83c4c7"/><stop offset="42.4%" stop-color="#83c4ca"/><stop offset="45.5%" stop-color="#82c3cd"/><stop offset="48.5%" stop-color="#81c3d1"/><stop offset="51.5%" stop-color="#80c2d6"/><stop offset="54.5%" stop-color="#7ec0d9"/><stop offset="57.6%" stop-color="#7bbeda"/><stop offset="60.6%" stop-color="#77badc"/><stop offset="63.6%" stop-color="#73b7de"/><stop offset="66.7%" stop-color="#70b3e0"/><stop offset="69.7%" stop-color="#6db1e1"/><stop offset="72.7%" stop-color="#6baee1"/><stop offset="75.8%" stop-color="#69ace0"/><stop offset="78.8%" stop-color="#69abe0"/><stop offset="81.8%" stop-color="#69aae0"/><stop offset="84.8%" stop-color="#69abe0"/><stop offset="87.9%" stop-color="#69abe0"/><stop offset="90.9%" stop-color="#69abe0"/><stop offset="93.9%" stop-color="#68a8df"/><stop offset="97.0%" stop-color="#5182d1"/><stop offset="100.0%" stop-color="#4569bf"/></linearGradient>
<linearGradient id="d43"><stop offset="0.0%" stop-color="#87c6b5"/><stop offset="3.0%" stop-color="#88c7b0"/><stop offset="6.1%" stop-color="#88c7ad"/><stop offset="9.1%" stop-color="#88c7af"/><stop offset="12.1%" stop-color="#87c6b4"/><stop offset="15.2%" stop-color="#84c5c1"/><stop offset="18.2%" stop-color="#83c4c7"/><stop offset="21.2%" stop-color="#83c4c6"/><stop offset="24.2%" stop-color="#84c4c5"/><stop offset="27.3%" stop-color="#84c4c4"/><stop offset="30.3%" stop-color="#84c4c4"/><stop offset="33.3%" stop-color="#84c4c4"/><stop offset="36.4%" stop-color="#83c4c6"/><stop offset="39.4%" stop-color="#83c4c8"/><stop offset="42.4%" stop-color="#82c3cb"/><stop offset="45.5%" stop-color="#82c3cf"/><stop offset="48.5%" stop-color="#81c3d3"/><stop offset="51.5%" stop-color="#80c2d8"/><stop offset="54.5%" stop-color="#7dbfd9"/><stop offset="57.6%" stop-color="#7abcdb"/><stop offset="60.6%" stop-color="#76b9dd"/><stop offset="63.6%" stop-color="#72b5df"/><stop offset="66.7%" stop-color="#6eb2e1"/><stop offset="69.7%" stop-color="#6cb0e2"/><stop offset="72.7%" stop-color="#69ace0"/><stop offset="75.8%" stop-color="#68aae0"/><stop offset="78.8%" stop-color="#68a9df"/><stop offset="81.8%" stop-color="#68a9e0"/><stop offset="84.8%" stop-color="#69aae0"/><stop offset="87.9%" stop-color="#69abe0"/><stop offset="90.9%" stop-color="#69abe0"/><stop offset="93.9%" stop-color="#68a8df"/><stop offset="97.0%" stop-color="#5182d1"/><stop offset="100.0%" stop-color="#4469bf"/></linearGradient>
<linearGradient id="d44"><stop offset="0.0%" stop-color="#88c7af"/><stop offset="3.0%" stop-color="#89c7ab"/><stop offset="6.1%" stop-color="#89c7a9"/><stop offset="9.1%" stop-color="#89c7aa"/><stop offset="12.1%" stop-color="#88c7b0"/><stop offset="15.2%" stop-color="#85c5bf"/><stop offset="18.2%" stop-color="#83c4c6"/><stop offset="21.2%" stop-color="#84c4c5"/><stop offset="24.2%" stop-color="#84c4c4"/><stop offset="27.3%" stop-color="#84c4c4"/><stop offset="30.3%" stop-color="#84c4c4"/><stop offset="33.3%" stop-color="#84c4c5"/><stop offset="36.4%" stop-color="#83c4c6"/><stop offset="39.4%" stop-color="#83c4c9"/><stop offset="42.4%" stop-color="#82c3cc"/><stop offset="45.5%" stop-color="#82c3d0"/><stop offset="48.5%" stop-color="#81c2d5"/><stop offset="51.5%" stop-color="#7fc1d9"/><stop offset="54.5%" stop-color="#7cbeda"/><stop offset="57.6%" stop-color="#78bbdc"/><stop offset="60.6%" stop-color="#74b7de"/><stop offset="63.6%" stop-color="#70b4e0"/><stop offset="66.7%" stop-color="#6db1e2"/><stop offset="69.7%" stop-color="#6aade1"/><stop offset="72.7%" stop-color="#68a9e0"/><stop offset="75.8%" stop-color="#67a8df"/><stop offset="78.8%" stop-color="#67a8df"/><stop offset="81.8%" stop-color="#68a9df"/><stop offset="84.8%" stop-color="#68a9e0"/><stop offset="87.9%" stop-color="#69aae0"/><stop offset="90.9%" stop-color="#69abe0"/><stop offset="93.9%" stop-color="#67a8df"/><stop offset="97.0%" stop-color="#5182d1"/><stop offset="100.0%" stop-color="#4469bf"/></linearGradient>
<linearGradient id="d45"><stop offset="0.0%" stop-color="#89c7aa"/><stop offset="3.0%" stop-color="#8ac8a5"/><stop offset="6.1%" stop-color="#8ac8a4"/><stop offset="9.1%" stop-color="#8ac8a6"/><stop offset="12.1%" stop-color="#89c7ab"/><stop offset="15.2%" stop-color="#85c5bd"/><stop offset="18.2%" stop-color="#84c4c5"/><stop offset="21.2%" stop-color="#84c4c5"/><stop offset="24.2%" stop-color="#84c4c4"/><stop offset="27.3%" stop-color="#84c4c3"/><stop offset="30.3%" stop-color="#84c4c4"/><stop offset="33.3%" stop-color="#84c4c5"/><stop offset="36.4%" stop-color="#83c4c7"/><stop offset="39.4%" stop-color="#83c4ca"/><stop offset="42.4%" stop-color="#82c3cd"/><stop offset="45.5%" stop-color="#81c3d2"/><stop offset="48.5%" stop-color="#80c2d7"/><stop offset="51.5%" stop-color="#7ec0d9"/><stop offset="54.5%" stop-color="#7abddb"/><stop offset="57.6%" stop-color="#76b9dd"/><stop offset="60.6%" stop-color="#72b5df"/><stop offset="63.6%" stop-color="#6eb2e1"/><stop offset="66.7%" stop-color="#6bafe1"/><stop offset="69.7%" stop-color="#68aae0"/><stop offset="72.7%" stop-color="#67a7df"/><stop offset="75.8%" stop-color="#66a6de"/><stop offset="78.8%" stop-color="#67a7df"/><stop offset="81.8%" stop-color="#67a8df"/><stop offset="84.8%" stop-color="#68a9df"/><stop offset="87.9%" stop-color="#68aae0"/><stop offset="90.9%" stop-color="#69abe0"/><stop offset="93.9%" stop-color="#67a8df"/><stop offset="97.0%" stop-color="#5181d1"/><stop offset="100.0%" stop-color="#4469bf"/></linearGradient>
<linearGradient id="d46"><stop offset="0.0%" stop-color="#8ac8a5"/><stop offset="3.0%" stop-color="#8cc99e"/><stop offset="6.1%" stop-color="#8dc99c"/><stop offset="9.1%" stop-color="#8cc99f"/><stop offset="12.1%" stop-color="#8ac8a6"/><stop offset="15.2%" stop-color="#86c5ba"/><stop offset="18.2%" stop-color="#84c4c4"/><stop offset="21.2%" stop-color="#84c4c4"/><stop offset="24.2%" stop-color="#84c4c3"/><stop offset="27.3%" stop-color="#84c4c3"/><stop offset="30.3%" stop-color="#84c4c4"/><stop offset="33.3%" stop-color="#84c4c5"/><stop offset="36.4%" stop-color="#83c4c8"/><stop offset="39.4%" stop-color="#83c4cb"/><stop offset="42.4%" stop-color="#82c3cf"/><stop offset="45.5%" stop-color="#81c3d3"/><stop offset="48.5%" stop-color="#80c2d8"/><stop offset="51.5%" stop-color="#7dbfda"/><stop offset="54.5%" stop-color="#79bcdc"/><stop offset="57.6%" stop-color="#75b8de"/><stop offset="60.6%" stop-color="#70b4e0"/><stop offset="63.6%" stop-color="#6db1e2"/><stop offset="66.7%" stop-color="#69abe0"/><stop offset="69.7%" stop-color="#67a7df"/><stop offset="72.7%" stop-color="#66a5de"/><stop offset="75.8%" stop-color="#65a5de"/><stop offset="78.8%" stop-color="#66a5de"/><stop offset="81.8%" stop-color="#67a7de"/><stop offset="84.8%" stop-color="#67a8df"/><stop offset="87.9%" stop-color="#68a9df"/><stop offset="90.9%" stop-color="#69aae0"/><stop offset="93.9%" stop-color="#67a8df"/><stop offset="97.0%" stop-color="#5181d1"/><stop offset="100.0%" stop-color="#4469bf"/></linearGradient>
<linearGradient id="d47"><stop offset="0.0%" stop-color="#8dc99d"/><stop offset="3.0%" stop-color="#8fca95"/><stop offset="6.1%" stop-color="#90ca93"/><stop offset="9.1%" stop-color="#8fca96"/><stop offset="12.1%" stop-color="#8bc8a0"/><stop offset="15.2%" stop-color="#86c6b7"/><stop offset="18.2%" stop-color="#84c4c3"/><stop offset="21.2%" stop-color="#84c4c4"/><stop offset="24.2%" stop-color="#84c4c3"/><stop offset="27.3%" stop-color="#84c4c3"/><stop offset="30.3%" stop-color="#84c4c4"/><stop offset="33.3%" stop-color="#83c4c6"/><stop offset="36.4%" stop-color="#83c4c9"/><stop offset="39.4%" stop-color="#82c3cc"/><stop offset="42.4%" stop-color="#82c3d0"/><stop offset="45.5%" stop-color="#81c2d5"/><stop offset="48.5%" stop-color="#7fc1d9"/><stop offset="51.5%" stop-color="#7bbeda"/><stop offset="54.5%" stop-color="#77badc"/><stop offset="57.6%" stop-color="#73b6df"/><stop offset="60.6%" stop-color="#6fb2e1"/><stop offset="63.6%" stop-color="#6baee1"/><stop offset="66.7%" stop-color="#67a8df"/><stop offset="69.7%" stop-color="#65a4de"/><stop offset="72.7%" stop-color="#64a3dd"/><stop offset="75.8%" stop-color="#64a3dd"/><stop offset="78.8%" stop-color="#65a4de"/><stop offset="81.8%" stop-color="#66a6de"/><stop offset="84.8%" stop-color="#67a7df"/><stop offset="87.9%" stop-color="#68a9df"/><stop offset="90.9%" stop-color="#68aae0"/><stop offset="93.9%" stop-color="#67a7df"/><stop offset="97.0%" stop-color="#5181d0"/><stop offset="100.0%" stop-color="#4469bf"/></linearGradient>
<linearGradient id="d48"><stop offset="0.0%" stop-color="#90ca94"/><stop offset="3.0%" stop-color="#92cb8d"/><stop offset="6.1%" stop-color="#93cb8b"/><stop offset="9.1%" stop-color="#92cb8e"/><stop offset="12.1%" stop-color="#8ec998"/><stop offset="15.2%" stop-color="#87c6b3"/><stop offset="18.2%" stop-color="#84c5c2"/><stop offset="21.2%" stop-color="#84c4c3"/><stop offset="24.2%" stop-color="#84c4c3"/><stop offset="27.3%" stop-color="#84c4c3"/><stop offset="30.3%" stop-color="#84c4c4"/><stop offset="33.3%" stop-color="#83c4c6"/><stop offset="36.4%" stop-color="#83c4c9"/><stop offset="39.4%" stop-color="#82c3cd"/><stop offset="42.4%" stop-color="#81c3d2"/><stop offset="45.5%" stop-color="#80c2d7"/><stop offset="48.5%" stop-color="#7dc0d9"/><stop offset="51.5%" stop-color="#7abcdb"/><stop offset="54.5%" stop-color="#76b9dd"/><stop offset="57.6%" stop-color="#71b5df"/><stop offset="60.6%" stop-color="#6db1e2"/><stop offset="63.6%" stop-color="#69aae0"/><stop offset="66.7%" stop-color="#65a5de"/><stop offset="69.7%" stop-color="#64a2dd"/><stop offset="72.7%" stop-color="#63a1dc"/><stop offset="75.8%" stop-color="#63a1dd"/><stop offset="78.8%" stop-color="#64a3dd"/><stop offset="81.8%" stop-color="#65a5de"/><stop offset="84.8%" stop-color="#66a6de"/><stop offset="87.9%" stop-color="#67a8df"/><stop offset="90.9%" stop-color="#68a9e0"/><stop offset="93.9%" stop-color="#67a7df"/><stop offset="97.0%" stop-color="#5181d0"/><stop offset="100.0%" stop-color="#4469bf"/></linearGradient>
<linearGradient id="d49"><stop offset="0.0%" stop-color="#93cb8b"/><stop offset="3.0%" stop-color="#96cc84"/><stop offset="6.1%" stop-color="#96cc82"/><stop offset="9.1%" stop-color="#95cc85"/><stop offset="12.1%" stop-color="#91ca90"/><stop offset="15.2%" stop-color="#88c7af"/><stop offset="18.2%" stop-color="#84c5c1"/><stop offset="21.2%" stop-color="#84c4c3"/><stop offset="24.2%" stop-color="#84c4c2"/><stop offset="27.3%" stop-color="#84c4c3"/><stop offset="30.3%" stop-color="#84c4c5"/><stop offset="33.3%" stop-color="#83c4c7"/><stop offset="36.4%" stop-color="#83c4ca"/><stop offset="39.4%" stop-color="#82c3ce"/><stop offset="42.4%" stop-color="#81c3d3"/><stop offset="45.5%" stop-color="#7fc1d8"/><stop offset="48.5%" stop-color="#7cbfda"/><stop offset="51.5%" stop-color="#78bbdc"/><stop offset="54.5%" stop-color="#74b7de"/><stop offset="57.6%" stop-color="#6fb3e0"/><stop offset="60.6%" stop-color="#6baee1"/><stop offset="63.6%" stop-color="#67a7de"/><stop offset="66.7%" stop-color="#64a2dd"/><stop offset="69.7%" stop-color="#629fdc"/><stop offset="72.7%" stop-color="#629fdc"/><stop offset="75.8%" stop-color="#63a0dc"/><stop offset="78.8%" stop-color="#64a1dd"/><stop offset="81.8%" stop-color="#65a4dd"/><stop offset="84.8%" stop-color="#66a6de"/><stop offset="87.9%" stop-color="#67a8df"/><stop offset="90.9%" stop-color="#68a9df"/><stop offset="93.9%" stop-color="#67a7df"/><stop offset="97.0%" stop-color="#5181d0"/><stop offset="100.0%" stop-color="#4469bf"/></linearGradient>
<linearGradient id="d50"><stop offset="0.0%" stop-color="#96cc83"/><stop offset="3.0%" stop-color="#99cd7b"/><stop offset="6.1%" stop-color="#9acd79"/><stop offset="9.1%" stop-color="#98cd7d"/><stop offset="12.1%" stop-color="#94cb87"/><stop offset="15.2%" stop-color="#89c7ab"/><stop offset="18.2%" stop-color="#85c5bf"/><stop offset="21.2%" stop-color="#84c5c2"/><stop offset="24.2%" stop-color="#84c5c2"/><stop offset="27.3%" stop-color="#84c4c3"/><stop offset="30.3%" stop-color="#84c4c5"/><stop offset="33.3%" stop-color="#83c4c8"/><stop offset="36.4%" stop-color="#82c3cc"/><stop offset="39.4%" stop-color="#82c3d0"/><stop offset="42.4%" stop-color="#81c2d5"/><stop offset="45.5%" stop-color="#7ec1d9"/><stop offset="48.5%" stop-color="#7bbeda"/><stop offset="51.5%" stop-color="#77badd"/><stop offset="54.5%" stop-color="#72b5df"/><stop offset="57.6%" stop-color="#6eb1e1"/><stop offset="60.6%" stop-color="#69aae0"/><stop offset="63.6%" stop-color="#65a3dd"/><stop offset="66.7%" stop-color="#629fdc"/><stop offset="69.7%" stop-color="#619ddb"/><stop offset="72.7%" stop-color="#619ddb"/><stop offset="75.8%" stop-color="#629edb"/><stop offset="78.8%" stop-color="#63a0dc"/><stop offset="81.8%" stop-color="#64a2dd"/><stop offset="84.8%" stop-color="#66a5de"/><stop offset="87.9%" stop-color="#67a7df"/><stop offset="90.9%" stop-color="#68a9df"/><stop offset="93.9%" stop-color="#67a7df"/><stop offset="97.0%" stop-color="#5081d0"/><stop offset="100.0%" stop-color="#4469bf"/></linearGradient>
<linearGradient id="d51"><stop offset="0.0%" stop-color="#99cd7a"/><stop offset="3.0%" stop-color="#9cce73"/><stop offset="6.1%" stop-color="#9dce71"/><stop offset="9.1%" stop-color="#9bce74"/><stop offset="12.1%" stop-color="#98cd7f"/><stop offset="15.2%" stop-color="#89c8a7"/><stop offset="18.2%" stop-color="#85c5be"/><stop offset="21.2%" stop-color="#84c5c2"/><stop offset="24.2%" stop-color="#84c5c2"/><stop offset="27.3%" stop-color="#84c4c4"/><stop offset="30.3%" stop-color="#83c4c6"/><stop offset="33.3%" stop-color="#83c4c9"/><stop offset="36.4%" stop-color="#82c3cd"/><stop offset="39.4%" stop-color="#81c3d1"/><stop offset="42.4%" stop-color="#80c2d7"/><stop offset="45.5%" stop-color="#7dc0d9"/><stop offset="48.5%" stop-color="#7abcdb"/><stop offset="51.5%" stop-color="#75b8dd"/><stop offset="54.5%" stop-color="#70b4e0"/><stop offset="57.6%" stop-color="#6cb0e2"/><stop offset="60.6%" stop-color="#67a7df"/><stop offset="63.6%" stop-color="#63a0dc"/><stop offset="66.7%" stop-color="#619cdb"/><stop offset="69.7%" stop-color="#609bda"/><stop offset="72.7%" stop-color="#609bda"/><stop offset="75.8%" stop-color="#619cdb"/><stop offset="78.8%" stop-color="#629fdc"/><stop offset="81.8%" stop-color="#64a1dd"/><stop offset="84.8%" stop-color="#65a4de"/><stop offset="87.9%" stop-color="#66a7de"/><stop offset="90.9%" stop-color="#68a8df"/><stop offset="93.9%" stop-color="#66a6de"/><stop offset="97.0%" stop-color="#5081d0"/><stop offset="100.0%" stop-color="#4469bf"/></linearGradient>
<linearGradient id="d52"><stop offset="0.0%" stop-color="#9cce71"/><stop offset="3.0%" stop-color="#9fcf6a"/><stop offset="6.1%" stop-color="#a0cf68"/><stop offset="9.1%" stop-color="#9fcf6b"/><stop offset="12.1%" stop-color="#9bce76"/><stop offset="15.2%" stop-color="#8bc8a2"/><stop offset="18.2%" stop-color="#85c5bc"/><stop offset="21.2%" stop-color="#84c5c2"/><stop offset="24.2%" stop-color="#84c5c2"/><stop offset="27.3%" stop-color="#84c4c4"/><stop offset="30.3%" stop-color="#83c4c7"/><stop offset="33.3%" stop-color="#83c4ca"/><stop offset="36.4%" stop-color="#82c3ce"/><stop offset="39.4%" stop-color="#81c3d3"/><stop offset="42.4%" stop-color="#80c2d8"/><stop offset="45.5%" stop-color="#7cbfda"/><stop offset="48.5%" stop-color="#78bbdc"/><stop offset="51.5%" stop-color="#73b7de"/><stop offset="54.5%" stop-color="#6fb2e1"/><stop offset="57.6%" stop-color="#6aace1"/><stop offset="60.6%" stop-color="#65a3dd"/><stop offset="63.6%" stop-color="#619ddb"/><stop offset="66.7%" stop-color="#5f9ada"/><stop offset="69.7%" stop-color="#5e99d9"/><stop offset="72.7%" stop-color="#5f99d9"/><stop offset="75.8%" stop-color="#609bda"/><stop offset="78.8%" stop-color="#619ddb"/><stop offset="81.8%" stop-color="#63a0dc"/><stop offset="84.8%" stop-color="#65a3dd"/><stop offset="87.9%" stop-color="#66a6de"/><stop offset="90.9%" stop-color="#67a8df"/><stop offset="93.9%" stop-color="#66a6de"/><stop offset="97.0%" stop-color="#5080d0"/><stop offset="100.0%" stop-color="#4469be"/></linearGradient>
<linearGradient id="d53"><stop offset="0.0%" stop-color="#a0cf69"/><stop offset="3.0%" stop-color="#a2d062"/><stop offset="6.1%" stop-color="#a3d061"/><stop offset="9.1%" stop-color="#a2d063"/><stop offset="12.1%" stop-color="#9ecf6e"/><stop offset="15.2%" stop-color="#8dc99a"/><stop offset="18.2%" stop-color="#86c5ba"/><stop offset="21.2%" stop-color="#84c5c2"/><stop offset="24.2%" stop-color="#84c4c3"/><stop offset="27.3%" stop-color="#84c4c5"/><stop offset="30.3%" stop-color="#83c4c7"/><stop offset="33.3%" stop-color="#83c4cb"/><stop offset="36.4%" stop-color="#82c3cf"/><stop offset="39.4%" stop-color="#81c2d5"/><stop offset="42.4%" stop-color="#7fc1d9"/><stop offset="45.5%" stop-color="#7bbeda"/><stop offset="48.5%" stop-color="#77badd"/><stop offset="51.5%" stop-color="#72b5df"/><stop offset="54.5%" stop-color="#6db1e1"/><stop offset="57.6%" stop-color="#68a8df"/><stop offset="60.6%" stop-color="#63a0dc"/><stop offset="63.6%" stop-color="#609bda"/><stop offset="66.7%" stop-color="#5e98d9"/><stop offset="69.7%" stop-color="#5d97d8"/><stop offset="72.7%" stop-color="#5e97d9"/><stop offset="75.8%" stop-color="#5f99d9"/><stop offset="78.8%" stop-color="#609cdb"/><stop offset="81.8%" stop-color="#629fdc"/><stop offset="84.8%" stop-color="#64a3dd"/><stop offset="87.9%" stop-color="#66a5de"/><stop offset="90.9%" stop-color="#67a8df"/><stop offset="93.9%" stop-color="#66a6de"/><stop offset="97.0%" stop-color="#5080d0"/><stop offset="100.0%" stop-color="#4469be"/></linearGradient>
<linearGradient id="d54"><stop offset="0.0%" stop-color="#a3d061"/><stop offset="3.0%" stop-color="#a7d15e"/><stop offset="6.1%" stop-color="#a8d15d"/><stop offset="9.1%" stop-color="#a6d15e"/><stop offset="12.1%" stop-color="#a1d065"/><stop offset="15.2%" stop-color="#90ca93"/><stop offset="18.2%" stop-color="#86c6b8"/><stop offset="21.2%" stop-color="#84c5c1"/><stop offset="24.2%" stop-color="#84c4c3"/><stop offset="27.3%" stop-color="#84c4c5"/><stop offset="30.3%" stop-color="#83c4c8"/><stop offset="33.3%" stop-color="#82c3cc"/><stop offset="36.4%" stop-color="#81c3d1"/><stop offset="39.4%" stop-color="#80c2d7"/><stop offset="42.4%" stop-color="#7ec0d9"/><stop offset="45.5%" stop-color="#7abcdb"/><stop offset="48.5%" stop-color="#75b8dd"/><stop offset="51.5%" stop-color="#70b4e0"/><stop offset="54.5%" stop-color="#6cafe2"/><stop offset="57.6%" stop-color="#66a5de"/><stop offset="60.6%" stop-color="#619edb"/><stop offset="63.6%" stop-color="#5e98d9"/><stop offset="66.7%" stop-color="#5d96d8"/><stop offset="69.7%" stop-color="#5c95d8"/><stop offset="72.7%" stop-color="#5d96d8"/><stop offset="75.8%" stop-color="#5e98d9"/><stop offset="78.8%" stop-color="#609bda"/><stop offset="81.8%" stop-color="#629edb"/><stop offset="84.8%" stop-color="#64a2dd"/><stop offset="87.9%" stop-color="#66a5de"/><stop offset="90.9%" stop-color="#67a7df"/><stop offset="93.9%" stop-color="#66a6de"/><stop offset="97.0%" stop-color="#5080d0"/><stop offset="100.0%" stop-color="#4469be"/></linearGradient>
<linearGradient id="d55"><stop offset="0.0%" stop-color="#a7d15d"/><stop offset="3.0%" stop-color="#abd25a"/><stop offset="6.1%" stop-color="#acd259"/><stop offset="9.1%" stop-color="#aad25b"/><stop offset="12.1%" stop-color="#a5d160"/><stop offset="15.2%" stop-color="#93cb8b"/><stop offset="18.2%" stop-color="#87c6b6"/><stop offset="21.2%" stop-color="#84c5c1"/><stop offset="24.2%" stop-color="#84c4c3"/><stop offset="27.3%" stop-color="#83c4c6"/><stop offset="30.3%" stop-color="#83c4c9"/><stop offset="33.3%" stop-color="#82c3cd"/><stop offset="36.4%" stop-color="#81c3d2"/><stop offset="39.4%" stop-color="#80c2d8"/><stop offset="42.4%" stop-color="#7dbfda"/><stop offset="45.5%" stop-color="#78bbdc"/><stop offset="48.5%" stop-color="#74b7de"/><stop offset="51.5%" stop-color="#6fb3e1"/><stop offset="54.5%" stop-color="#6aace0"/><stop offset="57.6%" stop-color="#64a2dd"/><stop offset="60.6%" stop-color="#609bda"/><stop offset="63.6%" stop-color="#5d96d8"/><stop offset="66.7%" stop-color="#5b94d7"/><stop offset="69.7%" stop-color="#5b93d7"/><stop offset="72.7%" stop-color="#5c94d8"/><stop offset="75.8%" stop-color="#5d97d8"/><stop offset="78.8%" stop-color="#5f9ada"/><stop offset="81.8%" stop-color="#619edb"/><stop offset="84.8%" stop-color="#63a1dc"/><stop offset="87.9%" stop-color="#65a4de"/><stop offset="90.9%" stop-color="#67a7df"/><stop offset="93.9%" stop-color="#66a6de"/><stop offset="97.0%" stop-color="#5080d0"/><stop offset="100.0%" stop-color="#4469be"/></linearGradient>
<linearGradient id="d56"><stop offset="0.0%" stop-color="#acd259"/><stop offset="3.0%" stop-color="#afd356"/><stop offset="6.1%" stop-color="#b0d355"/><stop offset="9.1%" stop-color="#afd357"/><stop offset="12.1%" stop-color="#a9d15c"/><stop offset="15.2%" stop-color="#96cc84"/><stop offset="18.2%" stop-color="#87c6b4"/><stop offset="21.2%" stop-color="#84c5c1"/><stop offset="24.2%" stop-color="#84c4c4"/><stop offset="27.3%" stop-color="#83c4c7"/><stop offset="30.3%" stop-color="#83c4ca"/><stop offset="33.3%" stop-color="#82c3cf"/><stop offset="36.4%" stop-color="#81c2d4"/><stop offset="39.4%" stop-color="#7fc1d9"/><stop offset="42.4%" stop-color="#7bbeda"/><stop offset="45.5%" stop-color="#77badd"/><stop offset="48.5%" stop-color="#72b6df"/><stop offset="51.5%" stop-color="#6db1e1"/><stop offset="54.5%" stop-color="#68a9df"/><stop offset="57.6%" stop-color="#62a0dc"/><stop offset="60.6%" stop-color="#5f99d9"/><stop offset="63.6%" stop-color="#5c94d8"/><stop offset="66.7%" stop-color="#5a92d7"/><stop offset="69.7%" stop-color="#5a91d7"/><stop offset="72.7%" stop-color="#5b93d7"/><stop offset="75.8%" stop-color="#5c95d8"/><stop offset="78.8%" stop-color="#5f99d9"/><stop offset="81.8%" stop-color="#619ddb"/><stop offset="84.8%" stop-color="#63a1dc"/><stop offset="87.9%" stop-color="#65a4de"/><stop offset="90.9%" stop-color="#67a7de"/><stop offset="93.9%" stop-color="#66a5de"/><stop offset="97.0%" stop-color="#5080d0"/><stop offset="100.0%" stop-color="#4468be"/></linearGradient>
<linearGradient id="d57"><stop offset="0.0%" stop-color="#b0d356"/><stop offset="3.0%" stop-color="#b4d452"/><stop offset="6.1%" stop-color="#b5d451"/><stop offset="9.1%" stop-color="#b3d453"/><stop offset="12.1%" stop-color="#add258"/><stop offset="15.2%" stop-color="#98cd7c"/><stop offset="18.2%" stop-color="#88c7b1"/><stop offset="21.2%" stop-color="#84c5c1"/><stop offset="24.2%" stop-color="#84c4c5"/><stop offset="27.3%" stop-color="#83c4c8"/><stop offset="30.3%" stop-color="#82c3cb"/><stop offset="33.3%" stop-color="#82c3d0"/><stop offset="36.4%" stop-color="#80c2d6"/><stop offset="39.4%" stop-color="#7ec0d9"/><stop offset="42.4%" stop-color="#7abddb"/><stop offset="45.5%" stop-color="#75b9dd"/><stop offset="48.5%" stop-color="#71b4e0"/><stop offset="51.5%" stop-color="#6cb0e2"/><stop offset="54.5%" stop-color="#66a6de"/><stop offset="57.6%" stop-color="#619edb"/><stop offset="60.6%" stop-color="#5e97d9"/><stop offset="63.6%" stop-color="#5b93d7"/><stop offset="66.7%" stop-color="#5a91d6"/><stop offset="69.7%" stop-color="#5990d6"/><stop offset="72.7%" stop-color="#5a92d7"/><stop offset="75.8%" stop-color="#5c94d8"/><stop offset="78.8%" stop-color="#5e98d9"/><stop offset="81.8%" stop-color="#609cdb"/><stop offset="84.8%" stop-color="#63a0dc"/><stop offset="87.9%" stop-color="#65a4dd"/><stop offset="90.9%" stop-color="#66a6de"/><stop offset="93.9%" stop-color="#66a5de"/><stop offset="97.0%" stop-color="#5080d0"/><stop offset="100.0%" stop-color="#4468be"/></linearGradient>
<linearGradient id="d58"><stop offset="0.0%" stop-color="#b4d452"/><stop offset="3.0%" stop-color="#b8d54e"/><stop offset="6.1%" stop-color="#b9d54d"/><stop offset="9.1%" stop-color="#b7d44f"/><stop offset="12.1%" stop-color="#b1d354"/><stop offset="15.2%" stop-color="#9bce75"/><stop offset="18.2%" stop-color="#88c7ae"/><stop offset="21.2%" stop-color="#84c5c1"/><stop offset="24.2%" stop-color="#84c4c5"/><stop offset="27.3%" stop-color="#83c4c9"/><stop offset="30.3%" stop-color="#82c3cd"/><stop offset="33.3%" stop-color="#81c3d2"/><stop offset="36.4%" stop-color="#80c2d8"/><stop offset="39.4%" stop-color="#7dbfda"/><stop offset="42.4%" stop-color="#79bbdc"/><stop offset="45.5%" stop-color="#74b7de"/><stop offset="48.5%" stop-color="#6fb3e0"/><stop offset="51.5%" stop-color="#6bade1"/><stop offset="54.5%" stop-color="#65a4dd"/><stop offset="57.6%" stop-color="#609cda"/><stop offset="60.6%" stop-color="#5d96d8"/><stop offset="63.6%" stop-color="#5a92d7"/><stop offset="66.7%" stop-color="#598fd6"/><stop offset="69.7%" stop-color="#598fd6"/><stop offset="72.7%" stop-color="#5a91d6"/><stop offset="75.8%" stop-color="#5b93d7"/><stop offset="78.8%" stop-color="#5e97d9"/><stop offset="81.8%" stop-color="#609cda"/><stop offset="84.8%" stop-color="#62a0dc"/><stop offset="87.9%" stop-color="#65a3dd"/><stop offset="90.9%" stop-color="#66a6de"/><stop offset="93.9%" stop-color="#66a5de"/><stop offset="97.0%" stop-color="#5080d0"/><stop offset="100.0%" stop-color="#4468be"/></linearGradient>
<linearGradient id="d59"><stop offset="0.0%" stop-color="#b8d54e"/><stop offset="3.0%" stop-color="#bcd64a"/><stop offset="6.1%" stop-color="#bdd649"/><stop offset="9.1%" stop-color="#bcd54b"/><stop offset="12.1%" stop-color="#b6d450"/><stop offset="15.2%" stop-color="#9ecf6d"/><stop offset="18.2%" stop-color="#89c7ab"/><stop offset="21.2%" stop-color="#84c5c2"/><stop offset="24.2%" stop-color="#83c4c6"/><stop offset="27.3%" stop-color="#83c4ca"/><stop offset="30.3%" stop-color="#82c3ce"/><stop offset="33.3%" stop-color="#81c3d3"/><stop offset="36.4%" stop-color="#7fc1d8"/><stop offset="39.4%" stop-color="#7cbeda"/><stop offset="42.4%" stop-color="#77badc"/><stop offset="45.5%" stop-color="#73b6df"/><stop offset="48.5%" stop-color="#6eb2e1"/><stop offset="51.5%" stop-color="#69abe0"/><stop offset="54.5%" stop-color="#64a2dd"/><stop offset="57.6%" stop-color="#5f9ada"/><stop offset="60.6%" stop-color="#5c95d8"/><stop offset="63.6%" stop-color="#5a91d6"/><stop offset="66.7%" stop-color="#588ed5"/><stop offset="69.7%" stop-color="#588ed5"/><stop offset="72.7%" stop-color="#5990d6"/><stop offset="75.8%" stop-color="#5b93d7"/><stop offset="78.8%" stop-color="#5d97d9"/><stop offset="81.8%" stop-color="#609bda"/><stop offset="84.8%" stop-color="#629fdc"/><stop offset="87.9%" stop-color="#64a3dd"/><stop offset="90.9%" stop-color="#66a6de"/><stop offset="93.9%" stop-color="#66a5de"/><stop offset="97.0%" stop-color="#5080d0"/><stop offset="100.0%" stop-color="#4468be"/></linearGradient>
<linearGradient id="d60"><stop offset="0.0%" stop-color="#bdd64a"/><stop offset="3.0%" stop-color="#c0d647"/><stop offset="6.1%" stop-color="#c1d647"/><stop offset="9.1%" stop-color="#bfd648"/><stop offset="12.1%" stop-color="#bad54d"/><stop offset="15.2%" stop-color="#a1d065"/><stop offset="18.2%" stop-color="#89c8a8"/><stop offset="21.2%" stop-color="#84c5c2"/><stop offset="24.2%" stop-color="#83c4c7"/><stop offset="27.3%" stop-color="#83c4cb"/><stop offset="30.3%" stop-color="#82c3cf"/><stop offset="33.3%" stop-color="#81c2d5"/><stop offset="36.4%" stop-color="#7ec0d9"/><stop offset="39.4%" stop-color="#7abddb"/><stop offset="42.4%" stop-color="#76b9dd"/><stop offset="45.5%" stop-color="#71b5df"/><stop offset="48.5%" stop-color="#6db1e1"/><stop offset="51.5%" stop-color="#68a9df"/><stop offset="54.5%" stop-color="#63a0dc"/><stop offset="57.6%" stop-color="#5f99d9"/><stop offset="60.6%" stop-color="#5b94d7"/><stop offset="63.6%" stop-color="#5990d6"/><stop offset="66.7%" stop-color="#588ed5"/><stop offset="69.7%" stop-color="#588ed5"/><stop offset="72.7%" stop-color="#598fd6"/><stop offset="75.8%" stop-color="#5b92d7"/><stop offset="78.8%" stop-color="#5d96d8"/><stop offset="81.8%" stop-color="#609bda"/><stop offset="84.8%" stop-color="#629fdc"/><stop offset="87.9%" stop-color="#64a3dd"/><stop offset="90.9%" stop-color="#66a6de"/><stop offset="93.9%" stop-color="#66a5de"/><stop offset="97.0%" stop-color="#5080d0"/><stop offset="100.0%" stop-color="#4468be"/></linearGradient>
<linearGradient id="d61"><stop offset="0.0%" stop-color="#c0d647"/><stop offset="3.0%" stop-color="#c3d744"/><stop offset="6.1%" stop-color="#c4d744"/><stop offset="9.1%" stop-color="#c2d745"/><stop offset="12.1%" stop-color="#bed649"/><stop offset="15.2%" stop-color="#a4d060"/><stop offset="18.2%" stop-color="#8ac8a4"/><stop offset="21.2%" stop-color="#84c5c2"/><stop offset="24.2%" stop-color="#83c4c8"/><stop offset="27.3%" stop-color="#82c3cc"/><stop offset="30.3%" stop-color="#81c3d1"/><stop offset="33.3%" stop-color="#80c2d7"/><stop offset="36.4%" stop-color="#7dbfd9"/><stop offset="39.4%" stop-color="#79bcdb"/><stop offset="42.4%" stop-color="#75b8de"/><stop offset="45.5%" stop-color="#70b4e0"/><stop offset="48.5%" stop-color="#6cb0e2"/><stop offset="51.5%" stop-color="#67a7df"/><stop offset="54.5%" stop-color="#629fdc"/><stop offset="57.6%" stop-color="#5e98d9"/><stop offset="60.6%" stop-color="#5b93d7"/><stop offset="63.6%" stop-color="#598fd6"/><stop offset="66.7%" stop-color="#588dd5"/><stop offset="69.7%" stop-color="#588dd5"/><stop offset="72.7%" stop-color="#598fd6"/><stop offset="75.8%" stop-color="#5b92d7"/><stop offset="78.8%" stop-color="#5d96d8"/><stop offset="81.8%" stop-color="#609bda"/><stop offset="84.8%" stop-color="#629fdc"/><stop offset="87.9%" stop-color="#64a3dd"/><stop offset="90.9%" stop-color="#66a6de"/><stop offset="93.9%" stop-color="#66a5de"/><stop offset="97.0%" stop-color="#5080d0"/><stop offset="100.0%" stop-color="#4468be"/></linearGradient>
<linearGradient id="d62"><stop offset="0.0%" stop-color="#c3d744"/><stop offset="3.0%" stop-color="#c6d841"/><stop offset="6.1%" stop-color="#c7d841"/><stop offset="9.1%" stop-color="#c6d842"/><stop offset="12.1%" stop-color="#c1d746"/><stop offset="15.2%" stop-color="#a8d15d"/><stop offset="18.2%" stop-color="#8cc99f"/><stop offset="21.2%" stop-color="#84c5c1"/><stop offset="24.2%" stop-color="#83c4c9"/><stop offset="27.3%" stop-color="#82c3cd"/><stop offset="30.3%" stop-color="#81c3d3"/><stop offset="33.3%" stop-color="#7fc1d8"/><stop offset="36.4%" stop-color="#7cbeda"/><stop offset="39.4%" stop-color="#78bbdc"/><stop offset="42.4%" stop-color="#73b6de"/><stop offset="45.5%" stop-color="#6fb3e1"/><stop offset="48.5%" stop-color="#6baee1"/><stop offset="51.5%" stop-color="#66a5de"/><stop offset="54.5%" stop-color="#619edb"/><stop offset="57.6%" stop-color="#5e98d9"/><stop offset="60.6%" stop-color="#5b93d7"/><stop offset="63.6%" stop-color="#598fd6"/><stop offset="66.7%" stop-color="#588dd5"/><stop offset="69.7%" stop-color="#588dd5"/><stop offset="72.7%" stop-color="#598fd6"/><stop offset="75.8%" stop-color="#5b92d7"/><stop offset="78.8%" stop-color="#5d96d8"/><stop offset="81.8%" stop-color="#609bda"/><stop offset="84.8%" stop-color="#629fdc"/><stop offset="87.9%" stop-color="#64a3dd"/><stop offset="90.9%" stop-color="#66a6de"/><stop offset="93.9%" stop-color="#66a5de"/><stop offset="97.0%" stop-color="#5080d0"/><stop offset="100.0%" stop-color="#4468be"/></linearGradient>
<linearGradient id="d63"><stop offset="0.0%" stop-color="#c6d841"/><stop offset="3.0%" stop-color="#cad83f"/><stop offset="6.1%" stop-color="#ccd83e"/><stop offset="9.1%" stop-color="#c9d83f"/><stop offset="12.1%" stop-color="#c4d744"/><stop offset="15.2%" stop-color="#abd25a"/><stop offset="18.2%" stop-color="#8ec999"/><stop offset="21.2%" stop-color="#84c5c1"/><stop offset="24.2%" stop-color="#83c4ca"/><stop offset="27.3%" stop-color="#82c3cf"/><stop offset="30.3%" stop-color="#81c2d5"/><stop offset="33.3%" stop-color="#7ec0d9"/><stop offset="36.4%" stop-color="#7bbddb"/><stop offset="39.4%" stop-color="#76b9dd"/><stop offset="42.4%" stop-color="#72b5df"/><stop offset="45.5%" stop-color="#6eb2e1"/><stop offset="48.5%" stop-color="#6aace1"/><stop offset="51.5%" stop-color="#65a4de"/><stop offset="54.5%" stop-color="#619ddb"/><stop offset="57.6%" stop-color="#5e98d9"/><stop offset="60.6%" stop-color="#5b93d7"/><stop offset="63.6%" stop-color="#598fd6"/><stop offset="66.7%" stop-color="#588ed5"/><stop offset="69.7%" stop-color="#588ed5"/><stop offset="72.7%" stop-color="#598fd6"/><stop offset="75.8%" stop-color="#5b92d7"/><stop offset="78.8%" stop-color="#5d96d8"/><stop offset="81.8%" stop-color="#609bda"/><stop offset="84.8%" stop-color="#629fdc"/><stop offset="87.9%" stop-color="#64a3dd"/><stop offset="90.9%" stop-color="#66a6de"/><stop offset="93.9%" stop-color="#66a5de"/><stop offset="97.0%" stop-color="#5080d0"/><stop offset="100.0%" stop-color="#4468be"/></linearGradient>
<linearGradient id="d64"><stop offset="0.0%" stop-color="#cad83f"/><stop offset="3.0%" stop-color="#cfd83c"/><stop offset="6.1%" stop-color="#d0d83c"/><stop offset="9.1%" stop-color="#ced83d"/><stop offset="12.1%" stop-color="#c7d841"/><stop offset="15.2%" stop-color="#afd356"/><stop offset="18.2%" stop-color="#90ca93"/><stop offset="21.2%" stop-color="#84c5c1"/><stop offset="24.2%" stop-color="#82c3cc"/><stop offset="27.3%" stop-color="#81c3d1"/><stop offset="30.3%" stop-color="#80c2d7"/><stop offset="33.3%" stop-color="#7dbfd9"/><stop offset="36.4%" stop-color="#79bcdb"/><stop offset="39.4%" stop-color="#75b8de"/><stop offset="42.4%" stop-color="#71b4e0"/><stop offset="45.5%" stop-color="#6db1e1"/><stop offset="48.5%" stop-color="#69abe0"/><stop offset="51.5%" stop-color="#65a3dd"/><stop offset="54.5%" stop-color="#619ddb"/><stop offset="57.6%" stop-color="#5e98d9"/><stop offset="60.6%" stop-color="#5b93d7"/><stop offset="63.6%" stop-color="#5990d6"/><stop offset="66.7%" stop-color="#588ed5"/><stop offset="69.7%" stop-color="#588ed5"/><stop offset="72.7%" stop-color="#5990d6"/><stop offset="75.8%" stop-color="#5b93d7"/><stop offset="78.8%" stop-color="#5d97d9"/><stop offset="81.8%" stop-color="#609bda"/><stop offset="84.8%" stop-color="#629fdc"/><stop offset="87.9%" stop-color="#64a3dd"/><stop offset="90.9%" stop-color="#66a6de"/><stop offset="93.9%" stop-color="#66a5de"/><stop offset="97.0%" stop-color="#5080d0"/><stop offset="100.0%" stop-color="#4468be"/></linearGradient>
<linearGradient id="d65"><stop offset="0.0%" stop-color="#cfd83d"/><stop offset="3.0%" stop-color="#d4d83a"/><stop offset="6.1%" stop-color="#d5d839"/><stop offset="9.1%" stop-color="#d3d83b"/><stop offset="12.1%" stop-color="#cbd83e"/><stop offset="15.2%" stop-color="#b3d353"/><stop offset="18.2%" stop-color="#92cb8d"/><stop offset="21.2%" stop-color="#85c5c0"/><stop offset="24.2%" stop-color="#82c3cd"/><stop offset="27.3%" stop-color="#81c3d2"/><stop offset="30.3%" stop-color="#7fc1d8"/><stop offset="33.3%" stop-color="#7cbeda"/><stop offset="36.4%" stop-color="#78bbdc"/><stop offset="39.4%" stop-color="#74b7de"/><stop offset="42.4%" stop-color="#70b3e0"/><stop offset="45.5%" stop-color="#6cb0e2"/><stop offset="48.5%" stop-color="#68a9e0"/><stop offset="51.5%" stop-color="#64a3dd"/><stop offset="54.5%" stop-color="#619ddb"/><stop offset="57.6%" stop-color="#5e98d9"/><stop offset="60.6%" stop-color="#5b94d7"/><stop offset="63.6%" stop-color="#5a90d6"/><stop offset="66.7%" stop-color="#598fd6"/><stop offset="69.7%" stop-color="#598fd6"/><stop offset="72.7%" stop-color="#5a90d6"/><stop offset="75.8%" stop-color="#5b93d7"/><stop offset="78.8%" stop-color="#5e97d9"/><stop offset="81.8%" stop-color="#609cda"/><stop offset="84.8%" stop-color="#62a0dc"/><stop offset="87.9%" stop-color="#65a3dd"/><stop offset="90.9%" stop-color="#66a6de"/><stop offset="93.9%" stop-color="#66a5de"/><stop offset="97.0%" stop-color="#5080d0"/><stop offset="100.0%" stop-color="#4468be"/></linearGradient>
<linearGradient id="d66"><stop offset="0.0%" stop-color="#d4d83a"/><stop offset="3.0%" stop-color="#d9d838"/><stop offset="6.1%" stop-color="#dad837"/><stop offset="9.1%" stop-color="#d8d838"/><stop offset="12.1%" stop-color="#d0d83c"/><stop offset="15.2%" stop-color="#b6d450"/><stop offset="18.2%" stop-color="#95cc87"/><stop offset="21.2%" stop-color="#85c5bf"/><stop offset="24.2%" stop-color="#82c3cf"/><stop offset="27.3%" stop-color="#81c2d4"/><stop offset="30.3%" stop-color="#7ec1d9"/><stop offset="33.3%" stop-color="#7bbddb"/><stop offset="36.4%" stop-color="#77b9dd"/><stop offset="39.4%" stop-color="#72b6df"/><stop offset="42.4%" stop-color="#6fb2e1"/><stop offset="45.5%" stop-color="#6cafe2"/><stop offset="48.5%" stop-color="#68a9df"/><stop offset="51.5%" stop-color="#64a3dd"/><stop offset="54.5%" stop-color="#619ddb"/><stop offset="57.6%" stop-color="#5e98d9"/><stop offset="60.6%" stop-color="#5c94d8"/><stop offset="63.6%" stop-color="#5a91d6"/><stop offset="66.7%" stop-color="#5990d6"/><stop offset="69.7%" stop-color="#5990d6"/><stop offset="72.7%" stop-color="#5a91d6"/><stop offset="75.8%" stop-color="#5c94d8"/><stop offset="78.8%" stop-color="#5e98d9"/><stop offset="81.8%" stop-color="#609cdb"/><stop offset="84.8%" stop-color="#63a0dc"/><stop offset="87.9%" stop-color="#65a4dd"/><stop offset="90.9%" stop-color="#66a6de"/><stop offset="93.9%" stop-color="#66a5de"/><stop offset="97.0%" stop-color="#5080d0"/><stop offset="100.0%" stop-color="#4468be"/></linearGradient>
<linearGradient id="d67"><stop offset="0.0%" stop-color="#d8d838"/><stop offset="3.0%" stop-color="#ddd835"/><stop offset="6.1%" stop-color="#dfd835"/><stop offset="9.1%" stop-color="#dcd836"/><stop offset="12.1%" stop-color="#d4d83a"/><stop offset="15.2%" stop-color="#b9d54d"/><stop offset="18.2%" stop-color="#97cc81"/><stop offset="21.2%" stop-color="#85c5bd"/><stop offset="24.2%" stop-color="#82c3d0"/><stop offset="27.3%" stop-color="#80c2d7"/><stop offset="30.3%" stop-color="#7dc0d9"/><stop offset="33.3%" stop-color="#79bcdb"/><stop offset="36.4%" stop-color="#75b8dd"/><stop offset="39.4%" stop-color="#71b5df"/><stop offset="42.4%" stop-color="#6eb2e1"/><stop offset="45.5%" stop-color="#6baee1"/><stop offset="48.5%" stop-color="#67a8df"/><stop offset="51.5%" stop-color="#64a3dd"/><stop offset="54.5%" stop-color="#619edb"/><stop offset="57.6%" stop-color="#5f99d9"/><stop offset="60.6%" stop-color="#5c95d8"/><stop offset="63.6%" stop-color="#5b92d7"/><stop offset="66.7%" stop-color="#5a91d6"/><stop offset="69.7%" stop-color="#5a91d6"/><stop offset="72.7%" stop-color="#5b92d7"/><stop offset="75.8%" stop-color="#5c95d8"/><stop offset="78.8%" stop-color="#5e99d9"/><stop offset="81.8%" stop-color="#619ddb"/><stop offset="84.8%" stop-color="#63a1dc"/><stop offset="87.9%" stop-color="#65a4de"/><stop offset="90.9%" stop-color="#67a7de"/><stop offset="93.9%" stop-color="#66a5de"/><stop offset="97.0%" stop-color="#5080d0"/><stop offset="100.0%" stop-color="#4468be"/></linearGradient>
<linearGradient id="d68"><stop offset="0.0%" stop-color="#ddd836"/><stop offset="3.0%" stop-color="#e2d833"/><stop offset="6.1%" stop-color="#e4d832"/><stop offset="9.1%" stop-color="#e1d834"/><stop offset="12.1%" stop-color="#d9d838"/><stop offset="15.2%" stop-color="#bdd64a"/><stop offset="18.2%" stop-color="#99cd7b"/><stop offset="21.2%" stop-color="#85c5bc"/><stop offset="24.2%" stop-color="#81c3d2"/><stop offset="27.3%" stop-color="#7fc2d8"/><stop offset="30.3%" stop-color="#7cbeda"/><stop offset="33.3%" stop-color="#78bbdc"/><stop offset="36.4%" stop-color="#74b7de"/><stop offset="39.4%" stop-color="#70b4e0"/><stop offset="42.4%" stop-color="#6db1e1"/><stop offset="45.5%" stop-color="#6aade1"/><stop offset="48.5%" stop-color="#67a8df"/><stop offset="51.5%" stop-color="#64a3dd"/><stop offset="54.5%" stop-color="#629edb"/><stop offset="57.6%" stop-color="#5f9ada"/><stop offset="60.6%" stop-color="#5d96d8"/><stop offset="63.6%" stop-color="#5b94d7"/><stop offset="66.7%" stop-color="#5b92d7"/><stop offset="69.7%" stop-color="#5b92d7"/><stop offset="72.7%" stop-color="#5c94d7"/><stop offset="75.8%" stop-color="#5d96d8"/><stop offset="78.8%" stop-color="#5f9ada"/><stop offset="81.8%" stop-color="#619edb"/><stop offset="84.8%" stop-color="#63a1dc"/><stop offset="87.9%" stop-color="#65a4de"/><stop offset="90.9%" stop-color="#67a7df"/><stop offset="93.9%" stop-color="#66a6de"/><stop offset="97.0%" stop-color="#5080d0"/><stop offset="100.0%" stop-color="#4469be"/></linearGradient>
<linearGradient id="d69"><stop offset="0.0%" stop-color="#e1d833"/><stop offset="3.0%" stop-color="#e7d831"/><stop offset="6.1%" stop-color="#e8d830"/><stop offset="9.1%" stop-color="#e6d831"/><stop offset="12.1%" stop-color="#ddd835"/><stop offset="15.2%" stop-color="#bfd648"/><stop offset="18.2%" stop-color="#9bce76"/><stop offset="21.2%" stop-color="#86c5ba"/><stop offset="24.2%" stop-color="#81c2d4"/><stop offset="27.3%" stop-color="#7ec1d9"/><stop offset="30.3%" stop-color="#7bbddb"/><stop offset="33.3%" stop-color="#77badd"/><stop offset="36.4%" stop-color="#73b6df"/><stop offset="39.4%" stop-color="#6fb3e0"/><stop offset="42.4%" stop-color="#6db1e2"/><stop offset="45.5%" stop-color="#6aace1"/><stop offset="48.5%" stop-color="#67a7df"/><stop offset="51.5%" stop-color="#64a3dd"/><stop offset="54.5%" stop-color="#629fdc"/><stop offset="57.6%" stop-color="#609bda"/><stop offset="60.6%" stop-color="#5e98d9"/><stop offset="63.6%" stop-color="#5c95d8"/><stop offset="66.7%" stop-color="#5b94d7"/><stop offset="69.7%" stop-color="#5c94d7"/><stop offset="72.7%" stop-color="#5c95d8"/><stop offset="75.8%" stop-color="#5e98d9"/><stop offset="78.8%" stop-color="#609bda"/><stop offset="81.8%" stop-color="#629edb"/><stop offset="84.8%" stop-color="#64a2dd"/><stop offset="87.9%" stop-color="#66a5de"/><stop offset="90.9%" stop-color="#67a7df"/><stop offset="93.9%" stop-color="#66a6de"/><stop offset="97.0%" stop-color="#5080d0"/><stop offset="100.0%" stop-color="#4469be"/></linearGradient>
<linearGradient id="d70"><stop offset="0.0%" stop-color="#e6d831"/><stop offset="3.0%" stop-color="#e8d530"/><stop offset="6.1%" stop-color="#e8d430"/><stop offset="9.1%" stop-color="#e8d630"/><stop offset="12.1%" stop-color="#e2d833"/><stop offset="15.2%" stop-color="#c2d745"/><stop offset="18.2%" stop-color="#9dce70"/><stop offset="21.2%" stop-color="#86c6b8"/><stop offset="24.2%" stop-color="#80c2d6"/><stop offset="27.3%" stop-color="#7dc0d9"/><stop offset="30.3%" stop-color="#79bcdb"/><stop offset="33.3%" stop-color="#75b8dd"/><stop offset="36.4%" stop-color="#71b5df"/><stop offset="39.4%" stop-color="#6fb2e1"/><stop offset="42.4%" stop-color="#6cb0e2"/><stop offset="45.5%" stop-color="#69ace0"/><stop offset="48.5%" stop-color="#67a7df"/><stop offset="51.5%" stop-color="#65a3dd"/><stop offset="54.5%" stop-color="#62a0dc"/><stop offset="57.6%" stop-color="#609cdb"/><stop offset="60.6%" stop-color="#5f99d9"/><stop offset="63.6%" stop-color="#5d97d8"/><stop offset="66.7%" stop-color="#5c95d8"/><stop offset="69.7%" stop-color="#5c95d8"/><stop offset="72.7%" stop-color="#5d97d8"/><stop offset="75.8%" stop-color="#5f99d9"/><stop offset="78.8%" stop-color="#609cdb"/><stop offset="81.8%" stop-color="#629fdc"/><stop offset="84.8%" stop-color="#64a3dd"/><stop offset="87.9%" stop-color="#66a5de"/><stop offset="90.9%" stop-color="#67a8df"/><stop offset="93.9%" stop-color="#66a6de"/><stop offset="97.0%" stop-color="#5080d0"/><stop offset="100.0%" stop-color="#4469be"/></linearGradient>
<linearGradient id="d71"><stop offset="0.0%" stop-color="#e8d630"/><stop offset="3.0%" stop-color="#e8d130"/><stop offset="6.1%" stop-color="#e8cf30"/><stop offset="9.1%" stop-color="#e8d230"/><stop offset="12.1%" stop-color="#e6d831"/><stop offset="15.2%" stop-color="#c4d743"/><stop offset="18.2%" stop-color="#9fcf6b"/><stop offset="21.2%" stop-color="#87c6b6"/><stop offset="24.2%" stop-color="#80c2d7"/><stop offset="27.3%" stop-color="#7cbeda"/><stop offset="30.3%" stop-color="#78bbdc"/><stop offset="33.3%" stop-color="#74b7de"/><stop offset="36.4%" stop-color="#70b4e0"/><stop offset="39.4%" stop-color="#6eb2e1"/><stop offset="42.4%" stop-color="#6cb0e2"/><stop offset="45.5%" stop-color="#69abe0"/><stop offset="48.5%" stop-color="#67a8df"/><stop offset="51.5%" stop-color="#65a4dd"/><stop offset="54.5%" stop-color="#63a1dc"/><stop offset="57.6%" stop-color="#619ddb"/><stop offset="60.6%" stop-color="#5f9ada"/><stop offset="63.6%" stop-color="#5e98d9"/><stop offset="66.7%" stop-color="#5d97d9"/><stop offset="69.7%" stop-color="#5d97d9"/><stop offset="72.7%" stop-color="#5e98d9"/><stop offset="75.8%" stop-color="#5f9ada"/><stop offset="78.8%" stop-color="#619ddb"/><stop offset="81.8%" stop-color="#63a0dc"/><stop offset="84.8%" stop-color="#65a3dd"/><stop offset="87.9%" stop-color="#66a6de"/><stop offset="90.9%" stop-color="#67a8df"/><stop offset="93.9%" stop-color="#66a6de"/><stop offset="97.0%" stop-color="#5080d0"/><stop offset="100.0%" stop-color="#4469be"/></linearGradient>
<linearGradient id="d72"><stop offset="0.0%" stop-color="#e8d230"/><stop offset="3.0%" stop-color="#e9cc30"/><stop offset="6.1%" stop-color="#e9cb30"/><stop offset="9.1%" stop-color="#e9ce30"/><stop offset="12.1%" stop-color="#e8d630"/><stop offset="15.2%" stop-color="#c7d841"/><stop offset="18.2%" stop-color="#a1d065"/><stop offset="21.2%" stop-color="#87c6b3"/><stop offset="24.2%" stop-color="#80c2d8"/><stop offset="27.3%" stop-color="#7bbddb"/><stop offset="30.3%" stop-color="#77b9dd"/><stop offset="33.3%" stop-color="#73b6df"/><stop offset="36.4%" stop-color="#70b3e0"/><stop offset="39.4%" stop-color="#6db1e1"/><stop offset="42.4%" stop-color="#6bafe2"/><stop offset="45.5%" stop-color="#69abe0"/><stop offset="48.5%" stop-color="#67a8df"/><stop offset="51.5%" stop-color="#65a5de"/><stop offset="54.5%" stop-color="#63a1dd"/><stop offset="57.6%" stop-color="#629edb"/><stop offset="60.6%" stop-color="#609cda"/><stop offset="63.6%" stop-color="#5f9ada"/><stop offset="66.7%" stop-color="#5e99d9"/><stop offset="69.7%" stop-color="#5e99d9"/><stop offset="72.7%" stop-color="#5f9ada"/><stop offset="75.8%" stop-color="#609cda"/><stop offset="78.8%" stop-color="#629edb"/><stop offset="81.8%" stop-color="#63a1dc"/><stop offset="84.8%" stop-color="#65a4de"/><stop offset="87.9%" stop-color="#66a7de"/><stop offset="90.9%" stop-color="#68a8df"/><stop offset="93.9%" stop-color="#66a6de"/><stop offset="97.0%" stop-color="#5081d0"/><stop offset="100.0%" stop-color="#4469bf"/></linearGradient>
<linearGradient id="d73"><stop offset="0.0%" stop-color="#e9ce30"/><stop offset="3.0%" stop-color="#e9c830"/><stop offset="6.1%" stop-color="#e9c730"/><stop offset="9.1%" stop-color="#e9c930"/><stop offset="12.1%" stop-color="#e8d230"/><stop offset="15.2%" stop-color="#c9d83f"/><stop offset="18.2%" stop-color="#a3d061"/><stop offset="21.2%" stop-color="#88c7b1"/><stop offset="24.2%" stop-color="#7fc1d8"/><stop offset="27.3%" stop-color="#79bcdb"/><stop offset="30.3%" stop-color="#75b8dd"/><stop offset="33.3%" stop-color="#72b5df"/><stop offset="36.4%" stop-color="#6fb2e1"/><stop offset="39.4%" stop-color="#6db1e2"/><stop offset="42.4%" stop-color="#6baee1"/><stop offset="45.5%" stop-color="#69abe0"/><stop offset="48.5%" stop-color="#67a8df"/><stop offset="51.5%" stop-color="#66a5de"/><stop offset="54.5%" stop-color="#64a2dd"/><stop offset="57.6%" stop-color="#62a0dc"/><stop offset="60.6%" stop-color="#619ddb"/><stop offset="63.6%" stop-color="#609bda"/><stop offset="66.7%" stop-color="#5f9ada"/><stop offset="69.7%" stop-color="#5f9bda"/><stop offset="72.7%" stop-color="#609cda"/><stop offset="75.8%" stop-color="#619ddb"/><stop offset="78.8%" stop-color="#63a0dc"/><stop offset="81.8%" stop-color="#64a2dd"/><stop offset="84.8%" stop-color="#65a5de"/><stop offset="87.9%" stop-color="#67a7df"/><stop offset="90.9%" stop-color="#68a9df"/><stop offset="93.9%" stop-color="#67a7df"/><stop offset="97.0%" stop-color="#5081d0"/><stop offset="100.0%" stop-color="#4469bf"/></linearGradient>
<linearGradient id="d74"><stop offset="0.0%" stop-color="#e9ca30"/><stop offset="3.0%" stop-color="#e9c430"/><stop offset="6.1%" stop-color="#e9c230"/><stop offset="9.1%" stop-color="#e9c530"/><stop offset="12.1%" stop-color="#e8ce30"/><stop offset="15.2%" stop-color="#ccd83e"/><stop offset="18.2%" stop-color="#a5d15f"/><stop offset="21.2%" stop-color="#88c7ae"/><stop offset="24.2%" stop-color="#7fc1d9"/><stop offset="27.3%" stop-color="#78bbdc"/><stop offset="30.3%" stop-color="#74b7de"/><stop offset="33.3%" stop-color="#71b4e0"/><stop offset="36.4%" stop-color="#6eb2e1"/><stop offset="39.4%" stop-color="#6cb0e2"/><stop offset="42.4%" stop-color="#6baee1"/><stop offset="45.5%" stop-color="#69abe0"/><stop offset="48.5%" stop-color="#68a8df"/><stop offset="51.5%" stop-color="#66a6de"/><stop offset="54.5%" stop-color="#65a3dd"/><stop offset="57.6%" stop-color="#63a1dc"/><stop offset="60.6%" stop-color="#629fdc"/><stop offset="63.6%" stop-color="#619ddb"/><stop offset="66.7%" stop-color="#609cdb"/><stop offset="69.7%" stop-color="#609cdb"/><stop offset="72.7%" stop-color="#619ddb"/><stop offset="75.8%" stop-color="#629fdc"/><stop offset="78.8%" stop-color="#63a1dc"/><stop offset="81.8%" stop-color="#65a3dd"/><stop offset="84.8%" stop-color="#66a6de"/><stop offset="87.9%" stop-color="#67a8df"/><stop offset="90.9%" stop-color="#68a9df"/><stop offset="93.9%" stop-color="#67a7df"/><stop offset="97.0%" stop-color="#5181d0"/><stop offset="100.0%" stop-color="#4469bf"/></linearGradient>
<linearGradient id="d75"><stop offset="0.0%" stop-color="#e9c630"/><stop offset="3.0%" stop-color="#e9c030"/><stop offset="6.1%" stop-color="#e9be30"/><stop offset="9.1%" stop-color="#e9c130"/><stop offset="12.1%" stop-color="#e9ca30"/><stop offset="15.2%" stop-color="#d0d83c"/><stop offset="18.2%" stop-color="#a8d15d"/><stop offset="21.2%" stop-color="#88c7ac"/><stop offset="24.2%" stop-color="#7fc1d9"/><stop offset="27.3%" stop-color="#76b9dd"/><stop offset="30.3%" stop-color="#73b6df"/><stop offset="33.3%" stop-color="#70b3e0"/><stop offset="36.4%" stop-color="#6db1e1"/><stop offset="39.4%" stop-color="#6cb0e2"/><stop offset="42.4%" stop-color="#6aade1"/><stop offset="45.5%" stop-color="#69abe0"/><stop offset="48.5%" stop-color="#68a9df"/><stop offset="51.5%" stop-color="#66a7de"/><stop offset="54.5%" stop-color="#65a4de"/><stop offset="57.6%" stop-color="#64a2dd"/><stop offset="60.6%" stop-color="#63a0dc"/><stop offset="63.6%" stop-color="#629fdb"/><stop offset="66.7%" stop-color="#619edb"/><stop offset="69.7%" stop-color="#619edb"/><stop offset="72.7%" stop-color="#629fdc"/><stop offset="75.8%" stop-color="#63a0dc"/><stop offset="78.8%" stop-color="#64a2dd"/><stop offset="81.8%" stop-color="#65a4de"/><stop offset="84.8%" stop-color="#66a6de"/><stop offset="87.9%" stop-color="#67a8df"/><stop offset="90.9%" stop-color="#68a9e0"/><stop offset="93.9%" stop-color="#67a7df"/><stop offset="97.0%" stop-color="#5181d0"/><stop offset="100.0%" stop-color="#4469bf"/></linearGradient>
<linearGradient id="d76"><stop offset="0.0%" stop-color="#e9c230"/><stop offset="3.0%" stop-color="#e9bb30"/><stop offset="6.1%" stop-color="#eab930"/><stop offset="9.1%" stop-color="#e9bd30"/><stop offset="12.1%" stop-color="#e9c730"/><stop offset="15.2%" stop-color="#d2d83b"/><stop offset="18.2%" stop-color="#aad25b"/><stop offset="21.2%" stop-color="#89c7a9"/><stop offset="24.2%" stop-color="#7fc1d9"/><stop offset="27.3%" stop-color="#75b8de"/><stop offset="30.3%" stop-color="#71b5df"/><stop offset="33.3%" stop-color="#6fb3e1"/><stop offset="36.4%" stop-color="#6db1e1"/><stop offset="39.4%" stop-color="#6cafe2"/><stop offset="42.4%" stop-color="#6aade1"/><stop offset="45.5%" stop-color="#69abe0"/><stop offset="48.5%" stop-color="#68a9df"/><stop offset="51.5%" stop-color="#67a7df"/><stop offset="54.5%" stop-color="#66a5de"/><stop offset="57.6%" stop-color="#65a3dd"/><stop offset="60.6%" stop-color="#64a1dd"/><stop offset="63.6%" stop-color="#63a0dc"/><stop offset="66.7%" stop-color="#62a0dc"/><stop offset="69.7%" stop-color="#62a0dc"/><stop offset="72.7%" stop-color="#63a0dc"/><stop offset="75.8%" stop-color="#64a2dd"/><stop offset="78.8%" stop-color="#65a3dd"/><stop offset="81.8%" stop-color="#66a5de"/><stop offset="84.8%" stop-color="#67a7df"/><stop offset="87.9%" stop-color="#68a9df"/><stop offset="90.9%" stop-color="#68aae0"/><stop offset="93.9%" stop-color="#67a7df"/><stop offset="97.0%" stop-color="#5181d0"/><stop offset="100.0%" stop-color="#4469bf"/></linearGradient>
<linearGradient id="d77"><stop offset="0.0%" stop-color="#e9be30"/><stop offset="3.0%" stop-color="#eab230"/><stop offset="6.1%" stop-color="#e8a52e"/><stop offset="9.1%" stop-color="#eab930"/><stop offset="12.1%" stop-color="#e9c330"/><stop offset="15.2%" stop-color="#d5d839"/><stop offset="18.2%" stop-color="#acd259"/><stop offset="21.2%" stop-color="#89c8a7"/><stop offset="24.2%" stop-color="#7fc1d9"/><stop offset="27.3%" stop-color="#74b7de"/><stop offset="30.3%" stop-color="#70b4e0"/><stop offset="33.3%" stop-color="#6eb2e1"/><stop offset="36.4%" stop-color="#6db1e2"/><stop offset="39.4%" stop-color="#6bafe2"/><stop offset="42.4%" stop-color="#6aade1"/><stop offset="45.5%" stop-color="#69abe0"/><stop offset="48.5%" stop-color="#68a9e0"/><stop offset="51.5%" stop-color="#67a8df"/><stop offset="54.5%" stop-color="#66a6de"/><stop offset="57.6%" stop-color="#65a4de"/><stop offset="60.6%" stop-color="#64a3dd"/><stop offset="63.6%" stop-color="#64a2dd"/><stop offset="66.7%" stop-color="#63a1dc"/><stop offset="69.7%" stop-color="#63a1dc"/><stop offset="72.7%" stop-color="#64a2dd"/><stop offset="75.8%" stop-color="#64a3dd"/><stop offset="78.8%" stop-color="#65a4de"/><stop offset="81.8%" stop-color="#66a6de"/><stop offset="84.8%" stop-color="#67a8df"/><stop offset="87.9%" stop-color="#68a9df"/><stop offset="90.9%" stop-color="#69aae0"/><stop offset="93.9%" stop-color="#67a8df"/><stop offset="97.0%" stop-color="#5181d0"/><stop offset="100.0%" stop-color="#4469bf"/></linearGradient>
<linearGradient id="d78"><stop offset="0.0%" stop-color="#e9ba30"/><stop offset="3.0%" stop-color="#e6952c"/><stop offset="6.1%" stop-color="#e4862a"/><stop offset="9.1%" stop-color="#e8a22e"/><stop offset="12.1%" stop-color="#e9c030"/><stop offset="15.2%" stop-color="#d8d838"/><stop offset="18.2%" stop-color="#aed357"/><stop offset="21.2%" stop-color="#8ac8a5"/><stop offset="24.2%" stop-color="#7fc1d8"/><stop offset="27.3%" stop-color="#72b6df"/><stop offset="30.3%" stop-color="#70b3e0"/><stop offset="33.3%" stop-color="#6eb1e1"/><stop offset="36.4%" stop-color="#6cb0e2"/><stop offset="39.4%" stop-color="#6baee1"/><stop offset="42.4%" stop-color="#6aade1"/><stop offset="45.5%" stop-color="#69abe0"/><stop offset="48.5%" stop-color="#68aae0"/><stop offset="51.5%" stop-color="#68a8df"/><stop offset="54.5%" stop-color="#67a7df"/><stop offset="57.6%" stop-color="#66a5de"/><stop offset="60.6%" stop-color="#65a4de"/><stop offset="63.6%" stop-color="#64a3dd"/><stop offset="66.7%" stop-color="#64a3dd"/><stop offset="69.7%" stop-color="#64a3dd"/><stop offset="72.7%" stop-color="#64a3dd"/><stop offset="75.8%" stop-color="#65a4de"/><stop offset="78.8%" stop-color="#66a5de"/><stop offset="81.8%" stop-color="#67a7df"/><stop offset="84.8%" stop-color="#68a8df"/><stop offset="87.9%" stop-color="#68aae0"/><stop offset="90.9%" stop-color="#69aae0"/><stop offset="93.9%" stop-color="#67a8df"/><stop offset="97.0%" stop-color="#5181d1"/><stop offset="100.0%" stop-color="#4469bf"/></linearGradient>
<linearGradient id="d79"><stop offset="0.0%" stop-color="#eab030"/><stop offset="3.0%" stop-color="#e27828"/><stop offset="6.1%" stop-color="#e06a26"/><stop offset="9.1%" stop-color="#e4862a"/><stop offset="12.1%" stop-color="#e9bc30"/><stop offset="15.2%" stop-color="#dad837"/><stop offset="18.2%" stop-color="#b0d356"/><stop offset="21.2%" stop-color="#8bc8a2"/><stop offset="24.2%" stop-color="#80c2d8"/><stop offset="27.3%" stop-color="#71b5df"/><stop offset="30.3%" stop-color="#6fb2e1"/><stop offset="33.3%" stop-color="#6db1e1"/><stop offset="36.4%" stop-color="#6cb0e2"/><stop offset="39.4%" stop-color="#6baee1"/><stop offset="42.4%" stop-color="#6aade1"/><stop offset="45.5%" stop-color="#69abe0"/><stop offset="48.5%" stop-color="#69aae0"/><stop offset="51.5%" stop-color="#68a9df"/><stop offset="54.5%" stop-color="#67a8df"/><stop offset="57.6%" stop-color="#66a6de"/><stop offset="60.6%" stop-color="#66a5de"/><stop offset="63.6%" stop-color="#65a4de"/><stop offset="66.7%" stop-color="#65a4dd"/><stop offset="69.7%" stop-color="#65a4dd"/><stop offset="72.7%" stop-color="#65a4de"/><stop offset="75.8%" stop-color="#66a5de"/><stop offset="78.8%" stop-color="#66a6de"/><stop offset="81.8%" stop-color="#67a8df"/><stop offset="84.8%" stop-color="#68a9df"/><stop offset="87.9%" stop-color="#68aae0"/><stop offset="90.9%" stop-color="#69abe0"/><stop offset="93.9%" stop-color="#67a8df"/><stop offset="97.0%" stop-color="#5182d1"/><stop offset="100.0%" stop-color="#4469bf"/></linearGradient>
<linearGradient id="d80"><stop offset="0.0%" stop-color="#e7982d"/><stop offset="3.0%" stop-color="#dd5b24"/><stop offset="6.1%" stop-color="#d84120"/><stop offset="9.1%" stop-color="#e06d26"/><stop offset="12.1%" stop-color="#eab930"/><stop offset="15.2%" stop-color="#ddd836"/><stop offset="18.2%" stop-color="#b2d354"/><stop offset="21.2%" stop-color="#8cc99e"/><stop offset="24.2%" stop-color="#80c2d8"/><stop offset="27.3%" stop-color="#70b4e0"/><stop offset="30.3%" stop-color="#6eb2e1"/><stop offset="33.3%" stop-color="#6db1e2"/><stop offset="36.4%" stop-color="#6cafe2"/><stop offset="39.4%" stop-color="#6baee1"/><stop offset="42.4%" stop-color="#6aade1"/><stop offset="45.5%" stop-color="#69ace0"/><stop offset="48.5%" stop-color="#69abe0"/><stop offset="51.5%" stop-color="#68a9e0"/><stop offset="54.5%" stop-color="#68a8df"/><stop offset="57.6%" stop-color="#67a7df"/><stop offset="60.6%" stop-color="#66a6de"/><stop offset="63.6%" stop-color="#66a5de"/><stop offset="66.7%" stop-color="#66a5de"/><stop offset="69.7%" stop-color="#66a5de"/><stop offset="72.7%" stop-color="#66a6de"/><stop offset="75.8%" stop-color="#66a6de"/><stop offset="78.8%" stop-color="#67a7df"/><stop offset="81.8%" stop-color="#68a8df"/><stop offset="84.8%" stop-color="#68a9e0"/><stop offset="87.9%" stop-color="#69aae0"/><stop offset="90.9%" stop-color="#69abe0"/><stop offset="93.9%" stop-color="#67a8df"/><stop offset="97.0%" stop-color="#5182d1"/><stop offset="100.0%" stop-color="#4469bf"/></linearGradient>
<linearGradient id="d81"><stop offset="0.0%" stop-color="#e38229"/><stop offset="3.0%" stop-color="#d53a20"/><stop offset="6.1%" stop-color="#cc2920"/><stop offset="9.1%" stop-color="#da4c22"/><stop offset="12.1%" stop-color="#eaad30"/><stop offset="15.2%" stop-color="#dfd835"/><stop offset="18.2%" stop-color="#b3d452"/><stop offset="21.2%" stop-color="#8dc99b"/><stop offset="24.2%" stop-color="#80c2d6"/><stop offset="27.3%" stop-color="#6fb3e0"/><stop offset="30.3%" stop-color="#6db1e1"/><stop offset="33.3%" stop-color="#6cb0e2"/><stop offset="36.4%" stop-color="#6bafe2"/><stop offset="39.4%" stop-color="#6aade1"/><stop offset="42.4%" stop-color="#6aace1"/><stop offset="45.5%" stop-color="#69ace0"/><stop offset="48.5%" stop-color="#69abe0"/><stop offset="51.5%" stop-color="#68aae0"/><stop offset="54.5%" stop-color="#68a9df"/><stop offset="57.6%" stop-color="#67a8df"/><stop offset="60.6%" stop-color="#67a7df"/><stop offset="63.6%" stop-color="#66a6de"/><stop offset="66.7%" stop-color="#66a6de"/><stop offset="69.7%" stop-color="#66a6de"/><stop offset="72.7%" stop-color="#66a6de"/><stop offset="75.8%" stop-color="#67a7df"/><stop offset="78.8%" stop-color="#67a8df"/><stop offset="81.8%" stop-color="#68a9df"/><stop offset="84.8%" stop-color="#68aae0"/><stop offset="87.9%" stop-color="#69abe0"/><stop offset="90.9%" stop-color="#69abe0"/><stop offset="93.9%" stop-color="#67a8df"/><stop offset="97.0%" stop-color="#5182d1"/><stop offset="100.0%" stop-color="#4469bf"/></linearGradient>
<linearGradient id="d82"><stop offset="0.0%" stop-color="#e06e27"/><stop offset="3.0%" stop-color="#ca2420"/><stop offset="6.1%" stop-color="#c41f1f"/><stop offset="9.1%" stop-color="#d23320"/><stop offset="12.1%" stop-color="#e79b2d"/><stop offset="15.2%" stop-color="#e1d834"/><stop offset="18.2%" stop-color="#b5d451"/><stop offset="21.2%" stop-color="#8ec998"/><stop offset="24.2%" stop-color="#81c2d5"/><stop offset="27.3%" stop-color="#6fb2e1"/><stop offset="30.3%" stop-color="#6db1e2"/><stop offset="33.3%" stop-color="#6cb0e2"/><stop offset="36.4%" stop-color="#6baee1"/><stop offset="39.4%" stop-color="#6aade1"/><stop offset="42.4%" stop-color="#6aace1"/><stop offset="45.5%" stop-color="#69ace0"/><stop offset="48.5%" stop-color="#69abe0"/><stop offset="51.5%" stop-color="#69aae0"/><stop offset="54.5%" stop-color="#68a9df"/><stop offset="57.6%" stop-color="#68a8df"/><stop offset="60.6%" stop-color="#67a8df"/><stop offset="63.6%" stop-color="#67a7df"/><stop offset="66.7%" stop-color="#67a7df"/><stop offset="69.7%" stop-color="#67a7df"/><stop offset="72.7%" stop-color="#67a7df"/><stop offset="75.8%" stop-color="#67a8df"/><stop offset="78.8%" stop-color="#68a8df"/><stop offset="81.8%" stop-color="#68a9df"/><stop offset="84.8%" stop-color="#69aae0"/><stop offset="87.9%" stop-color="#69abe0"/><stop offset="90.9%" stop-color="#69abe0"/><stop offset="93.9%" stop-color="#67a8df"/><stop offset="97.0%" stop-color="#5181d1"/><stop offset="100.0%" stop-color="#4469bf"/></linearGradient>
<linearGradient id="d83"><stop offset="0.0%" stop-color="#dc5924"/><stop offset="3.0%" stop-color="#c31f1f"/><stop offset="6.1%" stop-color="#bd1e1e"/><stop offset="9.1%" stop-color="#c92120"/><stop offset="12.1%" stop-color="#e58b2b"/><stop offset="15.2%" stop-color="#e2d833"/><stop offset="18.2%" stop-color="#b6d450"/><stop offset="21.2%" stop-color="#8fca96"/><stop offset="24.2%" stop-color="#81c3d3"/><stop offset="27.3%" stop-color="#6eb2e1"/><stop offset="30.3%" stop-color="#6cb0e2"/><stop offset="33.3%" stop-color="#6bafe1"/><stop offset="36.4%" stop-color="#6aade1"/><stop offset="39.4%" stop-color="#6aace1"/><stop offset="42.4%" stop-color="#6aace0"/><stop offset="45.5%" stop-color="#69abe0"/><stop offset="48.5%" stop-color="#69abe0"/><stop offset="51.5%" stop-color="#68aae0"/><stop offset="54.5%" stop-color="#68a9df"/><stop offset="57.6%" stop-color="#68a9df"/><stop offset="60.6%" stop-color="#67a8df"/><stop offset="63.6%" stop-color="#67a8df"/><stop offset="66.7%" stop-color="#67a7df"/><stop offset="69.7%" stop-color="#67a7df"/><stop offset="72.7%" stop-color="#67a8df"/><stop offset="75.8%" stop-color="#67a8df"/><stop offset="78.8%" stop-color="#68a9df"/><stop offset="81.8%" stop-color="#68a9df"/><stop offset="84.8%" stop-color="#68aae0"/><stop offset="87.9%" stop-color="#69aae0"/><stop offset="90.9%" stop-color="#69abe0"/><stop offset="93.9%" stop-color="#67a8df"/><stop offset="97.0%" stop-color="#5181d0"/><stop offset="100.0%" stop-color="#4469be"/></linearGradient>
<linearGradient id="d84"><stop offset="0.0%" stop-color="#d94320"/><stop offset="3.0%" stop-color="#be1e1e"/><stop offset="6.1%" stop-color="#b61c1c"/><stop offset="9.1%" stop-color="#c41f1f"/><stop offset="12.1%" stop-color="#e37e29"/><stop offset="15.2%" stop-color="#e3d833"/><stop offset="18.2%" stop-color="#b7d44f"/><stop offset="21.2%" stop-color="#90ca94"/><stop offset="24.2%" stop-color="#81c3d2"/><stop offset="27.3%" stop-color="#6db1e2"/><stop offset="30.3%" stop-color="#6bafe2"/><stop offset="33.3%" stop-color="#6aade1"/><stop offset="36.4%" stop-color="#6aace0"/><stop offset="39.4%" stop-color="#69abe0"/><stop offset="42.4%" stop-color="#69abe0"/><stop offset="45.5%" stop-color="#69aae0"/><stop offset="48.5%" stop-color="#68aae0"/><stop offset="51.5%" stop-color="#68a9df"/><stop offset="54.5%" stop-color="#68a8df"/><stop offset="57.6%" stop-color="#67a8df"/><stop offset="60.6%" stop-color="#67a7df"/><stop offset="63.6%" stop-color="#67a7df"/><stop offset="66.7%" stop-color="#67a7df"/><stop offset="69.7%" stop-color="#67a7df"/><stop offset="72.7%" stop-color="#67a7df"/><stop offset="75.8%" stop-color="#67a7df"/><stop offset="78.8%" stop-color="#67a8df"/><stop offset="81.8%" stop-color="#68a8df"/><stop offset="84.8%" stop-color="#68a9df"/><stop offset="87.9%" stop-color="#68a9e0"/><stop offset="90.9%" stop-color="#68aae0"/><stop offset="93.9%" stop-color="#67a7de"/><stop offset="97.0%" stop-color="#5080d0"/><stop offset="100.0%" stop-color="#4468be"/></linearGradient>
<linearGradient id="d85"><stop offset="0.0%" stop-color="#d43920"/><stop offset="3.0%" stop-color="#ba1d1d"/><stop offset="6.1%" stop-color="#af1b1b"/><stop offset="9.1%" stop-color="#c11f1f"/><stop offset="12.1%" stop-color="#e27628"/><stop offset="15.2%" stop-color="#e1d833"/><stop offset="18.2%" stop-color="#b6d450"/><stop offset="21.2%" stop-color="#90ca95"/><stop offset="24.2%" stop-color="#81c3d3"/><stop offset="27.3%" stop-color="#6baee1"/><stop offset="30.3%" stop-color="#69abe0"/><stop offset="33.3%" stop-color="#68a9e0"/><stop offset="36.4%" stop-color="#68a9df"/><stop offset="39.4%" stop-color="#67a8df"/><stop offset="42.4%" stop-color="#67a8df"/><stop offset="45.5%" stop-color="#67a7df"/><stop offset="48.5%" stop-color="#67a7df"/><stop offset="51.5%" stop-color="#66a6de"/><stop offset="54.5%" stop-color="#66a6de"/><stop offset="57.6%" stop-color="#66a5de"/><stop offset="60.6%" stop-color="#66a5de"/><stop offset="63.6%" stop-color="#65a5de"/><stop offset="66.7%" stop-color="#65a4de"/><stop offset="69.7%" stop-color="#65a4de"/><stop offset="72.7%" stop-color="#65a5de"/><stop offset="75.8%" stop-color="#66a5de"/><stop offset="78.8%" stop-color="#66a5de"/><stop offset="81.8%" stop-color="#66a6de"/><stop offset="84.8%" stop-color="#66a6de"/><stop offset="87.9%" stop-color="#67a7df"/><stop offset="90.9%" stop-color="#67a7df"/><stop offset="93.9%" stop-color="#65a4dd"/><stop offset="97.0%" stop-color="#4f7ecf"/><stop offset="100.0%" stop-color="#4367bd"/></linearGradient>
<linearGradient id="d86"><stop offset="0.0%" stop-color="#d23320"/><stop offset="3.0%" stop-color="#b81d1d"/><stop offset="6.1%" stop-color="#a91a1a"/><stop offset="9.1%" stop-color="#c01e1e"/><stop offset="12.1%" stop-color="#e27528"/><stop offset="15.2%" stop-color="#dcd836"/><stop offset="18.2%" stop-color="#b2d353"/><stop offset="21.2%" stop-color="#8dc99c"/><stop offset="24.2%" stop-color="#80c2d8"/><stop offset="27.3%" stop-color="#66a6de"/><stop offset="30.3%" stop-color="#65a4dd"/><stop offset="33.3%" stop-color="#64a2dd"/><stop offset="36.4%" stop-color="#64a2dd"/><stop offset="39.4%" stop-color="#63a1dc"/><stop offset="42.4%" stop-color="#63a1dc"/><stop offset="45.5%" stop-color="#63a0dc"/><stop offset="48.5%" stop-color="#63a0dc"/><stop offset="51.5%" stop-color="#62a0dc"/><stop offset="54.5%" stop-color="#629fdc"/><stop offset="57.6%" stop-color="#629fdc"/><stop offset="60.6%" stop-color="#629fdb"/><stop offset="63.6%" stop-color="#629edb"/><stop offset="66.7%" stop-color="#629edb"/><stop offset="69.7%" stop-color="#629edb"/><stop offset="72.7%" stop-color="#629edb"/><stop offset="75.8%" stop-color="#629fdb"/><stop offset="78.8%" stop-color="#629fdc"/><stop offset="81.8%" stop-color="#629fdc"/><stop offset="84.8%" stop-color="#62a0dc"/><stop offset="87.9%" stop-color="#63a0dc"/><stop offset="90.9%" stop-color="#63a0dc"/><stop offset="93.9%" stop-color="#619ddb"/><stop offset="97.0%" stop-color="#4e7bcc"/><stop offset="100.0%" stop-color="#4263ba"/></linearGradient>
<linearGradient id="d87"><stop offset="0.0%" stop-color="#d23320"/><stop offset="3.0%" stop-color="#b81d1d"/><stop offset="6.1%" stop-color="#ac1a1a"/><stop offset="9.1%" stop-color="#c21f1f"/><stop offset="12.1%" stop-color="#e4842a"/><stop offset="15.2%" stop-color="#cad83f"/><stop offset="18.2%" stop-color="#a6d15f"/><stop offset="21.2%" stop-color="#88c7b0"/><stop offset="24.2%" stop-color="#79bcdb"/><stop offset="27.3%" stop-color="#5e98d9"/><stop offset="30.3%" stop-color="#5c95d8"/><stop offset="33.3%" stop-color="#5c94d7"/><stop offset="36.4%" stop-color="#5b93d7"/><stop offset="39.4%" stop-color="#5b93d7"/><stop offset="42.4%" stop-color="#5b93d7"/><stop offset="45.5%" stop-color="#5b92d7"/><stop offset="48.5%" stop-color="#5b92d7"/><stop offset="51.5%" stop-color="#5a92d7"/><stop offset="54.5%" stop-color="#5a91d7"/><stop offset="57.6%" stop-color="#5a91d6"/><stop offset="60.6%" stop-color="#5a91d6"/><stop offset="63.6%" stop-color="#5a91d6"/><stop offset="66.7%" stop-color="#5a90d6"/><stop offset="69.7%" stop-color="#5a91d6"/><stop offset="72.7%" stop-color="#5a91d6"/><stop offset="75.8%" stop-color="#5a91d6"/><stop offset="78.8%" stop-color="#5a91d6"/><stop offset="81.8%" stop-color="#5a91d7"/><stop offset="84.8%" stop-color="#5a92d7"/><stop offset="87.9%" stop-color="#5a92d7"/><stop offset="90.9%" stop-color="#5b92d7"/><stop offset="93.9%" stop-color="#598fd6"/><stop offset="97.0%" stop-color="#4a74c7"/><stop offset="100.0%" stop-color="#3e5cb3"/></linearGradient>
<linearGradient id="d88"><stop offset="0.0%" stop-color="#d63b20"/><stop offset="3.0%" stop-color="#bd1e1e"/><stop offset="6.1%" stop-color="#b51c1c"/><stop offset="9.1%" stop-color="#c92320"/><stop offset="12.1%" stop-color="#eaae30"/><stop offset="15.2%" stop-color="#add258"/><stop offset="18.2%" stop-color="#8fca96"/><stop offset="21.2%" stop-color="#80c2d8"/><stop offset="24.2%" stop-color="#69abe0"/><stop offset="27.3%" stop-color="#5080d0"/><stop offset="30.3%" stop-color="#4f7fcf"/><stop offset="33.3%" stop-color="#4f7ecf"/><stop offset="36.4%" stop-color="#4f7ece"/><stop offset="39.4%" stop-color="#4f7ece"/><stop offset="42.4%" stop-color="#4f7dce"/><stop offset="45.5%" stop-color="#4f7dce"/><stop offset="48.5%" stop-color="#4f7dce"/><stop offset="51.5%" stop-color="#4f7dce"/><stop offset="54.5%" stop-color="#4e7dce"/><stop offset="57.6%" stop-color="#4e7dce"/><stop offset="60.6%" stop-color="#4e7dce"/><stop offset="63.6%" stop-color="#4e7dcd"/><stop offset="66.7%" stop-color="#4e7dcd"/><stop offset="69.7%" stop-color="#4e7dcd"/><stop offset="72.7%" stop-color="#4e7dcd"/><stop offset="75.8%" stop-color="#4e7dce"/><stop offset="78.8%" stop-color="#4e7dce"/><stop offset="81.8%" stop-color="#4e7dce"/><stop offset="84.8%" stop-color="#4f7dce"/><stop offset="87.9%" stop-color="#4f7dce"/><stop offset="90.9%" stop-color="#4f7dce"/><stop offset="93.9%" stop-color="#4e7ccd"/><stop offset="97.0%" stop-color="#4468be"/><stop offset="100.0%" stop-color="#384fa5"/></linearGradient>
<linearGradient id="d89"><stop offset="0.0%" stop-color="#db4f22"/><stop offset="3.0%" stop-color="#c31f1f"/><stop offset="6.1%" stop-color="#c01e1e"/><stop offset="9.1%" stop-color="#d13120"/><stop offset="12.1%" stop-color="#d6d839"/><stop offset="15.2%" stop-color="#8ac8a6"/><stop offset="18.2%" stop-color="#7ec1d9"/><stop offset="21.2%" stop-color="#64a2dd"/><stop offset="24.2%" stop-color="#4c79cb"/><stop offset="27.3%" stop-color="#4972c5"/><stop offset="30.3%" stop-color="#4870c4"/><stop offset="33.3%" stop-color="#4870c4"/><stop offset="36.4%" stop-color="#486fc4"/><stop offset="39.4%" stop-color="#486fc3"/><stop offset="42.4%" stop-color="#486fc3"/><stop offset="45.5%" stop-color="#486fc3"/><stop offset="48.5%" stop-color="#476fc3"/><stop offset="51.5%" stop-color="#476fc3"/><stop offset="54.5%" stop-color="#476fc3"/><stop offset="57.6%" stop-color="#476fc3"/><stop offset="60.6%" stop-color="#476fc3"/><stop offset="63.6%" stop-color="#476fc3"/><stop offset="66.7%" stop-color="#476ec3"/><stop offset="69.7%" stop-color="#476ec3"/><stop offset="72.7%" stop-color="#476fc3"/><stop offset="75.8%" stop-color="#476fc3"/><stop offset="78.8%" stop-color="#476fc3"/><stop offset="81.8%" stop-color="#476fc3"/><stop offset="84.8%" stop-color="#476fc3"/><stop offset="87.9%" stop-color="#476fc3"/><stop offset="90.9%" stop-color="#476fc3"/><stop offset="93.9%" stop-color="#476dc2"/><stop offset="97.0%" stop-color="#3d59b1"/><stop offset="100.0%" stop-color="#324196"/></linearGradient>
<linearGradient id="d90"><stop offset="0.0%" stop-color="#e06c26"/><stop offset="3.0%" stop-color="#cd2920"/><stop offset="6.1%" stop-color="#c92220"/><stop offset="9.1%" stop-color="#dd5c24"/><stop offset="12.1%" stop-color="#a7d15d"/><stop offset="15.2%" stop-color="#7cbeda"/><stop offset="18.2%" stop-color="#63a0dc"/><stop offset="21.2%" stop-color="#4a75c8"/><stop offset="24.2%" stop-color="#456abf"/><stop offset="27.3%" stop-color="#4366bd"/><stop offset="30.3%" stop-color="#4265bb"/><stop offset="33.3%" stop-color="#4264bb"/><stop offset="36.4%" stop-color="#4264bb"/><stop offset="39.4%" stop-color="#4263bb"/><stop offset="42.4%" stop-color="#4263bb"/><stop offset="45.5%" stop-color="#4263ba"/><stop offset="48.5%" stop-color="#4263ba"/><stop offset="51.5%" stop-color="#4263ba"/><stop offset="54.5%" stop-color="#4263ba"/><stop offset="57.6%" stop-color="#4263ba"/><stop offset="60.6%" stop-color="#4163ba"/><stop offset="63.6%" stop-color="#4163ba"/><stop offset="66.7%" stop-color="#4163ba"/><stop offset="69.7%" stop-color="#4163ba"/><stop offset="72.7%" stop-color="#4163ba"/><stop offset="75.8%" stop-color="#4163ba"/><stop offset="78.8%" stop-color="#4263ba"/><stop offset="81.8%" stop-color="#4263ba"/><stop offset="84.8%" stop-color="#4263ba"/><stop offset="87.9%" stop-color="#4263ba"/><stop offset="90.9%" stop-color="#4263ba"/><stop offset="93.9%" stop-color="#4162b9"/><stop offset="97.0%" stop-color="#374da3"/><stop offset="100.0%" stop-color="#2e398e"/></linearGradient>
<linearGradient id="d91"><stop offset="0.0%" stop-color="#e4842a"/><stop offset="3.0%" stop-color="#da4921"/><stop offset="6.1%" stop-color="#d63d20"/><stop offset="9.1%" stop-color="#e6962c"/><stop offset="12.1%" stop-color="#8ec998"/><stop offset="15.2%" stop-color="#6eb2e1"/><stop offset="18.2%" stop-color="#4f7fcf"/><stop offset="21.2%" stop-color="#466bc1"/><stop offset="24.2%" stop-color="#4163ba"/><stop offset="27.3%" stop-color="#405fb7"/><stop offset="30.3%" stop-color="#3f5db5"/><stop offset="33.3%" stop-color="#3e5db4"/><stop offset="36.4%" stop-color="#3e5cb4"/><stop offset="39.4%" stop-color="#3e5cb4"/><stop offset="42.4%" stop-color="#3e5cb4"/><stop offset="45.5%" stop-color="#3e5cb4"/><stop offset="48.5%" stop-color="#3e5cb4"/><stop offset="51.5%" stop-color="#3e5cb3"/><stop offset="54.5%" stop-color="#3e5cb3"/><stop offset="57.6%" stop-color="#3e5cb3"/><stop offset="60.6%" stop-color="#3e5cb3"/><stop offset="63.6%" stop-color="#3e5cb3"/><stop offset="66.7%" stop-color="#3e5cb3"/><stop offset="69.7%" stop-color="#3e5cb3"/><stop offset="72.7%" stop-color="#3e5cb3"/><stop offset="75.8%" stop-color="#3e5cb3"/><stop offset="78.8%" stop-color="#3e5cb3"/><stop offset="81.8%" stop-color="#3e5cb3"/><stop offset="84.8%" stop-color="#3e5cb3"/><stop offset="87.9%" stop-color="#3e5cb4"/><stop offset="90.9%" stop-color="#3e5cb3"/><stop offset="93.9%" stop-color="#3d5ab2"/><stop offset="97.0%" stop-color="#34469b"/><stop offset="100.0%" stop-color="#2d368b"/></linearGradient>
<linearGradient id="d92"><stop offset="0.0%" stop-color="#e7992d"/><stop offset="3.0%" stop-color="#e06b26"/><stop offset="6.1%" stop-color="#de6125"/><stop offset="9.1%" stop-color="#eab730"/><stop offset="12.1%" stop-color="#88c7b1"/><stop offset="15.2%" stop-color="#68a9df"/><stop offset="18.2%" stop-color="#4d7acc"/><stop offset="21.2%" stop-color="#4469be"/><stop offset="24.2%" stop-color="#4060b8"/><stop offset="27.3%" stop-color="#3e5cb4"/><stop offset="30.3%" stop-color="#3d5ab2"/><stop offset="33.3%" stop-color="#3d5ab1"/><stop offset="36.4%" stop-color="#3d59b1"/><stop offset="39.4%" stop-color="#3d59b1"/><stop offset="42.4%" stop-color="#3d59b1"/><stop offset="45.5%" stop-color="#3d59b0"/><stop offset="48.5%" stop-color="#3d59b0"/><stop offset="51.5%" stop-color="#3d59b0"/><stop offset="54.5%" stop-color="#3d59b0"/><stop offset="57.6%" stop-color="#3d59b0"/><stop offset="60.6%" stop-color="#3d59b0"/><stop offset="63.6%" stop-color="#3d59b0"/><stop offset="66.7%" stop-color="#3d59b0"/><stop offset="69.7%" stop-color="#3d59b0"/><stop offset="72.7%" stop-color="#3d59b0"/><stop offset="75.8%" stop-color="#3d59b0"/><stop offset="78.8%" stop-color="#3d59b0"/><stop offset="81.8%" stop-color="#3d59b0"/><stop offset="84.8%" stop-color="#3d59b0"/><stop offset="87.9%" stop-color="#3d59b0"/><stop offset="90.9%" stop-color="#3d59b0"/><stop offset="93.9%" stop-color="#3c57ae"/><stop offset="97.0%" stop-color="#334399"/><stop offset="100.0%" stop-color="#2d368a"/></linearGradient>
<linearGradient id="cbar" x1="0" y1="0" x2="0" y2="1"><stop offset="0.000" stop-color="#641010"/><stop offset="0.050" stop-color="#7f1414"/><stop offset="0.100" stop-color="#9b1717"/><stop offset="0.150" stop-color="#b21c1c"/><stop offset="0.200" stop-color="#c82020"/><stop offset="0.250" stop-color="#d33720"/><stop offset="0.300" stop-color="#dc5823"/><stop offset="0.350" stop-color="#e38129"/><stop offset="0.400" stop-color="#eab030"/><stop offset="0.450" stop-color="#e8d830"/><stop offset="0.500" stop-color="#c3d745"/><stop offset="0.550" stop-color="#a7d15d"/><stop offset="0.600" stop-color="#92cb8e"/><stop offset="0.650" stop-color="#86c5ba"/><stop offset="0.700" stop-color="#7dbfd9"/><stop offset="0.750" stop-color="#6fb3e1"/><stop offset="0.800" stop-color="#5990d6"/><stop offset="0.850" stop-color="#4a74c7"/><stop offset="0.900" stop-color="#4060b8"/><stop offset="0.950" stop-color="#364aa0"/><stop offset="1.000" stop-color="#2c3488"/></linearGradient>
</defs>
<rect x="382.5" y="30" width="98.80" height="1" fill="url(#d0)"/>
<rect x="382.5" y="31" width="98.80" height="1" fill="url(#d1)"/>
<rect x="382.5" y="32" width="98.80" height="1" fill="url(#d2)"/>
<rect x="382.5" y="33" width="98.80" height="1" fill="url(#d3)"/>
<rect x="382.5" y="34" width="98.80" height="1" fill="url(#d4)"/>
<rect x="382.5" y="35" width="98.80" height="1" fill="url(#d5)"/>
<rect x="382.5" y="36" width="98.80" height="1" fill="url(#d6)"/>
<rect x="382.5" y="37" width="98.80" height="1" fill="url(#d7)"/>
<rect x="382.5" y="38" width="98.80" height="1" fill="url(#d8)"/>
<rect x="382.5" y="39" width="98.80" height="1" fill="url(#d9)"/>
<rect x="382.5" y="40" width="98.80" height="1" fill="url(#d10)"/>
<rect x="382.5" y="41" width="98.80" height="1" fill="url(#d11)"/>
<rect x="382.5" y="42" width="98.80" height="1" fill="url(#d12)"/>
<rect x="382.5" y="43" width="98.80" height="1" fill="url(#d13)"/>
<rect x="382.5" y="44" width="98.80" height="1" fill="url(#d14)"/>
<rect x="382.5" y="45" width="98.80" height="1" fill="url(#d15)"/>
<rect x="382.5" y="46" width="98.80" height="1" fill="url(#d16)"/>
<rect x="382.5" y="47" width="98.80" height="1" fill="url(#d17)"/>
<rect x="382.5" y="48" width="98.80" height="1" fill="url(#d18)"/>
<rect x="382.5" y="49" width="98.80" height="1" fill="url(#d19)"/>
<rect x="382.5" y="50" width="98.80" height="1" fill="url(#d20)"/>
<rect x="382.5" y="51" width="98.80" height="1" fill="url(#d21)"/>
<rect x="382.5" y="52" width="98.80" height="1" fill="url(#d22)"/>
<rect x="382.5" y="53" width="98.80" height="1" fill="url(#d23)"/>
<rect x="382.5" y="54" width="98.80" height="1" fill="url(#d24)"/>
<rect x="382.5" y="55" width="98.80" height="1" fill="url(#d25)"/>
<rect x="382.5" y="56" width="98.80" height="1" fill="url(#d26)"/>
<rect x="382.5" y="57" width="98.80" height="1" fill="url(#d27)"/>
<rect x="382.5" y="58" width="98.80" height="1" fill="url(#d28)"/>
<rect x="382.5" y="59" width="98.80" height="1" fill="url(#d29)"/>
<rect x="382.5" y="60" width="98.80" height="1" fill="url(#d30)"/>
<rect x="382.5" y="61" width="98.80" height="1" fill="url(#d31)"/>
<rect x="382.5" y="62" width="98.80" height="1" fill="url(#d32)"/>
<rect x="382.5" y="63" width="98.80" height="1" fill="url(#d33)"/>
<rect x="382.5" y="64" width="98.80" height="1" fill="url(#d34)"/>
<rect x="382.5" y="65" width="98.80" height="1" fill="url(#d35)"/>
<rect x="382.5" y="66" width="98.80" height="1" fill="url(#d36)"/>
<rect x="382.5" y="67" width="98.80" height="1" fill="url(#d37)"/>
<rect x="382.5" y="68" width="98.80" height="1" fill="url(#d38)"/>
<rect x="382.5" y="69" width="98.80" height="1" fill="url(#d39)"/>
<rect x="382.5" y="70" width="98.80" height="1" fill="url(#d40)"/>
<rect x="382.5" y="71" width="98.80" height="1" fill="url(#d41)"/>
<rect x="382.5" y="72" width="98.80" height="1" fill="url(#d42)"/>
<rect x="382.5" y="73" width="98.80" height="1" fill="url(#d43)"/>
<rect x="382.5" y="74" width="98.80" height="1" fill="url(#d44)"/>
<rect x="382.5" y="75" width="98.80" height="1" fill="url(#d45)"/>
<rect x="382.5" y="76" width="98.80" height="1" fill="url(#d46)"/>
<rect x="382.5" y="77" width="98.80" height="1" fill="url(#d47)"/>
<rect x="382.5" y="78" width="98.80" height="1" fill="url(#d48)"/>
<rect x="382.5" y="79" width="98.80" height="1" fill="url(#d49)"/>
<rect x="382.5" y="80" width="98.80" height="1" fill="url(#d50)"/>
<rect x="382.5" y="81" width="98.80" height="1" fill="url(#d51)"/>
<rect x="382.5" y="82" width="98.80" height="1" fill="url(#d52)"/>
<rect x="382.5" y="83" width="98.80" height="1" fill="url(#d53)"/>
<rect x="382.5" y="84" width="98.80" height="1" fill="url(#d54)"/>
<rect x="382.5" y="85" width="98.80" height="1" fill="url(#d55)"/>
<rect x="382.5" y="86" width="98.80" height="1" fill="url(#d56)"/>
<rect x="382.5" y="87" width="98.80" height="1" fill="url(#d57)"/>
<rect x="382.5" y="88" width="98.80" height="1" fill="url(#d58)"/>
<rect x="382.5" y="89" width="98.80" height="1" fill="url(#d59)"/>
<rect x="382.5" y="90" width="98.80" height="1" fill="url(#d60)"/>
<rect x="382.5" y="91" width="98.80" height="1" fill="url(#d61)"/>
<rect x="382.5" y="92" width="98.80" height="1" fill="url(#d62)"/>
<rect x="382.5" y="93" width="98.80" height="1" fill="url(#d63)"/>
<rect x="382.5" y="94" width="98.80" height="1" fill="url(#d64)"/>
<rect x="382.5" y="95" width="98.80" height="1" fill="url(#d65)"/>
<rect x="382.5" y="96" width="98.80" height="1" fill="url(#d66)"/>
<rect x="382.5" y="97" width="98.80" height="1" fill="url(#d67)"/>
<rect x="382.5" y="98" width="98.80" height="1" fill="url(#d68)"/>
<rect x="382.5" y="99" width="98.80" height="1" fill="url(#d69)"/>
<rect x="382.5" y="100" width="98.80" height="1" fill="url(#d70)"/>
<rect x="382.5" y="101" width="98.80" height="1" fill="url(#d71)"/>
<rect x="382.5" y="102" width="98.80" height="1" fill="url(#d72)"/>
<rect x="382.5" y="103" width="98.80" height="1" fill="url(#d73)"/>
<rect x="382.5" y="104" width="98.80" height="1" fill="url(#d74)"/>
<rect x="382.5" y="105" width="98.80" height="1" fill="url(#d75)"/>
<rect x="382.5" y="106" width="98.80" height="1" fill="url(#d76)"/>
<rect x="382.5" y="107" width="98.80" height="1" fill="url(#d77)"/>
<rect x="382.5" y="108" width="98.80" height="1" fill="url(#d78)"/>
<rect x="382.5" y="109" width="98.80" height="1" fill="url(#d79)"/>
<rect x="382.5" y="110" width="98.80" height="1" fill="url(#d80)"/>
<rect x="382.5" y="111" width="98.80" height="1" fill="url(#d81)"/>
<rect x="382.5" y="112" width="98.80" height="1" fill="url(#d82)"/>
<rect x="382.5" y="113" width="98.80" height="1" fill="url(#d83)"/>
<rect x="382.5" y="114" width="98.80" height="1" fill="url(#d84)"/>
<rect x="382.5" y="115" width="98.80" height="1" fill="url(#d85)"/>
<rect x="382.5" y="116" width="98.80" height="1" fill="url(#d86)"/>
<rect x="382.5" y="117" width="98.80" height="1" fill="url(#d87)"/>
<rect x="382.5" y="118" width="98.80" height="1" fill="url(#d88)"/>
<rect x="382.5" y="119" width="98.80" height="1" fill="url(#d89)"/>
<rect x="382.5" y="120" width="98.80" height="1" fill="url(#d90)"/>
<rect x="382.5" y="121" width="98.80" height="1" fill="url(#d91)"/>
<rect x="382.5" y="122" width="98.80" height="1" fill="url(#d92)"/>
<rect x="382.5" y="30.6" width="98.8" height="91.6" fill="none" stroke="#1a1a1a" stroke-width="0.9"/>
<line x1="382.5" y1="122.2" x2="382.5" y2="124.4" stroke="#333" stroke-width="0.8"/>
<line x1="380.3" y1="122.2" x2="382.5" y2="122.2" stroke="#333" stroke-width="0.8"/>
<text x="382.5" y="135.2" font-size="6.0" text-anchor="middle" fill="#222" >0.0</text>
<text transform="translate(374.1,122.20) rotate(-90)" font-size="6.0" text-anchor="middle" fill="#222">0.0</text>
<line x1="402.26" y1="122.2" x2="402.26" y2="124.4" stroke="#333" stroke-width="0.8"/>
<line x1="380.3" y1="103.88" x2="382.5" y2="103.88" stroke="#333" stroke-width="0.8"/>
<text x="402.26" y="135.2" font-size="6.0" text-anchor="middle" fill="#222" >0.2</text>
<text transform="translate(374.1,103.88) rotate(-90)" font-size="6.0" text-anchor="middle" fill="#222">0.2</text>
<line x1="422.02" y1="122.2" x2="422.02" y2="124.4" stroke="#333" stroke-width="0.8"/>
<line x1="380.3" y1="85.56" x2="382.5" y2="85.56" stroke="#333" stroke-width="0.8"/>
<text x="422.02" y="135.2" font-size="6.0" text-anchor="middle" fill="#222" >0.4</text>
<text transform="translate(374.1,85.56) rotate(-90)" font-size="6.0" text-anchor="middle" fill="#222">0.4</text>
<line x1="441.78" y1="122.2" x2="441.78" y2="124.4" stroke="#333" stroke-width="0.8"/>
<line x1="380.3" y1="67.24" x2="382.5" y2="67.24" stroke="#333" stroke-width="0.8"/>
<text x="441.78" y="135.2" font-size="6.0" text-anchor="middle" fill="#222" >0.6</text>
<text transform="translate(374.1,67.24) rotate(-90)" font-size="6.0" text-anchor="middle" fill="#222">0.6</text>
<line x1="461.54" y1="122.2" x2="461.54" y2="124.4" stroke="#333" stroke-width="0.8"/>
<line x1="380.3" y1="48.92" x2="382.5" y2="48.92" stroke="#333" stroke-width="0.8"/>
<text x="461.54" y="135.2" font-size="6.0" text-anchor="middle" fill="#222" >0.8</text>
<text transform="translate(374.1,48.92) rotate(-90)" font-size="6.0" text-anchor="middle" fill="#222">0.8</text>
<line x1="481.3" y1="122.2" x2="481.3" y2="124.4" stroke="#333" stroke-width="0.8"/>
<line x1="380.3" y1="30.6" x2="382.5" y2="30.6" stroke="#333" stroke-width="0.8"/>
<text x="481.3" y="135.2" font-size="6.0" text-anchor="middle" fill="#222" >1.0</text>
<text transform="translate(374.1,30.60) rotate(-90)" font-size="6.0" text-anchor="middle" fill="#222">1.0</text>
<text x="431.8" y="144.3" font-size="6.9" text-anchor="middle" fill="#222" >Methylation in controls</text>
<text transform="translate(365.3,76.5) rotate(-90)" font-size="6.8" text-anchor="middle" fill="#222">Methylation in APL</text>
<rect x="492.4" y="47.4" width="4.3" height="60.7" fill="url(#cbar)"/>
<rect x="492.4" y="47.4" width="4.3" height="60.7" fill="none" stroke="#222" stroke-width="0.6"/>
<line x1="496.7" y1="48.8" x2="497.8" y2="48.8" stroke="#333" stroke-width="0.6"/>
<text x="498" y="50.9" font-size="6.0" fill="#222" >580000</text>
<line x1="496.7" y1="60.5" x2="497.8" y2="60.5" stroke="#333" stroke-width="0.6"/>
<text x="498" y="62.6" font-size="6.0" fill="#222" >2400</text>
<line x1="496.7" y1="72.2" x2="497.8" y2="72.2" stroke="#333" stroke-width="0.6"/>
<text x="498" y="74.3" font-size="6.0" fill="#222" >800</text>
<line x1="496.7" y1="83.8" x2="497.8" y2="83.8" stroke="#333" stroke-width="0.6"/>
<text x="498" y="85.9" font-size="6.0" fill="#222" >200</text>
<line x1="496.7" y1="96.5" x2="497.8" y2="96.5" stroke="#333" stroke-width="0.6"/>
<text x="498" y="98.6" font-size="6.0" fill="#222" >2</text>
<line x1="496.7" y1="107.2" x2="497.8" y2="107.2" stroke="#333" stroke-width="0.6"/>
<text x="498" y="109.3" font-size="6.0" fill="#222" >0</text>
<line x1="353.9" y1="220" x2="353.9" y2="325" stroke="#888" stroke-width="1.0"/>
<line x1="353.9" y1="233.2" x2="506.5" y2="233.2" stroke="#aaa" stroke-width="0.8"/>
<line x1="353.9" y1="248.5" x2="506.5" y2="248.5" stroke="#aaa" stroke-width="0.8"/>
<line x1="353.9" y1="264.2" x2="506.5" y2="264.2" stroke="#aaa" stroke-width="0.8"/>
<line x1="353.9" y1="280.5" x2="506.5" y2="280.5" stroke="#aaa" stroke-width="0.8"/>
<line x1="353.9" y1="295" x2="506.5" y2="295" stroke="#aaa" stroke-width="0.8"/>
<line x1="353.9" y1="309.4" x2="506.5" y2="309.4" stroke="#aaa" stroke-width="0.8"/>
<path d="M361.8 233.2L361.8 221.4L372.0 221.4L372.3 223.6L375.3 223.6L375.4 222.3L377.2 222.3L377.4 223.8L385.0 224.2L392.0 225.0L398.0 225.6L404.0 227.2L408.8 228.4L414.0 227.4L420.0 227.2L426.0 226.3L432.0 225.9L438.0 226.8L444.0 227.4L447.6 227.5L447.8 225.8L448.6 225.8L448.8 230.6L452.0 230.8L454.6 229.8L455.2 229.0L455.6 233.2Z" fill="#2c3893"/>
<path d="M478.1 233.2L478.1 230.4L483.0 230.2L486.0 229.6L489.0 228.2L492.0 226.2L495.0 224.0L497.5 222.4L498.6 221.4L499.6 222.2L500.8 221.2L502.0 221.9L503.2 221.0L504.2 221.6L505.3 222.2L505.3 233.2Z" fill="#2c3893"/>
<path d="M361.8 248.5L361.8 237.3L366.0 237.3L369.0 238.0L372.0 239.4L374.5 240.8L375.3 240.2L376.8 239.0L377.3 240.6L382.0 242.2L388.0 243.6L394.0 245.0L400.0 246.3L406.0 247.3L410.0 247.6L414.0 248.0L420.0 248.3L420.0 248.5Z" fill="#2c3893"/>
<path d="M487.0 248.5L489.0 246.8L492.0 244.2L495.0 241.5L497.5 239.0L499.0 237.6L501.0 237.8L502.5 237.2L505.3 238.0L505.3 248.5Z" fill="#2c3893"/>
<path d="M368.0 264.2L372.0 262.2L375.8 261.2L380.0 260.9L385.0 259.6L390.0 259.8L395.0 259.0L400.8 258.7L405.0 259.6L408.6 262.0L412.0 259.6L418.0 259.2L424.0 259.8L430.0 259.5L436.0 259.9L442.0 260.3L446.8 260.4L447.0 257.7L447.8 257.7L448.0 264.2Z" fill="#2c3893"/>
<rect x="454.2" y="260.8" width="0.9" height="3.4" fill="#2c3893"/>
<path d="M477.7 264.2L477.7 262.0L482.0 261.6L486.0 261.8L490.0 261.0L494.0 261.2L496.5 262.0L497.7 264.2Z" fill="#2c3893"/>
<rect x="361.16" y="267.3" width="1.75" height="3.7" fill="#e48e9c"/>
<rect x="362.89" y="267.3" width="1.75" height="3.7" fill="#a52234"/>
<rect x="364.62" y="267.3" width="1.98" height="3.7" fill="#d25264"/>
<rect x="368.08" y="267.3" width="1.75" height="3.7" fill="#222222"/>
<rect x="374.42" y="267.3" width="1.75" height="3.7" fill="#4a3232"/>
<rect x="376.73" y="267.3" width="1.75" height="3.7" fill="#b89494"/>
<rect x="378.46" y="267.3" width="1.75" height="3.7" fill="#948080"/>
<rect x="380.19" y="267.3" width="2.33" height="3.7" fill="#d6a2a6"/>
<rect x="382.5" y="267.3" width="2.33" height="3.7" fill="#c27070"/>
<rect x="384.8" y="267.3" width="1.75" height="3.7" fill="#c2303e"/>
<rect x="386.54" y="267.3" width="1.75" height="3.7" fill="#842232"/>
<rect x="390" y="267.3" width="1.75" height="3.7" fill="#d2323e"/>
<rect x="392.3" y="267.3" width="2.33" height="3.7" fill="#922232"/>
<rect x="394.61" y="267.3" width="2.33" height="3.7" fill="#b2323e"/>
<rect x="396.92" y="267.3" width="1.75" height="3.7" fill="#442222"/>
<rect x="399.8" y="267.3" width="1.75" height="3.7" fill="#742232"/>
<rect x="402.11" y="267.3" width="1.75" height="3.7" fill="#842232"/>
<rect x="404.41" y="267.3" width="1.75" height="3.7" fill="#141414"/>
<rect x="406.14" y="267.3" width="1.75" height="3.7" fill="#34442a"/>
<rect x="408.45" y="267.3" width="1.18" height="3.7" fill="#343434"/>
<rect x="411.91" y="267.3" width="2.33" height="3.7" fill="#943242"/>
<rect x="414.22" y="267.3" width="2.33" height="3.7" fill="#a84252"/>
<rect x="416.52" y="267.3" width="1.75" height="3.7" fill="#8a3040"/>
<rect x="420.61" y="267.3" width="1.88" height="3.7" fill="#8a2a3a"/>
<rect x="423.36" y="267.3" width="2.43" height="3.7" fill="#5a2a2a"/>
<rect x="425.55" y="267.3" width="2.06" height="3.7" fill="#b23a4a"/>
<rect x="431.58" y="267.3" width="2.43" height="3.7" fill="#3a2a2a"/>
<rect x="434.33" y="267.3" width="2.43" height="3.7" fill="#5a3a3a"/>
<rect x="437.07" y="267.3" width="2.43" height="3.7" fill="#3a2a2a"/>
<rect x="439.81" y="267.3" width="2.43" height="3.7" fill="#4a3030"/>
<rect x="447.12" y="267.3" width="2.43" height="3.7" fill="#8a8a5a"/>
<rect x="449.86" y="267.3" width="2.43" height="3.7" fill="#3a3a2a"/>
<rect x="452.61" y="267.3" width="2.43" height="3.7" fill="#4a3a2a"/>
<rect x="478.2" y="267.3" width="2.43" height="3.7" fill="#6a7a3a"/>
<rect x="481.86" y="267.3" width="2.43" height="3.7" fill="#8a9a50"/>
<rect x="485.51" y="267.3" width="2.43" height="3.7" fill="#c8b0a0"/>
<rect x="490.08" y="267.3" width="2.43" height="3.7" fill="#5a3a2a"/>
<rect x="492.83" y="267.3" width="2.43" height="3.7" fill="#a85050"/>
<rect x="496.48" y="267.3" width="1.51" height="3.7" fill="#3a2a2a"/>
<rect x="500.14" y="267.3" width="1.7" height="3.7" fill="#c84858"/>
<rect x="502.88" y="267.3" width="2.43" height="3.7" fill="#c84858"/>
<rect x="361.16" y="282.8" width="1.75" height="3.8" fill="#d88a96"/>
<rect x="362.89" y="282.8" width="1.75" height="3.8" fill="#942838"/>
<rect x="364.62" y="282.8" width="1.75" height="3.8" fill="#3a2a2a"/>
<rect x="366.35" y="282.8" width="1.75" height="3.8" fill="#8a2a3a"/>
<rect x="368.66" y="282.8" width="1.75" height="3.8" fill="#2a2a2a"/>
<rect x="370.96" y="282.8" width="1.75" height="3.8" fill="#3a2a2a"/>
<rect x="373.27" y="282.8" width="1.75" height="3.8" fill="#2a2a2a"/>
<rect x="375" y="282.8" width="1.75" height="3.8" fill="#3a3a2a"/>
<rect x="377.31" y="282.8" width="1.75" height="3.8" fill="#4a4a3a"/>
<rect x="379.04" y="282.8" width="1.75" height="3.8" fill="#4a5a3a"/>
<rect x="381.34" y="282.8" width="1.75" height="3.8" fill="#8a9a70"/>
<rect x="383.07" y="282.8" width="1.75" height="3.8" fill="#3a3a2a"/>
<rect x="385.38" y="282.8" width="1.75" height="3.8" fill="#8a9a6a"/>
<rect x="387.11" y="282.8" width="1.75" height="3.8" fill="#9a9a8a"/>
<rect x="390.57" y="282.8" width="1.18" height="3.8" fill="#3a3a2a"/>
<rect x="392.3" y="282.8" width="1.75" height="3.8" fill="#5a6a3a"/>
<rect x="394.61" y="282.8" width="1.18" height="3.8" fill="#3a3a2a"/>
<rect x="396.92" y="282.8" width="1.75" height="3.8" fill="#b0cc70"/>
<rect x="399.22" y="282.8" width="2.91" height="3.8" fill="#a8c86a"/>
<rect x="402.11" y="282.8" width="2.33" height="3.8" fill="#b4d276"/>
<rect x="404.41" y="282.8" width="2.33" height="3.8" fill="#9ab85a"/>
<rect x="406.72" y="282.8" width="2.33" height="3.8" fill="#b6d47a"/>
<rect x="411.91" y="282.8" width="2.91" height="3.8" fill="#a0c060"/>
<rect x="414.79" y="282.8" width="3.48" height="3.8" fill="#98b858"/>
<rect x="420.61" y="282.8" width="1.88" height="3.8" fill="#a8c86a"/>
<rect x="423.36" y="282.8" width="4.26" height="3.8" fill="#9cbc60"/>
<rect x="431.58" y="282.8" width="4.26" height="3.8" fill="#b0cc70"/>
<rect x="435.79" y="282.8" width="3.71" height="3.8" fill="#a4c466"/>
<rect x="447.12" y="282.8" width="4.26" height="3.8" fill="#98b860"/>
<rect x="451.14" y="282.8" width="3.89" height="3.8" fill="#a8c46c"/>
<rect x="478.2" y="282.8" width="4.26" height="3.8" fill="#8a9a50"/>
<rect x="482.77" y="282.8" width="3.34" height="3.8" fill="#a0b860"/>
<rect x="485.88" y="282.8" width="3.89" height="3.8" fill="#90a858"/>
<rect x="490.08" y="282.8" width="3.34" height="3.8" fill="#6a4a3a"/>
<rect x="493.19" y="282.8" width="2.06" height="3.8" fill="#9a7060"/>
<rect x="496.48" y="282.8" width="1.51" height="3.8" fill="#3a2a2a"/>
<rect x="500.14" y="282.8" width="1.7" height="3.8" fill="#a04a4a"/>
<rect x="502.88" y="282.8" width="2.43" height="3.8" fill="#b05050"/>
<line x1="414.8" y1="300.2" x2="506.6" y2="300.2" stroke="#2c3893" stroke-width="0.8"/>
<rect x="414.8" y="299" width="9.8" height="2.5" fill="#2c3893"/>
<rect x="424.6" y="297.5" width="17.6" height="4.6" fill="#2c3893"/>
<circle cx="429.5" cy="299.8" r="0.8" fill="#fff"/>
<circle cx="450.3" cy="300.2" r="0.7" fill="#2c3893"/>
<circle cx="461.9" cy="300.2" r="0.7" fill="#2c3893"/>
<circle cx="473.8" cy="300.2" r="0.7" fill="#2c3893"/>
<circle cx="485.0" cy="300.2" r="0.7" fill="#2c3893"/>
<rect x="495.3" y="297.6" width="6.2" height="5.1" fill="#2c3893"/>
<text x="432.2" y="308.9" font-size="6.9" text-anchor="middle" fill="#222" >CACNA1B</text>
<rect x="356.2" y="312.2" width="139" height="3.4" fill="#2c3893"/>
<text x="438.5" y="322.6" font-size="6.6" text-anchor="middle" fill="#222" >Number of CpGs: 216</text>
<text x="322.6" y="229.7" font-size="6.9" text-anchor="middle" fill="#222" >Average APL</text>
<text x="322" y="245.3" font-size="6.9" text-anchor="middle" fill="#222" >Average Control</text>
<text x="320.9" y="261.3" font-size="6.9" text-anchor="middle" fill="#222" >Difference</text>
<text x="320.8" y="274" font-size="6.9" text-anchor="middle" fill="#222" >APL #10</text>
<text x="321.1" y="288.4" font-size="6.9" text-anchor="middle" fill="#222" >CD34 #A</text>
<text x="320.6" y="302.4" font-size="7.4" text-anchor="middle" fill="#222" >Gene</text>
<text x="322.2" y="316.8" font-size="6.9" text-anchor="middle" fill="#222" >CpG Islands</text>
</svg></body></html>
